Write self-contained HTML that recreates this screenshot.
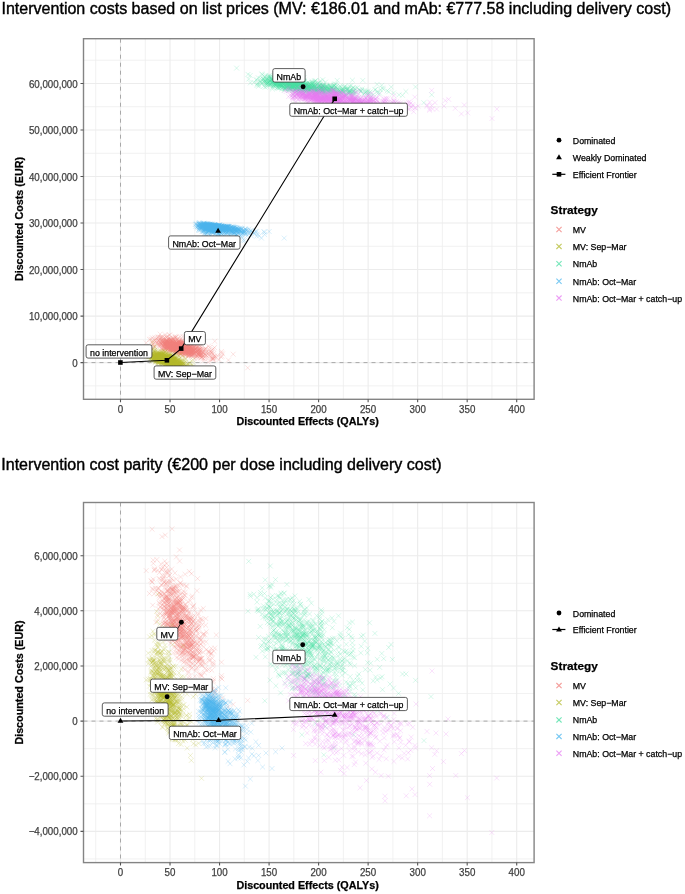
<!DOCTYPE html><html><head><meta charset="utf-8"><style>html,body{margin:0;padding:0;background:#fff;}svg{display:block;filter:blur(0.4px);} text{stroke:currentColor;stroke-width:0.25px;}</style></head><body><svg width="685" height="894" viewBox="0 0 685 894" font-family='"Liberation Sans", sans-serif'>
<defs><marker id="mMV" markerUnits="userSpaceOnUse" markerWidth="6.9" markerHeight="6.9" refX="3.45" refY="3.45" overflow="visible"><path d="M1 1l4.9 4.9m0 -4.9l-4.9 4.9" stroke="#F07E7A" stroke-opacity="0.27" stroke-width="0.8" fill="none"/></marker><marker id="mSEP" markerUnits="userSpaceOnUse" markerWidth="6.9" markerHeight="6.9" refX="3.45" refY="3.45" overflow="visible"><path d="M1 1l4.9 4.9m0 -4.9l-4.9 4.9" stroke="#B2BA2C" stroke-opacity="0.27" stroke-width="0.8" fill="none"/></marker><marker id="mNMAB" markerUnits="userSpaceOnUse" markerWidth="6.9" markerHeight="6.9" refX="3.45" refY="3.45" overflow="visible"><path d="M1 1l4.9 4.9m0 -4.9l-4.9 4.9" stroke="#46DEA2" stroke-opacity="0.27" stroke-width="0.8" fill="none"/></marker><marker id="mOCT" markerUnits="userSpaceOnUse" markerWidth="6.9" markerHeight="6.9" refX="3.45" refY="3.45" overflow="visible"><path d="M1 1l4.9 4.9m0 -4.9l-4.9 4.9" stroke="#4AB5EE" stroke-opacity="0.27" stroke-width="0.8" fill="none"/></marker><marker id="mCU" markerUnits="userSpaceOnUse" markerWidth="6.9" markerHeight="6.9" refX="3.45" refY="3.45" overflow="visible"><path d="M1 1l4.9 4.9m0 -4.9l-4.9 4.9" stroke="#E67CF2" stroke-opacity="0.27" stroke-width="0.8" fill="none"/></marker></defs>
<rect width="685" height="894" fill="#fff"/>
<text x="1.5" y="14.3" font-size="16.04" style="stroke-width:0.4px">Intervention costs based on list prices (MV: €186.01 and mAb: €777.58 including delivery cost)</text>
<text x="1.3" y="469.8" font-size="16.04" style="stroke-width:0.4px">Intervention cost parity (€200 per dose including delivery cost)</text>
<path d="M95.74 38.7V399.3M145.26 38.7V399.3M194.79 38.7V399.3M244.31 38.7V399.3M293.84 38.7V399.3M343.36 38.7V399.3M392.89 38.7V399.3M442.41 38.7V399.3M491.94 38.7V399.3M83.5 385.86H534.1M83.5 339.34H534.1M83.5 292.82H534.1M83.5 246.30H534.1M83.5 199.78H534.1M83.5 153.26H534.1M83.5 106.74H534.1M83.5 60.22H534.1" stroke="#EDEDED" stroke-width="0.8" fill="none"/>
<path d="M120.50 38.7V399.3M170.03 38.7V399.3M219.55 38.7V399.3M269.08 38.7V399.3M318.60 38.7V399.3M368.12 38.7V399.3M417.65 38.7V399.3M467.18 38.7V399.3M516.70 38.7V399.3M83.5 362.60H534.1M83.5 316.08H534.1M83.5 269.56H534.1M83.5 223.04H534.1M83.5 176.52H534.1M83.5 130.00H534.1M83.5 83.48H534.1" stroke="#ECECEC" stroke-width="1.1" fill="none"/>
<path d="M120.50 38.7V399.3M83.5 362.60H534.1" stroke="#A8A8A8" stroke-width="1" stroke-dasharray="4 4" fill="none"/>
<polyline fill="none" stroke="none" marker-start="url(#mMV)" marker-mid="url(#mMV)" marker-end="url(#mMV)" points="184.9,351.1 184.7,346.3 193.1,351.5 173.4,339.3 185.1,346.0 180.5,350.4 171.0,350.5 174.1,347.5 180.7,347.9 170.5,346.4 180.3,347.8 199.3,351.1 152.1,345.5 177.9,345.2 183.0,342.4 178.6,352.2 166.8,347.9 212.3,357.4 189.4,348.7 161.4,340.4 181.6,352.3 171.7,339.9 168.7,347.3 181.4,352.5 173.8,342.7 192.9,344.8 170.1,343.2 173.8,347.2 167.3,348.2 179.9,346.2 176.1,349.2 183.9,343.4 166.9,343.4 174.2,346.9 190.9,350.9 183.6,346.8 176.3,349.7 190.8,351.2 193.0,356.9 163.0,340.8 174.5,343.2 182.8,347.1 165.9,344.4 189.7,355.0 180.2,339.6 186.6,351.2 183.6,346.3 176.8,350.7 155.9,341.5 180.6,343.6 184.7,352.3 192.4,350.0 189.5,341.8 185.4,346.3 162.7,342.3 178.7,348.4 182.1,352.7 192.3,351.4 180.3,349.9 186.6,344.8 189.5,354.8 162.6,341.7 188.8,350.5 168.1,341.6 188.4,353.0 173.8,338.9 187.5,353.0 183.9,349.6 169.8,341.7 168.6,347.0 166.7,341.6 202.0,357.1 179.5,343.5 174.8,345.0 186.0,351.3 166.3,344.3 172.8,346.3 169.2,350.0 204.9,357.3 182.3,344.3 180.1,342.9 177.1,345.3 183.3,350.1 189.5,353.3 183.0,350.9 178.5,350.4 181.6,351.3 182.5,350.1 191.9,353.1 166.2,337.1 199.7,354.7 182.3,352.2 228.4,360.1 166.5,342.4 181.3,344.1 182.4,344.0 198.2,354.1 152.1,347.4 161.6,344.6 182.4,350.3 167.3,349.3 211.8,353.0 185.3,348.9 179.9,349.4 209.1,353.1 176.4,348.0 172.1,342.9 173.1,344.6 166.2,340.2 177.5,343.8 180.9,352.9 190.8,353.9 178.4,342.2 173.5,349.3 187.3,352.2 170.9,349.2 185.7,353.2 157.9,344.5 183.7,352.4 191.0,352.0 166.7,340.6 177.8,346.5 161.8,341.5 172.6,341.6 188.8,355.3 184.6,348.8 179.4,343.4 170.9,344.9 174.2,345.6 181.2,351.6 177.2,347.1 188.8,350.9 167.7,344.9 164.2,343.6 179.4,342.4 169.0,345.7 184.7,354.1 233.2,354.2 171.1,345.1 179.6,347.9 188.9,350.5 174.4,342.7 186.9,349.3 186.2,350.9 171.8,345.0 177.2,343.1 194.6,353.8 191.2,348.7 183.7,345.2 189.5,345.6 176.2,348.4 178.1,345.7 171.4,345.2 176.4,336.9 180.2,353.6 193.8,353.7 201.6,357.4 170.2,340.2 178.7,350.6 179.7,344.1 200.9,355.3 172.1,341.4 175.3,349.6 167.6,349.8 177.7,343.3 193.6,347.7 180.4,344.7 164.5,337.6 179.8,348.5 204.4,349.1 183.7,348.7 188.4,346.5 173.9,347.7 188.7,353.2 170.4,348.3 192.8,349.7 161.0,344.2 185.9,344.3 175.8,341.4 167.4,346.8 174.0,344.2 194.7,350.3 179.5,352.9 197.6,350.8 165.7,342.3 190.7,346.4 161.1,343.4 199.9,349.2 165.9,342.8 194.9,345.6 187.6,348.9 203.0,350.2 194.4,353.4 177.8,345.6 196.8,355.6 170.9,348.2 191.1,344.2 176.8,345.9 160.9,337.8 183.3,347.9 190.6,349.7 173.2,343.0 211.3,357.4 188.0,345.6 185.3,352.2 168.0,342.0 191.0,347.6 176.0,350.4 195.4,351.5 171.2,346.2 181.8,344.3 180.9,347.6 188.7,352.9 175.7,348.1 172.5,349.2 186.0,350.2 173.8,347.3 182.5,352.8 171.8,340.3 180.8,346.5 166.7,346.8 171.7,350.1 200.6,350.0 185.0,348.0 180.9,345.2 213.9,358.2 176.5,342.6 174.0,340.4 177.8,344.7 208.5,355.1 200.3,346.3 181.2,343.7 190.2,355.2 183.8,350.5 177.2,345.8 182.1,347.2 169.3,344.0 162.6,340.7 188.9,353.9 184.0,349.6 171.9,342.3 187.2,340.7 185.6,349.2 179.0,348.2 198.8,354.2 170.1,346.7 182.3,352.3 183.8,342.8 175.3,345.1 156.8,338.5 180.5,343.9 214.7,355.9 167.2,340.8 196.3,352.4 189.5,352.9 183.7,342.9 172.5,344.5 164.9,348.2 178.1,347.7 183.6,345.8 167.3,346.8 188.1,350.2 203.4,358.9 170.7,345.9 201.0,357.7 173.0,344.5 188.6,349.1 165.4,346.5 209.2,355.3 194.4,350.8 194.3,347.3 190.8,344.5 196.6,347.3 167.1,343.4 198.0,351.5 173.1,346.8 162.9,339.1 199.6,349.6 183.4,349.1 183.4,346.9 192.9,349.7 193.5,350.6 182.5,351.8 178.0,350.0 195.5,348.3 182.6,345.6 185.6,355.3 189.8,348.4 180.6,349.6 159.8,342.1 178.5,342.4 189.8,348.9 193.9,353.1 171.4,342.4 169.0,348.3 167.4,341.9 149.4,339.3 175.9,343.7 163.0,344.3 173.3,348.8 185.3,354.7 169.7,335.0 209.6,347.4 184.4,347.4 179.9,348.6 163.7,345.9 214.8,341.3 180.3,348.9 181.9,346.1 177.0,350.1 190.3,351.1 206.4,351.9 176.2,349.4 169.8,343.4 176.0,345.1 208.6,352.4 175.9,347.4 159.1,346.5 193.8,351.5 174.1,349.2 189.4,353.2 185.7,351.2 180.6,341.9 171.1,340.2 160.1,334.1 173.2,342.1 182.5,355.5 167.3,344.1 175.0,347.8 163.5,345.2 194.8,348.9 177.1,350.7 182.6,340.2 157.3,341.7 208.2,362.1 197.1,351.2 156.7,343.4 174.8,344.9 191.3,354.6 173.5,348.0 169.5,342.3 168.7,346.5 167.0,345.7 183.6,352.9 170.1,341.9 192.1,355.4 167.3,342.9 186.6,347.2 176.2,349.6 171.1,345.7 160.9,342.3 173.2,341.7 146.2,342.9 173.4,341.8 172.9,347.2 155.4,339.6 167.0,342.8 203.7,350.5 173.0,349.9 166.4,341.4 180.2,351.0 193.8,353.8 175.2,349.3 170.4,340.3 172.4,345.7 194.3,352.9 192.1,353.4 198.9,355.1 183.9,344.7 166.4,345.9 183.8,352.7 188.3,349.4 177.8,338.3 173.5,349.3 193.8,350.4 197.5,356.1 164.9,345.0 166.0,344.0 197.7,354.2 172.5,342.4 182.7,347.5 182.0,352.9 173.1,348.1 182.2,350.1 169.8,343.5 182.9,336.4 168.0,346.7 193.3,351.5 170.7,346.5 179.2,349.5 175.4,351.4 176.7,346.8 176.7,351.3 176.3,344.8 171.7,350.4 162.5,342.6 178.9,348.5 165.7,345.5 180.6,346.5 207.5,358.9 166.1,346.2 199.2,351.4 171.5,344.6 152.9,348.2 192.8,354.2 181.5,343.5 187.6,349.1 165.1,343.8 174.0,349.6 179.6,347.1 168.8,346.0 171.8,348.9 178.6,342.5 172.2,349.1 194.9,358.7 176.1,346.1 183.1,353.2 182.4,344.8 185.8,352.5 187.5,347.5 183.3,347.1 176.6,344.3 165.5,348.4 178.7,350.1 188.4,349.8 197.0,350.7 180.2,336.7 174.0,347.5 192.7,348.8 174.9,351.1 181.0,343.7 203.6,352.0 247.7,367.8 175.1,345.7 190.4,346.7 171.7,346.0 180.5,349.2 200.5,355.9 168.0,352.1 183.2,347.7 183.5,351.2 185.7,342.0 164.3,348.1 183.3,343.0 177.4,347.8 198.8,350.1 170.6,343.3 184.9,349.2 175.6,337.3 213.4,356.7 180.8,343.2 190.4,353.2 166.5,339.9 169.4,338.7 196.3,356.5 178.2,343.6 179.2,344.7 164.1,347.2 176.0,345.1 178.3,347.5 197.9,347.0 163.9,345.5 163.9,347.6 182.0,340.5 194.8,344.7 174.9,351.9 178.3,347.3 182.5,351.4 176.7,345.9 174.7,341.3 170.3,343.0 181.4,347.4 190.4,351.2 191.3,349.5 163.3,343.1 191.4,352.3 190.0,351.6 192.6,345.3 184.7,342.1 189.5,347.4 180.5,346.7 168.1,339.1 173.9,349.2 188.1,356.7 192.1,351.3 180.4,346.9 176.9,346.5 166.5,348.1 165.2,347.5 192.6,354.4 189.2,349.8 216.3,357.8 170.8,339.1 192.7,343.4 196.1,348.7 177.0,351.2 168.0,342.9 193.8,339.2 175.6,342.9 175.6,337.8 154.4,346.3 175.1,346.0 182.8,355.3 179.8,344.2 153.2,343.6 206.3,352.4 176.4,351.5 169.2,347.6 163.4,341.3 164.4,342.9 179.7,348.4 184.4,344.9 221.5,351.4 179.4,345.1 176.8,342.4 181.1,341.6 189.3,346.9 172.9,348.7 211.3,359.7 186.6,346.3 201.2,354.7 173.9,347.1 176.1,347.7 178.8,345.7 184.1,351.4 188.3,349.2 193.7,355.3 165.5,343.6 169.7,345.1 191.7,352.6 173.2,350.9 182.8,350.4 162.8,345.2 162.1,345.6 200.4,345.9 187.2,343.7 172.6,349.3 197.3,352.7 178.5,344.5 182.2,353.1 170.4,346.7 204.1,354.8 163.6,346.7 166.6,342.6 176.9,345.9 172.5,346.4 168.9,347.1 192.2,352.5 170.0,349.3 186.3,344.5 177.0,352.7 175.0,347.3 173.0,350.1 180.7,351.8 177.3,345.1 169.1,343.4 169.6,344.2 185.1,350.4 193.0,350.1 199.4,349.4 170.4,347.4 181.4,343.1 173.2,347.3 189.0,345.1 179.8,349.2 193.1,350.2 187.0,349.0 180.3,346.3 181.3,342.0 181.4,346.9 184.4,345.2 177.7,351.4 186.1,353.1 168.3,340.9 183.7,350.0 175.9,346.1 183.6,348.5 171.6,348.2 185.1,344.2 161.8,349.0 160.2,345.5 169.8,344.7 158.2,336.8 191.3,348.5 188.5,355.9 211.8,352.1 198.8,352.3 176.5,349.6 202.9,352.6 174.2,344.6 196.4,347.8 179.7,344.8 197.5,353.5 159.6,342.2 151.0,339.2 166.9,341.9 182.4,343.7 173.8,345.9 182.7,347.7 189.3,344.5 190.0,347.6 161.6,337.6 195.4,351.5 171.8,340.4 163.7,338.2 187.2,346.5 174.4,344.5 172.8,351.2 174.3,340.8 181.0,348.3 176.3,344.4 209.1,350.1 184.8,350.6 191.9,347.5 202.2,349.6 173.3,346.3 185.7,353.2 219.0,359.6 166.2,345.7 164.5,341.3 190.6,349.1 167.6,339.3 168.3,348.2 189.3,345.2 178.1,347.1 183.2,345.3 177.9,348.0 164.4,344.5 171.4,340.8 198.3,354.3 182.0,350.8 184.0,347.9 189.9,349.6 203.3,360.9 178.7,342.9 166.8,341.2 186.6,354.2 192.2,350.7 196.3,345.2 179.7,345.0 178.9,350.8 161.7,336.7 198.5,349.3 176.3,342.7 167.3,345.7 188.1,343.2 154.8,337.7 190.9,354.7 174.0,345.3 168.4,348.5 191.4,354.5 158.5,340.4 202.6,357.8 191.3,351.9 175.8,344.0 185.4,351.2 176.2,349.5 166.2,346.9 172.9,348.5 201.5,355.1 195.8,348.9 190.8,349.9 213.0,359.0 178.7,348.7 175.8,348.4 184.4,349.7 153.2,341.3 186.7,350.8 178.2,346.7 195.0,349.2 202.1,354.5 165.3,344.4 154.2,340.1 198.5,352.8 181.5,347.4 183.4,349.3 183.4,348.0 190.5,351.2 194.6,346.6 192.3,349.4 174.8,345.5 193.0,354.3 205.6,348.5 173.5,347.1 181.5,346.6 217.5,355.6 173.5,349.1 188.3,346.0 169.9,338.7 189.5,347.7 152.7,343.8 177.4,343.5 192.5,348.5 167.9,336.2 159.2,344.0 177.4,339.7 176.6,353.1 184.3,346.3 196.8,356.0 200.4,354.1 158.8,341.1 168.4,347.3 167.7,347.3 176.7,344.4 171.4,344.5 181.2,345.8 159.0,337.5 165.0,341.9 178.9,352.4 174.8,336.5 159.1,345.5 169.9,342.8 179.8,349.4 177.9,344.5 185.5,343.9 174.7,346.2 167.4,345.3 179.6,354.1 187.6,343.2 183.0,349.0 165.9,341.8 176.2,344.5 189.8,350.6 181.1,343.6 166.9,347.1 176.8,339.7 181.6,348.2 189.2,352.0 172.8,344.8 189.0,342.6 173.5,346.0 182.9,347.1 152.0,341.5 214.5,347.5 187.8,345.6 195.5,350.5 169.8,343.3 171.6,348.3 158.9,339.9 192.2,349.7 182.4,341.8 167.2,340.7 167.0,341.4 167.9,350.0 172.0,346.5 162.3,337.9 179.3,349.2 180.5,353.4 190.8,353.1 172.8,348.0 167.1,342.9 201.1,349.9 157.9,337.7 170.4,350.4 169.3,335.1 185.5,348.1 214.6,357.2 200.2,343.2 175.0,349.6 212.7,353.9 197.8,350.9 188.4,342.2 208.6,346.1 191.2,355.8 178.1,348.1 205.2,354.8 180.2,351.4 172.4,348.7 174.9,351.7 170.6,349.1 168.8,343.6 166.1,341.0 205.1,349.7 171.5,348.7 172.0,347.7 172.8,345.3 200.8,354.3 199.4,347.5 183.4,346.3 179.0,341.0 179.2,351.5 192.5,350.6 199.2,353.0 164.4,342.9 199.3,355.4 195.2,349.2 173.4,350.2 175.6,348.4 183.4,349.9 176.9,343.2 175.1,346.6 153.3,344.0 201.3,356.8 175.3,349.7 165.2,334.7 163.9,341.1 185.6,340.3 187.8,352.1 187.0,348.7 176.7,352.2 167.5,346.6 174.8,344.5 167.2,345.1 222.0,356.3 171.3,348.4 189.7,345.8 188.8,352.0 175.6,346.9 174.4,345.4 180.4,347.5 186.7,347.4 184.9,349.5 160.2,337.3 186.7,348.0 194.6,350.4 172.8,343.0 180.0,347.3 166.6,347.5 194.4,349.5 173.4,344.7 192.4,354.2 213.1,359.5 185.2,351.3 185.4,346.9 170.2,346.0 174.4,349.1 170.8,347.7 179.3,341.7 167.9,345.0 173.7,340.3 221.5,353.0 205.7,348.8 161.8,349.6 162.0,341.6 177.1,348.3 190.0,350.0 174.8,347.0 180.6,345.4 183.6,349.0 178.6,340.7 166.8,337.0 206.1,355.5 189.6,347.5 184.7,349.7 176.4,344.9 184.3,348.4 188.1,343.6 190.3,350.0 172.2,341.1 190.1,346.9 154.4,347.0 177.5,349.0 192.2,354.5 175.1,347.6 164.6,350.9 186.4,348.2 157.4,343.3 172.7,338.0 221.0,357.0 193.7,349.0 199.1,354.3 164.8,344.4 159.3,344.4 191.2,347.2 179.5,352.1 198.5,350.3 191.5,343.7 175.4,341.4 172.6,343.7 203.7,353.1 164.1,350.1 189.1,354.5 197.1,358.7 172.0,351.1 196.4,352.3 178.8,350.7 185.3,345.1 191.3,348.4 169.4,340.8 169.4,340.6 171.1,346.3 169.0,348.8 171.4,342.3 185.1,352.2 186.6,351.6 185.6,353.0 178.8,341.8 189.6,348.9 206.2,355.2 166.8,348.8 197.0,354.3 189.8,350.4 213.4,354.0 203.0,356.0 174.3,337.9 202.5,352.4 169.6,349.8 222.6,353.9 201.3,353.2 199.1,353.1 177.4,344.1 188.2,352.7 183.9,352.0 167.2,343.8 180.1,354.0 187.0,353.5 187.5,348.3 181.7,342.9 200.8,351.8 176.1,345.9 179.2,344.8 173.1,347.3 173.0,346.8 213.4,348.9 175.6,346.9 160.5,340.0 187.8,341.0 162.3,347.8 167.9,341.3 196.8,344.4 176.1,343.3 196.4,346.2 176.1,346.9 190.8,344.4 176.4,344.1 179.5,349.8 172.2,346.1 189.3,348.3 177.4,342.7 179.6,341.0 183.1,346.4 182.4,348.4 194.3,352.7 164.9,342.4 171.5,346.6 187.8,355.5 184.0,351.9 198.7,350.0 188.2,354.3 192.4,348.2 190.0,348.6 183.3,350.9 183.6,343.4 181.7,353.0 170.7,340.2 163.6,341.7 165.3,343.3 212.3,359.3 210.9,353.0 188.7,350.1 170.0,343.2 174.2,349.4 191.5,348.4 162.9,349.3 171.5,347.6 167.7,346.1 210.9,351.3 190.2,351.5 167.9,343.0 202.3,354.8 205.8,354.8 171.6,349.0 185.8,346.6 175.9,347.2 173.2,346.4 152.2,337.7 174.1,344.0 188.5,349.2 186.1,350.7 189.1,342.5 200.0,352.1 177.0,352.4 164.1,346.3 182.4,349.8 198.5,355.2 165.1,349.1 199.2,350.0 168.7,342.5 179.1,349.1 180.5,346.0 187.9,354.6 178.5,345.7 178.9,342.0 184.5,349.7 169.4,343.1 179.8,348.1 212.9,358.3 191.3,349.1 182.1,346.5 179.7,343.7 183.3,350.5 177.3,347.1 211.6,350.3 175.2,343.9 198.8,346.3 199.8,348.9 180.1,350.0 198.3,349.0 186.0,351.6 175.1,343.2"/>
<polyline fill="none" stroke="none" marker-start="url(#mSEP)" marker-mid="url(#mSEP)" marker-end="url(#mSEP)" points="168.5,354.3 163.3,364.1 185.3,359.6 164.0,360.0 169.3,359.8 176.2,362.2 164.0,360.6 171.0,362.6 171.8,354.8 167.9,364.2 174.8,358.7 169.8,363.1 158.6,361.4 188.4,367.9 153.7,357.3 174.8,358.2 177.2,358.5 168.7,353.2 165.3,364.8 157.8,358.1 169.0,358.0 160.5,358.3 162.1,359.7 164.8,359.1 152.8,359.1 176.8,366.8 168.2,360.6 167.6,357.3 192.3,365.1 164.4,356.0 172.8,357.0 165.2,357.3 172.8,360.3 155.0,362.7 178.5,361.0 181.9,360.6 160.7,356.0 166.1,360.5 159.6,357.7 170.0,360.8 164.4,359.6 175.3,364.3 160.5,357.9 159.4,356.8 177.9,361.4 159.9,360.4 161.2,354.6 159.9,356.6 167.2,363.2 161.0,356.1 160.0,358.0 164.5,362.2 175.4,366.6 193.4,369.9 162.9,357.4 158.4,356.9 159.0,359.2 152.2,356.1 165.4,359.0 183.8,366.8 167.2,357.0 166.4,361.5 173.6,359.2 161.2,360.8 162.3,355.9 161.8,360.9 173.2,352.5 160.1,359.5 163.0,355.7 166.4,364.5 159.2,361.7 168.6,361.2 170.0,364.1 173.0,365.9 184.4,365.2 177.4,367.1 170.7,361.8 162.7,358.1 164.1,358.5 173.8,362.1 166.0,358.9 160.2,354.4 151.3,356.2 164.7,361.6 175.9,366.2 168.8,363.1 169.6,359.4 159.6,362.1 171.5,361.9 167.9,361.4 177.8,359.6 158.0,355.9 167.7,363.9 182.1,366.8 164.4,357.3 151.8,355.5 175.0,365.7 160.9,351.1 187.2,366.7 157.8,351.9 152.8,349.8 161.9,359.9 159.8,359.0 169.5,364.1 152.2,353.8 179.5,365.6 167.4,360.0 173.7,359.8 169.3,362.4 178.4,359.9 156.6,351.6 173.6,361.3 152.6,359.3 171.9,360.7 153.3,358.1 161.9,361.2 198.6,370.7 175.9,361.9 172.8,363.8 167.7,358.4 156.7,361.1 171.6,362.7 168.2,358.2 159.9,354.8 153.4,352.9 173.9,357.5 172.8,365.2 162.8,359.0 156.9,356.1 174.9,368.4 160.5,359.5 155.6,351.9 156.6,356.0 158.5,359.4 156.4,355.3 159.0,360.0 164.2,356.5 182.1,362.8 164.6,357.9 161.1,360.8 171.9,361.4 173.9,355.3 148.2,354.7 162.8,355.6 158.2,356.6 171.5,358.6 195.6,370.2 178.0,363.4 169.2,356.1 152.6,349.7 174.0,366.3 172.4,362.2 159.9,353.4 180.1,364.7 166.4,356.3 181.4,361.8 166.0,354.6 170.8,358.6 157.0,354.5 153.7,357.0 190.4,366.2 168.0,365.1 158.8,355.7 158.0,355.5 161.8,360.7 173.2,362.6 153.3,358.6 174.0,361.8 168.8,361.5 168.1,360.5 167.1,357.5 165.0,355.3 154.4,357.5 166.3,359.5 171.0,362.3 179.2,367.8 169.3,359.5 157.0,359.6 155.9,358.7 176.2,358.5 169.5,363.6 167.3,365.7 167.6,359.2 169.3,358.9 156.5,356.5 152.1,357.1 165.7,356.8 170.8,359.9 166.3,361.6 179.1,365.0 171.7,359.4 165.2,360.4 173.4,364.1 159.9,361.1 185.1,367.4 169.5,365.0 164.4,365.9 184.5,364.5 159.1,358.9 158.8,359.1 179.2,366.1 157.0,353.8 169.0,361.9 170.3,355.2 160.4,358.7 167.1,363.1 148.8,357.0 172.5,359.4 167.8,356.6 159.9,356.7 180.2,365.1 168.9,361.7 160.9,358.5 155.9,353.6 166.9,360.9 159.5,357.5 162.0,352.0 164.8,360.8 179.6,361.5 180.0,364.4 158.4,361.3 161.4,357.7 163.5,359.7 152.6,342.1 161.9,357.4 157.1,360.0 165.0,360.7 153.9,353.1 159.1,356.2 156.8,360.4 173.5,356.5 162.3,357.6 169.3,363.7 170.3,363.2 172.6,363.5 163.3,357.3 182.0,363.8 201.5,370.0 174.9,360.1 169.1,365.4 160.2,362.0 168.2,361.1 172.3,361.2 174.7,364.4 163.8,365.5 160.7,358.3 173.2,359.5 157.0,361.2 160.2,358.2 164.8,356.6 149.7,356.2 168.4,363.7 159.7,354.2 180.5,360.9 173.5,356.3 163.0,359.6 163.0,357.2 157.8,356.0 163.4,357.0 157.8,361.4 173.8,358.2 161.0,355.0 169.4,365.2 155.8,355.5 174.1,361.7 162.1,353.1 168.2,361.7 154.3,347.0 169.6,362.2 179.1,369.5 169.9,363.1 174.0,360.4 161.6,362.5 160.2,355.7 151.9,361.1 158.5,355.9 166.3,359.8 186.3,365.4 155.8,360.0 161.8,355.3 161.1,358.8 162.5,358.0 153.1,358.8 166.7,361.2 164.3,361.2 172.2,360.8 182.9,363.9 166.6,362.8 182.1,364.3 168.2,360.9 163.7,355.6 164.9,360.4 165.3,351.9 171.3,361.1 162.1,355.0 178.9,362.5 162.9,356.0 155.0,359.0 164.5,355.0 158.4,358.4 183.0,364.3 172.8,365.7 165.0,360.9 195.6,369.2 164.1,358.0 161.1,360.5 182.9,368.5 153.5,354.8 170.5,358.1 155.6,358.2 169.1,361.9 170.4,361.7 185.8,365.7 185.3,358.4 165.4,359.6 175.0,356.8 163.0,354.8 184.0,356.7 161.7,363.8 163.0,360.0 168.2,362.7 158.3,353.8 161.4,359.2 179.2,362.0 161.4,359.6 175.3,361.4 168.0,358.9 169.6,353.7 160.9,359.5 167.2,357.8 168.0,360.9 166.6,358.5 160.4,358.3 175.1,364.8 159.9,359.5 181.9,363.9 178.1,361.0 166.8,357.7 152.9,359.3 174.2,364.1 161.8,351.3 182.9,365.0 156.3,360.3 163.4,357.2 168.2,361.8 192.7,359.6 171.1,357.8 174.2,359.2 172.2,364.8 155.8,359.4 165.1,352.0 168.0,360.3 179.8,368.3 150.9,356.0 160.9,353.7 170.5,363.1 163.6,361.7 177.3,366.0 169.3,359.4 165.8,360.5 160.7,358.6 160.9,360.4 174.6,362.0 178.3,363.7 151.4,358.1 179.1,362.2 162.9,351.5 167.2,358.4 161.5,355.5 161.8,361.2 177.2,364.6 159.1,358.8 161.3,359.1 175.2,365.3 164.9,362.7 180.1,366.7 168.3,363.9 163.2,362.4 185.1,361.4 161.4,356.0 163.6,361.0 164.4,358.7 169.3,355.5 179.5,363.0 150.1,357.4 168.2,359.0 189.6,366.1 165.5,360.6 177.1,354.4 171.1,358.8 159.1,356.3 155.8,356.5 173.1,364.9 175.5,362.1 151.2,356.6 161.8,355.5 157.8,359.3 163.7,361.3 155.6,361.5 172.6,357.9 169.8,360.8 154.7,358.7 158.7,354.0 170.1,360.7 166.7,359.7 161.9,362.3 176.9,357.7 172.9,359.9 167.4,363.3 174.8,361.9 163.4,358.6 166.9,358.0 168.6,357.2 168.0,362.7 156.7,355.8 168.5,357.8 173.5,356.5 179.5,367.1 163.4,357.3 170.5,362.0 159.9,361.1 180.6,363.6 155.1,357.4 164.8,352.0 169.3,364.6 178.6,364.9 166.0,364.2 153.4,360.3 181.0,358.1 170.5,361.2 157.3,353.3 175.7,363.1 180.4,365.7 168.6,355.3 169.6,356.7 171.7,365.8 173.1,362.6 175.8,361.8 158.4,355.1 166.9,358.2 163.0,360.9 169.3,365.3 193.2,366.4 169.5,360.2 167.6,357.9 160.7,355.0 158.6,356.8 164.4,357.9 172.1,359.1 165.3,360.7 168.5,357.7 169.2,356.2 166.4,356.7 152.2,353.2 169.6,359.9 177.8,367.4 170.1,360.1 165.0,358.3 175.7,368.1 169.0,361.6 180.4,364.5 166.2,361.3 159.4,356.6 172.3,358.2 167.4,356.7 172.5,364.0 160.5,358.1 163.1,356.0 159.3,356.1 170.8,361.7 174.9,360.3 162.5,354.6 169.7,357.9 173.8,360.7 169.6,361.3 170.6,363.7 158.0,356.2 154.2,357.1 170.2,361.5 161.0,356.6 173.2,357.6 182.5,360.8 159.6,360.4 167.5,362.3 155.7,357.6 161.9,363.4 158.7,359.4 164.6,360.5 182.7,367.6 173.5,360.6 202.3,371.4 179.1,358.5 169.1,361.5 178.1,358.2 156.4,355.3 157.6,356.9 175.6,364.7 174.2,362.4 166.4,356.7 186.2,362.1 159.4,360.4 178.5,364.8 162.8,360.8 149.5,352.4 176.4,360.9 159.4,360.4 171.5,365.9 160.7,358.0 167.1,359.9 167.5,364.3 161.0,356.5 162.1,358.7 158.3,355.8 171.4,358.3 158.4,361.5 174.3,362.3 154.2,355.2 174.1,361.3 169.1,355.8 181.0,365.9 166.2,361.7 152.2,354.3 154.3,350.2 173.4,360.9 182.4,364.9 172.0,361.6 168.8,364.6 178.6,363.7 164.9,358.7 167.7,361.8 167.5,360.9 158.1,362.4 152.5,359.6 166.8,361.1 155.1,356.7 162.2,360.9 169.3,362.1 166.1,360.9 161.1,355.8 158.4,354.2 172.4,360.1 169.7,359.9 155.0,355.3 160.5,361.1 166.8,362.5 169.4,361.6 167.3,360.7 162.6,355.1 153.3,354.5 176.1,363.0 180.4,365.3 156.6,358.8 155.6,359.8 180.8,354.4 171.4,360.4 155.4,353.1 154.4,355.6 168.3,359.9 179.1,363.2 168.5,362.8 171.5,364.4 160.0,356.0 157.5,354.9 174.2,359.0 164.7,358.3 166.4,353.8 169.4,364.0 174.0,359.4 161.7,354.8 160.6,356.4 154.3,354.5 173.7,363.1 166.0,362.3 161.7,357.8 154.7,346.8 165.5,359.7 177.3,360.7 172.8,360.4 170.1,363.1 161.4,358.6 162.4,356.0 163.6,362.1 168.0,358.5 162.5,356.3 151.0,357.9 163.0,356.5 171.7,360.1 165.8,359.1 157.7,357.2 150.6,355.7 181.2,360.7 158.7,362.6 154.0,351.0 164.1,357.6 161.4,359.5 169.7,356.8 163.6,360.8 165.4,355.2 167.1,362.0 172.4,361.9 172.5,356.5 167.9,359.7 154.4,359.6 174.9,364.2 158.0,354.7 163.8,363.3 168.2,363.3 174.8,361.8 174.6,365.9 180.0,369.0 166.5,358.7 158.2,356.5 168.0,364.0 178.1,364.4 163.1,353.4 164.3,361.6 156.3,353.2 160.8,360.2 175.0,359.8 171.7,364.6 164.2,360.2 152.9,358.6 167.1,362.0 154.4,358.2 170.9,360.4 157.5,352.6 152.8,356.5 165.3,363.5 165.3,360.0 159.3,357.8 186.9,365.5 162.1,358.8 160.5,355.7 166.5,358.0 176.8,366.8 178.5,361.3 174.6,361.5 166.8,363.3 165.8,365.8 159.5,360.2 160.2,358.3 173.8,367.4 176.8,365.8 160.6,361.1 177.5,362.9 170.2,358.9 172.7,362.4 159.7,361.8 162.6,357.7 168.5,358.6 172.8,360.9 173.9,363.6 176.7,366.8 165.2,357.8 170.8,360.6 180.0,367.4 168.5,362.8 159.1,359.9 162.6,363.9 158.0,359.3 151.7,350.6 174.9,359.6 164.8,364.5 191.3,363.6 152.6,355.8 148.3,348.8 186.7,364.4 165.8,361.9 155.4,357.9 160.2,359.7 161.0,358.5 174.8,362.5 167.6,360.7 157.5,358.0 157.8,358.3 168.5,358.1 170.2,359.4 156.6,354.3 155.3,358.1 168.8,363.4 187.1,367.2 171.5,362.7 169.6,357.6 170.9,366.9 156.5,357.6 179.7,362.7 174.7,360.0 181.9,367.4 157.1,357.9 161.3,355.2 163.8,362.8 155.6,355.0 178.4,360.0 169.9,361.5 160.8,355.9 167.8,355.9 182.1,365.1 154.3,360.9 165.5,357.8 160.3,354.3 165.7,360.9 159.1,354.6 175.3,363.0 163.3,362.1 155.8,356.5 172.6,362.7 153.4,358.9 146.2,356.9 158.3,355.5 154.3,351.2 164.4,359.7 173.7,364.9 169.3,359.2 149.6,356.1 163.1,359.4 167.1,357.0 164.5,358.1 189.6,363.0 168.9,361.0 150.2,350.9 164.4,362.4 161.1,354.4 155.1,356.4 164.1,359.7 164.2,358.7 170.4,361.2 179.4,367.4 161.5,359.0 169.2,359.0 178.9,363.3 150.0,348.2 176.3,361.3 167.6,363.1 183.5,363.5 165.6,360.4 153.5,351.6 177.1,362.9 170.8,359.7 168.9,361.8 163.2,361.4 156.4,355.3 165.2,355.2 164.1,357.2 170.8,364.1 166.6,360.1 181.0,366.3 163.9,361.9 163.5,362.2 161.4,359.8 156.7,357.6 165.1,356.6 168.4,358.1 168.8,361.0 169.1,358.1 169.0,360.7 159.8,360.2 166.2,360.7 164.6,352.3 157.3,357.4 164.5,357.0 170.2,357.9 169.2,358.8 166.3,361.8 150.8,354.4 188.4,364.3 191.7,361.0 158.7,363.4 173.6,360.2 165.2,360.1 159.4,359.3 164.2,359.1 178.4,359.6 180.6,364.1 160.4,359.0 156.9,360.6 173.8,364.4 176.9,363.4 165.9,361.7 168.8,354.9 177.4,362.7 166.5,362.0 183.5,362.9 177.7,359.8 151.8,358.2 166.4,357.4 169.7,364.0 170.4,361.2 158.4,361.9 187.2,364.7 157.8,356.4 178.5,363.4 173.1,363.1 157.8,352.1 178.7,355.0 166.3,355.6 181.9,361.8 172.1,361.3 156.4,350.6 163.8,359.0 171.6,359.7 152.1,356.1 167.2,361.9 170.0,362.3 164.3,363.6 161.0,356.0 162.1,362.1 165.5,361.1 164.6,354.2 169.7,357.9 156.5,354.7 154.4,359.1 160.8,359.1 177.1,355.3 172.3,363.2 162.7,360.7 162.5,359.4 158.2,355.9 172.2,359.8 161.2,354.6 187.4,369.1 163.1,357.0 173.1,359.9 160.5,352.7 170.8,360.1 168.2,359.8 157.7,357.1 164.1,361.7 178.6,365.3 159.6,364.5 173.2,362.4 153.0,353.1 167.8,359.9 162.0,359.1 161.2,353.3 171.3,360.6 167.7,358.1 177.4,365.3 164.2,356.2 156.2,357.5 162.0,356.0 171.2,361.0 163.6,357.2 169.9,361.8 151.7,353.8 161.4,357.7 150.5,358.9 167.6,358.4 171.9,358.9 155.0,356.2 175.9,365.9 181.7,367.2 159.8,356.8 174.7,365.5 168.2,359.8 173.3,361.4 167.5,358.3 164.7,362.0 152.0,354.0 161.5,358.8 182.2,362.1 170.7,363.8 159.0,361.5 164.0,358.9 167.5,356.5 164.6,360.9 167.6,356.7 168.3,359.7 161.2,360.5 171.3,361.5 168.5,358.7 174.2,360.0 171.7,362.7 155.8,356.6 158.8,361.6 167.6,352.7 163.0,358.9 152.8,354.0 157.5,360.7 166.9,360.5 156.3,360.7 155.3,359.4 167.8,358.1 167.6,366.0 161.3,354.3 158.3,360.4 177.0,362.5 171.4,362.4 171.4,357.5 168.6,362.9 165.1,361.1 163.1,357.1 164.1,360.9 163.2,356.8 181.7,362.3 155.4,358.5 173.5,360.5 163.7,355.1 169.2,365.2 170.0,363.1 164.9,361.2 166.9,359.5 157.5,359.5 153.8,355.7 161.3,358.4 159.5,357.3 164.3,357.7 158.3,354.8 164.6,359.9 165.3,361.7 170.8,359.3 157.0,355.2 169.4,363.1 179.9,362.3 166.6,362.3 164.7,358.0 180.5,364.5 178.9,366.5 159.6,356.5 157.2,355.2 173.4,356.6 156.5,359.9 176.4,360.5 167.0,361.7 159.8,356.4 162.3,354.6 173.7,360.1 150.6,354.5 152.4,357.2 171.2,362.2 168.2,358.5 165.5,357.3 165.7,361.6 160.2,359.3 168.5,361.5 173.5,364.6 163.5,356.4 176.6,364.1 155.3,357.2 166.5,356.3 159.6,358.7 165.7,356.7 158.2,359.2 175.5,362.3 177.4,362.8 173.3,363.6 159.6,357.0 159.8,361.0 160.6,362.1 163.7,359.7 165.0,358.2 164.0,354.1 159.4,363.3 182.9,365.3 171.6,362.8 172.0,358.9 165.1,359.4 162.6,353.4 173.0,357.4 155.1,356.1 177.0,363.4 154.2,359.1 186.8,367.0 148.3,356.7 167.4,359.7 174.3,363.5 171.7,364.8 167.8,361.7 165.5,359.4 170.4,359.3 177.1,362.7 164.8,361.4 152.9,356.4 174.7,363.2 157.5,358.8 158.3,359.0 173.7,360.8 154.8,357.3 167.4,358.2 161.3,357.0 153.7,356.3 168.6,359.5 157.6,354.2 177.5,363.2 170.5,360.2 149.2,354.0 172.7,363.7 168.2,360.8 162.6,355.0 177.9,362.1 164.5,357.4 151.5,358.8 164.9,361.1 173.9,366.3 174.1,359.2 157.2,355.2 166.7,361.2 173.5,359.5 176.0,365.5 168.6,363.5 153.6,355.7"/>
<polyline fill="none" stroke="none" marker-start="url(#mNMAB)" marker-mid="url(#mNMAB)" marker-end="url(#mNMAB)" points="365.3,90.1 311.3,92.9 289.4,85.4 260.7,78.6 280.6,84.0 306.1,88.4 293.4,94.2 276.8,83.0 313.1,82.6 327.2,86.5 300.8,84.5 314.9,89.8 295.7,86.3 361.2,91.5 294.3,82.1 280.2,87.7 324.9,95.3 302.5,84.5 250.4,82.9 278.7,83.9 307.4,86.1 289.6,85.7 300.9,88.9 342.0,90.2 305.2,86.6 295.2,82.4 316.0,91.6 294.9,84.3 306.2,83.5 319.1,89.0 266.5,80.0 278.6,81.6 260.5,81.2 319.7,85.7 258.7,84.9 308.8,88.5 348.5,92.4 309.5,89.8 342.0,90.5 291.2,83.9 351.8,88.9 321.0,89.5 309.4,86.7 281.9,89.0 340.8,92.8 286.2,82.2 306.0,87.6 273.2,82.1 300.1,80.8 321.1,85.5 292.5,88.6 294.3,86.3 282.0,80.6 297.5,86.1 306.0,87.9 345.2,85.9 260.4,82.6 286.0,77.5 257.1,84.0 330.7,90.9 278.3,79.1 301.3,82.6 365.6,92.5 321.4,89.0 354.6,94.0 340.7,93.0 295.5,82.3 345.4,92.7 292.8,89.1 313.2,91.0 279.3,84.4 382.5,88.1 287.1,86.5 271.7,78.0 323.9,86.9 308.9,91.1 303.8,86.6 293.7,89.1 303.1,90.6 288.9,86.0 292.1,84.0 290.5,78.0 322.8,85.3 352.3,92.5 324.1,92.8 303.7,85.5 331.2,88.0 304.2,88.1 293.3,83.2 322.4,91.4 370.1,91.9 370.7,95.9 291.0,80.7 320.4,90.4 310.2,87.0 349.4,92.8 330.0,91.5 278.7,84.0 274.3,83.8 329.6,90.1 317.2,94.6 307.2,92.6 293.5,86.8 321.2,91.2 318.0,89.7 332.6,91.9 281.4,76.6 287.0,85.2 301.3,85.0 295.6,90.7 295.6,85.1 296.3,87.4 332.4,90.6 261.7,73.9 297.1,88.6 314.5,89.9 264.5,81.1 296.5,81.1 273.5,85.7 320.4,80.8 284.9,88.0 286.9,83.8 305.6,88.7 282.2,82.0 375.6,89.3 303.5,93.4 299.2,81.5 287.7,85.5 304.3,84.6 274.6,86.7 297.2,92.1 279.2,86.1 315.4,94.4 321.0,93.3 319.8,90.0 323.5,87.7 297.7,86.1 337.9,89.9 291.6,85.4 359.9,90.0 297.9,90.0 335.8,86.5 309.8,83.5 281.6,78.3 314.6,85.7 305.5,85.5 286.9,86.3 280.0,84.9 298.2,85.9 301.3,82.1 286.7,88.0 275.0,83.4 309.9,89.8 265.6,75.3 324.2,92.1 326.5,88.3 301.0,86.2 272.3,82.1 324.9,88.6 314.9,92.6 308.1,87.1 292.3,84.0 267.6,83.6 275.8,84.6 318.5,91.0 402.5,95.3 285.4,86.2 309.6,83.7 331.9,90.6 248.0,74.4 285.8,82.7 285.1,89.0 347.0,89.3 305.5,84.4 303.1,88.6 302.8,85.8 281.8,80.4 315.8,86.1 292.1,87.4 320.5,88.8 307.8,91.7 334.0,92.6 297.9,85.6 280.1,84.2 284.4,81.0 273.8,81.0 304.8,89.2 318.4,92.3 321.0,88.6 353.8,93.5 297.3,81.2 294.2,85.1 293.6,87.3 315.9,87.8 322.8,79.7 262.3,74.7 322.1,87.6 315.2,80.9 291.1,85.2 340.5,87.9 288.5,88.5 296.4,91.5 312.5,88.1 342.8,88.7 328.0,89.7 333.6,90.5 304.0,77.6 321.6,91.2 345.3,94.3 364.7,93.0 319.5,85.2 291.9,87.4 320.8,88.9 287.5,80.3 329.2,91.7 302.7,90.5 305.4,87.5 276.9,78.7 303.4,83.3 286.4,83.3 313.1,85.1 285.8,82.0 322.4,89.6 314.9,90.6 272.8,82.5 290.5,84.6 289.6,79.5 298.9,81.9 330.3,86.5 289.0,88.2 334.0,90.0 337.9,88.9 296.3,88.5 290.7,85.9 320.1,88.3 298.1,84.5 353.7,91.4 297.7,85.8 257.0,79.7 300.0,88.1 321.9,91.8 294.9,89.1 273.2,83.9 330.3,84.9 270.4,78.0 299.4,91.9 293.0,87.7 296.7,87.1 310.4,87.8 340.9,91.4 331.0,90.1 319.6,91.3 324.2,91.9 349.5,86.1 314.3,84.7 351.8,96.8 293.6,86.0 289.7,86.4 300.0,85.0 360.8,91.0 301.1,86.5 318.6,86.6 284.2,84.8 314.9,86.5 288.3,78.2 313.9,85.5 308.7,86.2 312.0,89.2 292.6,82.5 307.9,84.2 273.8,83.1 352.2,93.3 310.8,87.3 321.9,89.6 349.3,90.9 337.2,80.4 290.8,83.7 325.4,89.4 291.2,86.6 265.3,82.1 315.8,87.7 333.9,86.3 271.6,79.3 298.4,89.7 327.9,91.1 330.5,89.5 294.9,89.6 280.2,83.5 322.1,84.9 310.7,86.1 314.0,88.4 338.5,91.4 283.2,84.5 290.0,89.0 330.2,91.9 282.3,81.8 337.3,88.2 331.5,88.0 321.4,83.2 321.7,92.2 278.1,87.5 300.6,84.8 336.1,86.9 283.8,84.4 292.7,85.6 281.6,84.9 307.8,88.1 271.7,82.5 319.1,83.0 334.8,84.0 309.1,86.6 380.5,89.7 279.9,83.1 296.3,86.0 256.0,79.9 285.4,88.2 296.8,84.6 293.0,84.9 314.5,87.7 292.5,86.8 307.0,91.4 346.2,94.9 329.0,94.7 312.2,82.4 281.2,82.2 305.1,88.1 289.7,88.0 270.6,76.0 296.3,84.4 284.0,86.3 296.8,83.9 351.2,85.4 336.0,84.2 288.2,83.4 291.8,85.0 286.5,82.3 349.6,94.0 280.7,80.4 282.1,78.4 297.4,85.9 387.2,90.8 377.1,84.4 292.2,86.3 353.3,91.9 302.2,85.6 295.3,84.7 298.1,87.1 270.4,85.2 322.3,88.2 306.8,84.3 354.7,88.2 296.6,86.7 258.6,86.3 296.8,83.5 340.0,86.0 263.5,79.3 305.5,86.6 272.6,87.4 315.0,88.8 299.7,83.5 355.2,89.0 291.4,86.9 296.3,87.8 274.5,80.8 272.4,82.4 303.7,84.7 325.0,92.1 284.4,84.5 290.3,83.9 326.2,89.2 287.4,83.8 291.4,88.7 294.9,85.0 297.9,88.4 324.3,91.5 300.4,83.0 276.1,85.1 267.4,79.2 268.9,81.9 287.5,79.6 348.3,88.1 318.2,83.4 294.2,86.7 263.9,79.9 349.9,90.7 287.6,82.3 289.9,84.2 273.9,82.7 294.2,83.3 295.1,82.6 286.0,81.8 265.3,83.3 319.4,89.4 316.5,88.8 265.5,80.9 331.6,87.0 305.5,91.7 314.9,85.9 288.3,83.3 304.2,81.6 263.2,79.1 282.1,85.3 306.8,85.1 307.1,88.5 302.0,92.1 283.4,82.8 319.6,89.1 343.6,92.0 326.8,90.3 282.6,85.6 312.1,84.0 301.5,89.3 330.7,87.7 306.1,85.3 315.3,83.5 302.8,83.4 344.9,87.3 277.2,87.6 266.7,79.5 276.5,83.9 318.3,91.4 268.7,84.3 262.1,83.7 299.1,82.7 287.3,87.3 342.5,90.8 301.1,84.9 283.2,82.2 278.7,84.8 273.4,77.5 300.0,85.2 269.9,81.1 303.7,81.8 281.1,86.7 293.7,80.5 315.2,89.6 258.1,83.1 334.5,85.7 324.9,89.3 271.2,78.1 302.7,87.7 270.9,81.6 285.6,86.7 286.6,83.9 286.5,82.2 300.9,87.9 277.5,82.6 344.0,90.5 280.9,85.0 334.3,88.8 321.9,90.2 328.1,89.0 350.8,92.8 347.0,90.1 327.3,86.2 269.2,80.5 281.9,83.3 277.2,83.3 301.4,87.1 305.8,89.5 283.4,83.0 367.4,94.2 301.2,86.6 317.3,88.5 248.7,79.1 277.4,87.7 305.3,87.8 275.9,83.1 282.5,77.9 299.4,84.4 304.3,80.2 340.7,86.7 267.4,81.3 305.4,91.5 284.7,88.5 307.7,86.8 326.2,87.1 279.3,84.7 322.5,90.2 293.8,83.1 298.2,87.4 273.9,77.9 292.5,84.3 284.6,81.4 357.2,87.7 316.2,89.6 357.6,98.3 282.7,83.7 311.8,88.3 311.7,88.3 289.2,86.9 300.8,90.3 367.8,91.0 288.6,86.3 321.2,88.1 308.5,86.1 270.0,84.3 290.6,89.5 315.2,96.1 415.5,86.9 311.0,85.0 325.9,91.3 250.2,75.5 322.8,91.8 277.8,82.5 337.3,92.1 280.9,84.5 298.7,88.2 294.4,85.7 316.0,95.2 301.7,86.7 311.6,87.3 273.6,82.9 291.5,89.3 318.5,89.7 318.2,86.1 335.9,92.7 311.2,87.9 258.3,77.8 280.0,83.5 307.6,87.3 301.9,85.3 333.5,90.8 312.1,88.1 297.4,83.0 297.7,87.6 276.0,86.6 265.8,81.5 339.9,90.1 278.3,84.9 322.7,90.7 271.4,78.8 305.1,90.3 309.6,86.4 309.1,87.0 294.9,75.5 323.8,85.2 268.5,77.7 333.8,89.1 332.0,88.6 284.4,90.1 300.0,86.5 300.3,91.2 279.1,80.2 335.1,90.5 330.8,89.2 311.4,91.3 291.5,85.4 289.3,86.9 319.9,86.6 311.8,87.6 302.6,91.5 326.4,88.5 268.4,76.1 339.9,95.1 301.2,87.7 313.2,87.4 313.8,88.8 317.6,86.3 282.4,86.5 328.6,88.8 299.1,81.1 280.8,84.1 328.6,91.1 328.1,91.4 290.3,84.2 306.1,84.2 303.0,90.1 288.4,85.7 304.6,82.4 296.7,88.1 304.4,88.4 276.4,81.4 327.7,91.2 343.8,87.2 315.5,89.0 272.9,82.6 314.3,82.3 361.3,90.7 290.5,81.9 286.6,87.8 271.8,79.7 346.7,89.5 315.0,85.4 324.7,87.8 280.1,85.7 306.3,84.9 299.6,87.4 365.8,91.8 274.0,83.4 312.8,84.8 308.0,88.8 315.0,92.6 323.4,86.9 282.3,87.8 289.8,81.9 300.0,83.7 306.6,85.7 268.5,77.2 282.7,83.4 303.7,86.5 316.2,92.1 338.9,93.1 352.2,90.6 290.4,86.7 333.0,89.1 330.5,86.6 320.9,87.3 311.5,91.1 320.1,93.8 310.3,88.9 317.3,83.6 316.1,92.6 282.2,76.0 297.7,90.1 281.0,85.3 268.4,82.4 300.5,83.4 286.9,81.6 312.6,86.4 277.2,83.3 285.1,82.2 319.7,86.5 377.2,91.6 292.3,90.0 304.2,89.5 333.1,90.0 291.9,84.1 293.0,88.4 286.1,86.9 299.3,89.7 328.3,89.4 280.0,83.9 301.6,87.0 311.9,88.3 297.0,87.1 263.4,81.5 280.1,81.4 343.1,92.1 288.7,90.3 299.2,89.0 316.1,91.3 304.6,88.2 321.1,87.5 347.2,92.2 326.6,89.0 270.7,84.8 284.8,86.0 332.1,88.9 280.8,77.4 337.1,90.7 268.6,79.7 297.4,85.2 326.4,86.5 336.4,90.0 314.1,90.9 279.1,76.1 316.5,85.1 323.8,94.3 330.9,87.2 304.0,83.3 323.3,89.5 307.1,90.3 299.2,86.9 388.7,91.8 298.4,82.7 285.7,80.7 297.6,84.1 279.9,83.4 322.3,85.4 320.7,92.2 310.4,84.2 317.4,89.8 296.6,82.0 272.8,81.4 314.5,88.9 299.6,91.5 304.1,87.4 295.3,90.1 307.7,92.0 292.4,85.4 322.4,90.9 306.4,89.5 298.0,82.1 327.8,88.0 323.4,90.7 282.2,84.9 292.7,85.8 283.6,82.7 300.7,83.8 278.4,82.8 310.3,87.4 299.1,88.5 299.4,81.5 316.8,91.8 310.3,84.8 292.3,87.6 381.8,85.3 306.6,88.2 297.3,81.6 309.7,84.0 341.6,93.9 276.1,84.7 300.4,87.8 305.2,83.8 283.7,84.2 281.0,82.9 302.9,90.8 325.5,82.1 284.5,83.0 349.8,91.9 308.1,89.3 306.1,87.1 299.5,88.1 282.0,84.9 310.5,87.8 325.5,94.8 281.1,86.3 316.3,92.7 321.9,88.0 350.4,91.6 272.4,89.0 263.8,86.3 275.9,82.8 262.2,82.9 327.2,87.0 311.6,87.3 342.8,90.4 329.7,91.7 308.9,87.6 309.1,85.5 275.4,77.4 333.4,86.4 316.0,90.5 284.4,82.0 303.5,82.5 311.7,89.4 275.7,85.0 294.4,85.7 265.2,87.2 280.1,76.5 301.1,81.4 288.7,82.5 279.1,88.0 311.9,88.2 314.5,81.2 314.4,87.5 327.8,93.4 362.8,80.4 312.0,92.1 303.6,93.6 304.8,86.5 287.8,84.4 332.3,86.8 285.0,81.1 322.0,90.5 291.5,82.8 323.8,88.8 347.8,89.7 295.0,85.4 300.6,88.2 329.7,89.5 342.2,94.2 295.5,85.6 303.3,90.5 290.5,88.1 298.3,81.1 292.7,85.1 319.3,85.8 303.8,90.2 326.7,86.5 268.3,82.6 339.9,90.9 310.3,88.0 271.5,79.8 269.7,81.1 285.2,87.9 362.1,89.0 294.4,79.7 278.0,85.5 310.8,88.1 287.4,84.1 303.6,82.0 297.6,84.7 298.6,90.3 324.0,90.9 336.8,91.7 349.5,92.8 289.8,88.3 282.8,81.8 264.8,77.0 282.6,87.1 344.6,89.6 323.3,87.0 292.8,86.1 267.1,82.6 302.7,83.3 288.2,86.7 297.3,86.3 306.8,82.9 306.4,87.2 336.8,93.3 305.4,88.2 263.7,78.7 342.5,90.8 253.9,82.4 291.9,78.8 305.2,86.0 288.1,83.2 267.4,82.9 280.1,79.6 266.8,86.6 321.9,87.5 322.9,86.0 311.9,82.6 373.2,94.7 343.0,89.7 302.9,88.4 316.3,88.1 320.0,85.4 379.7,93.2 358.9,89.9 313.4,85.2 320.5,92.0 283.9,87.0 308.4,83.3 321.2,87.0 286.9,85.4 311.6,92.8 310.4,90.3 296.4,88.6 257.0,85.4 299.7,88.7 311.2,90.3 288.1,82.2 321.8,87.9 321.7,94.8 305.9,87.2 299.0,87.0 295.5,89.3 347.8,89.0 290.3,83.4 317.4,89.5 355.7,92.3 284.0,88.5 346.4,87.9 350.2,89.9 309.5,88.9 305.8,85.0 374.9,89.8 290.9,84.4 340.4,91.7 315.9,89.3 280.1,83.0 349.4,92.6 302.6,84.6 271.3,77.3 265.7,78.9 270.6,83.5 288.7,85.4 295.3,89.6 348.6,93.0 276.1,83.3 308.4,86.6 290.3,86.4 314.7,92.1 312.3,89.5 296.5,86.4 300.7,89.0 308.0,85.2 299.2,92.2 377.8,93.3 312.4,84.1 338.7,91.4 281.9,79.7 314.4,86.5 267.3,84.7 317.7,91.4 271.9,81.2 323.4,88.6 289.4,83.5 272.2,80.0 308.1,86.7 302.7,82.3 305.5,87.5 287.2,86.0 282.2,85.8 289.4,83.5 280.0,81.7 288.4,82.9 292.2,86.9 324.8,93.5 336.1,88.3 277.3,83.8 316.4,92.4 270.5,84.5 352.8,88.1 268.9,84.8 323.2,85.6 266.7,84.2 265.4,76.9 369.5,92.9 269.2,75.7 312.1,81.5 315.6,80.8 295.1,83.3 277.1,82.6 274.0,81.4 294.9,84.6 298.2,87.7 279.8,84.0 363.3,94.3 304.7,89.8 317.4,89.7 295.7,88.5 274.4,84.1 334.1,85.1 298.0,83.7 289.7,89.1 290.4,81.8 298.3,85.2 367.7,92.2 291.5,85.7 352.4,80.2 304.5,85.9 269.5,81.9 295.6,84.7 352.9,87.8 296.4,83.2 311.3,85.6 270.3,77.4 302.2,85.9 290.5,85.6 330.3,86.1 286.3,89.4 353.0,91.3 280.3,84.8 279.5,81.5 289.8,88.1 305.5,90.1 282.0,80.5 334.6,90.6 306.8,86.8 276.3,82.7 326.6,85.2 393.5,93.0 275.5,82.3 314.5,86.9 260.2,81.4 314.6,89.0 285.5,85.2 286.2,84.6 294.6,85.9 288.0,78.5 330.5,93.5 298.5,83.1 325.5,86.5 311.3,88.7 309.3,87.1 273.1,85.8 272.6,82.3 281.6,80.0 322.9,92.8 346.0,94.0 301.6,90.4 304.3,85.3 276.9,84.1 293.6,84.2 285.0,85.2 293.6,82.2 274.0,85.3 294.1,83.5 305.8,86.8 303.8,84.4 325.7,92.9 298.4,84.0 309.6,91.3 328.3,91.7 306.7,88.8 265.6,83.1 278.8,88.0 287.4,82.0 275.4,83.6 321.1,88.7 272.4,79.7 299.6,91.3 304.0,87.9 333.8,94.0 277.3,84.0 310.8,90.9 298.3,84.6 269.7,81.1 339.0,94.5 310.1,89.3 297.0,85.6 354.6,92.0 311.1,88.4 270.5,80.5 291.2,86.8 303.1,88.4 236.6,68.1 383.4,89.2 391.2,87.0 399.0,94.8 405.9,91.5 431.7,94.8 423.8,102.7"/>
<polyline fill="none" stroke="none" marker-start="url(#mOCT)" marker-mid="url(#mOCT)" marker-end="url(#mOCT)" points="209.5,225.4 242.8,233.4 201.9,225.1 209.8,229.1 202.1,227.3 219.4,233.0 220.5,227.2 202.8,224.9 200.3,225.8 212.7,228.8 209.5,226.8 221.3,228.6 239.2,230.5 216.4,228.4 227.1,230.1 212.6,229.1 202.9,224.7 218.7,227.6 230.0,228.5 208.2,224.7 229.9,228.4 226.7,228.5 209.0,228.1 208.2,226.4 213.7,226.8 251.1,235.6 213.2,225.4 206.8,227.3 216.6,232.0 204.0,231.1 212.5,229.1 228.2,227.7 231.7,226.7 216.2,230.3 206.5,234.2 208.4,224.9 251.0,230.5 205.0,225.9 212.7,227.0 207.9,227.3 201.6,227.4 206.6,223.8 227.4,232.8 206.2,227.9 210.0,223.8 202.9,226.6 208.3,225.3 216.4,230.6 235.0,230.0 206.2,227.7 233.0,232.0 216.0,229.3 215.1,225.5 227.2,229.6 227.4,232.3 223.2,229.0 236.7,231.1 218.7,225.4 216.4,226.8 233.9,227.8 207.1,226.6 201.5,226.9 214.5,228.2 255.6,231.5 217.9,226.8 232.2,233.6 214.9,231.0 234.5,227.4 226.8,232.7 205.4,228.9 197.1,224.6 236.6,234.4 234.7,229.6 215.8,229.3 217.5,231.2 213.2,225.4 224.6,227.5 208.7,228.9 208.3,225.3 221.2,225.7 215.0,229.0 210.5,225.8 214.1,225.9 215.3,225.4 215.8,228.5 196.1,223.5 242.8,231.1 211.6,225.7 236.3,227.9 225.5,228.9 238.5,230.6 204.7,227.2 218.6,226.3 226.9,226.3 196.2,224.2 231.3,227.2 212.3,225.9 204.3,224.0 213.8,231.7 207.1,225.2 232.5,228.7 223.0,234.5 207.5,225.4 241.7,237.7 233.6,229.2 212.6,225.8 203.7,223.3 218.8,228.7 211.2,224.9 208.3,224.8 217.9,227.1 224.7,232.1 246.5,229.8 223.7,229.7 205.1,226.9 216.6,226.7 216.0,230.2 222.9,230.0 206.2,225.2 228.1,228.2 235.8,229.6 213.6,228.5 228.2,226.5 231.8,231.4 217.7,228.6 234.1,231.4 214.8,225.8 227.8,227.1 248.4,230.8 235.7,227.4 225.0,228.4 245.0,233.3 211.9,237.0 221.5,228.4 213.6,228.3 269.2,231.5 231.1,231.2 206.1,227.1 215.3,225.6 206.8,229.1 240.8,231.0 230.0,227.2 221.6,226.5 245.3,229.1 219.2,225.4 205.5,223.9 208.0,228.5 226.4,227.3 264.6,232.2 236.6,228.1 213.6,227.0 198.8,230.0 209.8,224.4 211.8,232.4 235.6,229.8 222.6,227.3 206.8,226.4 217.2,226.6 232.9,230.9 219.8,226.6 208.3,227.6 226.4,226.5 214.5,230.3 209.3,225.1 225.7,229.3 222.9,227.1 226.2,229.4 207.1,227.4 215.5,230.1 207.2,231.7 215.5,228.2 232.6,228.8 212.7,230.2 218.9,229.7 241.6,236.4 222.7,228.5 245.1,228.9 209.0,226.6 205.4,225.6 225.7,228.3 212.1,232.2 227.0,230.6 213.0,229.2 209.4,226.1 209.1,226.8 259.2,235.9 212.5,229.1 195.6,226.3 216.6,228.1 222.3,232.9 216.4,226.0 198.6,223.3 214.0,226.8 208.8,224.9 218.2,228.0 213.9,225.9 198.8,223.9 228.6,232.0 245.4,234.9 210.7,225.6 212.9,225.8 216.2,226.6 240.7,229.2 234.5,230.5 212.6,227.5 219.6,226.5 220.5,226.5 206.7,224.8 202.6,225.8 210.3,228.1 216.6,232.4 214.7,227.5 204.1,228.4 206.6,226.7 214.7,230.0 207.8,228.3 242.5,232.2 234.8,231.7 208.9,226.4 202.8,227.1 211.5,230.7 206.1,226.1 210.3,225.8 208.6,227.3 204.5,229.2 220.8,232.9 217.1,228.3 204.4,226.5 206.4,229.1 218.7,227.9 228.7,229.0 223.3,229.1 203.6,224.7 250.8,230.8 222.5,231.8 216.3,227.0 210.2,228.4 227.8,227.5 238.9,231.4 225.4,227.0 247.0,232.5 199.0,224.4 211.0,228.8 234.6,232.4 219.4,234.4 204.3,225.5 212.9,227.4 215.9,228.1 206.5,228.7 218.0,226.7 231.7,227.9 204.7,228.0 214.4,229.4 233.4,226.5 231.6,232.5 214.6,225.6 213.5,232.4 206.5,225.2 212.8,226.1 231.1,231.1 228.0,228.8 210.0,227.5 213.7,228.2 238.7,234.6 237.5,229.8 211.1,229.1 209.2,225.5 207.8,232.3 221.4,228.7 211.4,231.1 229.3,230.4 214.2,225.5 212.1,226.3 234.8,232.4 237.4,231.4 220.4,228.4 208.6,230.4 223.2,227.7 208.9,225.6 218.1,232.9 237.4,228.1 198.1,226.1 244.5,240.5 220.3,232.2 214.1,228.9 222.0,228.7 209.1,228.8 214.4,225.0 223.5,229.4 219.3,226.5 201.2,226.0 229.5,228.6 198.8,225.4 217.9,227.3 224.9,227.5 228.4,227.1 205.7,228.8 205.3,227.9 212.9,224.7 206.5,228.0 208.0,227.2 211.0,228.1 242.9,230.8 230.5,230.6 202.7,226.1 215.8,229.4 207.9,227.5 222.2,226.5 210.2,226.6 206.8,226.5 197.5,226.2 211.0,228.6 217.6,226.2 228.8,227.8 256.8,236.1 222.9,228.5 236.6,228.2 203.5,229.6 197.8,225.3 211.6,226.7 213.5,224.9 208.7,228.3 210.6,228.9 204.1,226.4 203.1,229.2 218.6,227.3 210.3,225.7 227.1,231.8 215.2,229.6 202.0,231.6 237.7,228.8 240.9,228.8 212.1,228.0 206.3,228.7 221.4,228.6 244.2,230.9 211.7,233.0 206.0,227.0 212.1,227.6 220.2,226.8 199.9,227.5 221.9,227.8 208.2,231.3 231.2,230.6 225.5,226.3 210.8,229.7 214.1,231.9 216.3,231.2 228.9,235.0 261.5,238.1 211.7,225.2 207.8,223.7 216.8,226.7 210.9,226.0 213.6,227.0 225.1,227.4 238.7,229.7 216.0,229.8 206.4,223.7 238.6,229.1 203.4,226.9 229.3,229.2 232.2,231.6 204.4,223.9 206.7,226.7 216.8,229.5 215.1,226.5 227.5,227.1 204.8,224.6 219.5,227.3 218.9,229.4 224.5,227.1 204.8,230.5 213.2,226.2 229.3,229.9 200.9,228.1 225.9,226.6 195.3,224.4 219.5,225.2 219.6,224.8 219.4,229.7 211.1,229.7 221.3,227.2 231.5,231.5 209.4,227.8 227.6,227.1 218.1,225.3 206.5,226.6 202.8,225.8 221.7,233.6 238.6,228.9 220.9,227.4 223.6,231.4 232.7,227.9 237.9,230.8 228.4,230.4 202.7,231.1 210.2,224.9 223.8,228.3 201.8,225.2 203.8,227.7 204.4,224.9 227.6,226.3 230.4,228.0 207.8,227.2 217.3,230.0 200.1,224.3 214.2,225.0 214.7,226.5 215.2,226.8 206.8,229.3 228.3,229.5 199.9,224.7 211.5,229.7 225.8,231.4 214.6,227.3 211.5,224.1 240.1,227.8 215.0,231.9 220.5,226.6 214.9,228.0 220.7,226.6 212.4,225.5 219.6,228.4 243.9,230.0 248.8,233.4 206.9,228.6 219.5,228.6 210.7,227.7 231.8,227.4 218.9,226.0 213.2,228.9 214.7,230.1 210.1,225.4 212.1,225.5 220.8,226.4 217.8,226.7 213.1,227.5 209.3,226.8 199.8,227.4 201.2,224.4 225.8,228.4 235.5,234.3 211.6,228.1 214.9,226.1 210.5,227.3 229.7,227.8 215.0,228.8 207.2,228.3 204.4,225.6 199.2,230.5 209.5,225.3 208.3,229.5 218.1,233.5 240.3,230.6 202.8,225.3 206.9,225.3 209.2,225.8 211.6,224.8 236.1,229.6 214.7,229.7 222.2,230.7 205.5,232.6 218.4,227.9 228.3,227.3 205.1,231.3 217.7,229.7 204.6,229.2 220.8,228.3 204.6,228.8 200.7,226.5 236.4,234.6 206.5,227.9 234.3,232.4 206.3,224.3 201.7,228.5 205.5,234.5 212.1,231.6 203.9,230.5 234.9,227.8 222.8,227.0 208.0,228.2 216.3,231.1 249.4,231.3 210.6,225.0 205.7,226.4 235.0,229.8 199.7,223.1 256.8,231.4 222.2,228.9 207.8,225.7 207.3,228.5 213.1,227.3 244.0,232.9 227.5,226.9 203.8,224.6 225.9,233.7 211.8,225.4 235.9,231.2 214.1,229.8 218.8,229.0 227.4,228.9 230.2,228.6 225.2,231.8 205.0,228.9 203.6,224.6 229.4,228.9 216.6,235.7 222.7,230.3 222.9,229.9 212.8,225.2 212.8,232.7 225.4,230.0 216.7,226.4 208.3,225.4 197.5,228.1 210.6,227.4 203.4,226.8 212.3,227.7 219.4,230.2 202.6,227.9 215.4,225.8 225.2,229.2 223.2,226.6 240.4,232.0 240.2,230.5 210.7,229.3 209.5,224.4 215.6,230.0 217.5,226.4 232.1,228.8 228.9,226.3 216.9,226.9 234.3,234.0 226.1,228.2 212.0,228.1 237.4,229.9 233.9,233.1 233.0,227.8 199.3,224.9 209.5,224.5 211.1,226.4 214.2,231.0 233.9,230.2 221.5,225.7 207.3,227.6 207.4,226.6 211.3,228.1 217.9,227.0 211.8,226.2 225.6,228.4 209.0,226.3 227.5,237.4 203.0,223.7 251.6,232.0 215.0,227.3 242.8,232.7 227.6,227.0 229.3,230.7 208.9,226.8 224.7,227.4 212.4,227.1 209.5,225.7 208.8,224.5 237.8,230.3 221.0,227.0 221.7,226.0 213.5,226.5 238.2,229.4 248.8,229.1 284.2,238.1 222.8,229.7 203.4,225.3 212.7,230.7 227.1,226.2 211.6,230.1 209.4,227.8 226.3,234.9 226.5,229.2 200.5,229.7 214.8,226.8 211.9,226.5 229.9,229.5 232.8,228.4 220.8,226.7 218.6,226.5 208.1,225.5 218.6,226.7 214.5,225.7 216.0,229.6 218.9,227.2 236.2,229.7 210.2,229.5 211.8,224.9 226.4,226.8 208.1,226.9 214.6,225.2 227.6,229.0 224.8,227.6 203.0,224.8 202.9,225.8 228.6,229.1 219.2,230.7 233.2,228.9 236.7,230.9 217.2,225.4 225.0,229.0 205.1,223.9 218.4,228.5 217.9,227.4 210.7,227.5 216.8,231.5 203.0,225.3 206.6,228.1 219.4,231.8 225.1,228.8 222.6,231.6 211.1,228.8 220.6,226.8 227.8,231.7 231.5,232.1 204.4,223.4 235.6,228.8 211.5,236.2 214.2,227.8 213.3,226.6 264.6,234.5 203.8,223.3 206.5,224.5 203.4,225.3 245.8,233.6 208.7,229.6 213.3,230.5 245.0,231.4 205.5,225.7 221.2,225.6 241.5,232.3 199.2,222.4 228.2,226.9 202.1,224.1 241.6,234.5 236.5,234.9 236.3,230.9 204.3,225.4 217.7,226.1 232.5,229.0 219.9,228.0 204.0,231.3 216.9,225.4 207.2,224.9 205.2,234.0 212.3,230.2 224.7,232.4 204.4,224.9 230.0,228.3 205.7,225.7 209.6,227.1 214.5,230.4 211.0,226.7 236.9,229.5 212.4,236.8 223.7,228.7 220.4,231.4 211.8,227.9 223.4,226.4 213.9,228.6 214.3,230.8 205.8,226.1 226.0,230.8 207.5,226.4 224.1,226.4 222.9,227.9 211.9,227.6 213.6,227.6 218.7,225.4 215.0,228.6 213.4,226.5 217.7,227.6 207.5,224.1 222.4,229.6 216.0,225.5 208.3,230.0 216.8,227.3 215.7,227.7 197.3,226.7 219.4,226.9 219.7,228.9 208.1,225.4 206.9,226.4 233.0,232.7 211.8,231.6 214.0,224.9 218.8,235.1 217.4,227.2 219.3,227.4 249.8,232.7 211.3,225.2 225.1,227.7 215.8,227.8 222.8,227.2 206.9,229.2 200.6,225.9 215.9,226.8 225.4,226.8 206.2,227.3 220.0,228.7 213.1,227.7 236.7,234.6 217.9,227.9 237.3,231.0 214.8,227.9 217.5,225.7 216.6,225.6 211.2,224.7 242.8,240.5 208.1,226.5 202.5,227.1 220.6,227.6 242.0,233.4 222.9,230.1 231.8,231.1 205.5,227.0 214.1,225.7 206.1,225.0 205.0,232.2 208.7,230.0 221.2,228.8 204.0,233.9 210.9,231.0 226.8,229.3 215.6,228.9 220.3,227.7 212.2,227.8 206.6,226.4 204.5,225.6 226.6,232.4 201.2,230.0 206.4,225.8 230.3,229.4 214.5,226.6 239.4,229.6 244.6,231.6 213.0,227.0 244.5,232.5 222.9,228.7 206.9,224.1 219.1,225.5 241.5,228.9 257.3,234.0 210.0,227.6 209.5,228.0 226.6,229.7 213.0,227.6 218.4,228.5 233.5,228.2 203.7,231.1 200.3,226.4 210.2,230.2 219.6,229.6 216.1,226.0 223.2,228.5 229.3,228.8 245.7,229.5 226.1,227.2 211.6,230.4 215.5,226.3 215.5,225.8 200.7,224.3 209.0,230.7 212.2,228.2 218.3,226.3 213.9,227.2 215.2,230.1 225.0,228.1 225.4,226.8 230.2,233.2 218.7,232.6 223.0,231.5 239.4,229.8 216.2,226.7 216.0,226.2 219.1,227.4 211.6,225.6 225.5,227.5 213.1,226.0 204.8,226.9 223.5,227.8 237.0,232.4 213.1,225.8 244.5,231.0 214.4,226.1 238.3,232.9 255.0,233.8 206.9,226.4 225.4,227.8 199.8,227.7 202.7,226.5 238.1,229.5 216.4,226.0 224.3,228.3 211.0,227.7 212.8,227.7 200.0,223.9 229.9,229.5 231.7,233.4 234.8,230.4 213.1,225.4 218.4,226.5 209.2,230.3 204.7,226.9 225.9,233.2 229.5,228.1 220.4,228.1 208.8,226.6 241.4,231.7 224.7,230.6 206.9,228.5 219.2,225.3 223.8,229.8 212.1,227.0 214.0,224.9 242.1,228.4 232.1,227.2 232.5,229.6 223.5,229.1 212.5,229.2 213.4,232.5 209.1,228.8 210.4,228.8 220.7,226.7 202.6,225.9 209.3,230.8 208.1,225.9 240.4,230.3 205.1,225.8 253.9,233.0 207.7,232.7 216.1,230.1 201.3,224.0 214.9,228.0 214.8,225.9 227.0,228.5 214.7,227.5 225.6,227.6 217.7,227.1 224.4,228.2 218.6,226.6 240.5,231.6 209.6,225.9 221.2,229.3 211.5,228.3 210.8,226.3 215.6,228.4 210.4,225.3 215.0,225.5 211.0,227.8 232.5,230.2 211.8,230.1 234.8,229.0 218.8,228.9 209.3,227.8 221.2,233.7 212.9,226.6 220.1,226.7 215.1,228.4 217.0,226.0 230.1,235.5 205.8,224.8 204.2,227.9 199.4,227.1 223.5,229.8 221.5,229.4 209.0,230.9 214.6,225.8 204.9,225.2 219.4,229.4 212.9,228.9 211.0,228.1 227.9,229.0 243.9,231.7 227.1,230.0 226.0,230.0 226.2,228.4 215.4,228.2 227.0,227.2 226.3,227.3 221.2,228.4 208.6,224.6 229.5,229.3 223.8,226.0 218.5,230.2 209.3,226.9 224.1,228.4 218.8,226.9 222.4,227.5 209.6,227.5 209.5,229.5 216.0,226.9 236.0,235.3 212.4,226.7 211.6,228.0 208.6,234.2 224.9,225.9 220.9,231.0 217.8,226.2 226.4,229.6 215.9,227.3 205.9,229.1 210.9,225.6 213.3,231.4 212.5,231.3 216.6,226.8 218.0,233.5 231.8,230.2 199.2,228.8 241.9,230.7 222.2,226.4 214.2,227.9 228.6,226.6 216.1,225.8 211.6,224.1 215.0,229.9 206.1,226.8 198.3,226.3 208.0,224.0 208.9,231.4 223.9,228.5 234.0,227.2 208.5,234.3 240.7,235.4 216.9,235.5 203.3,226.6 219.0,228.6 215.3,230.6 210.4,230.4 204.3,226.5 206.5,226.5 227.3,227.0 233.3,233.9 209.8,230.3 200.1,224.6 201.1,224.7 224.5,229.3 209.3,229.6 226.7,227.6 210.9,228.1 218.2,227.9 212.3,225.3 209.9,224.7 203.6,223.9 226.3,227.6 208.0,228.8 212.0,226.0 202.4,226.3 199.7,226.7 208.9,228.4 217.1,227.8 246.5,230.5 225.6,228.5 199.7,224.8 209.8,225.6 206.3,227.1 208.4,228.1 217.6,227.0 201.6,225.4 209.4,226.1 216.6,228.6 225.6,228.4 208.3,230.9 213.3,227.4 218.1,226.6 238.9,233.3 230.8,230.0 214.6,225.2 210.8,229.1 229.4,232.0 221.2,227.8 217.0,229.3 205.4,225.9 210.1,226.5 206.4,230.5 198.8,229.2 213.0,226.2 247.7,235.3 209.3,225.0 222.3,234.4 205.3,225.7 219.3,225.7 225.8,228.1 208.3,225.4 209.9,227.4 213.3,228.5 218.7,234.0 263.8,231.7 212.1,232.0 208.5,226.2 214.5,231.2 234.1,227.4 225.7,228.7 205.7,228.3"/>
<polyline fill="none" stroke="none" marker-start="url(#mCU)" marker-mid="url(#mCU)" marker-end="url(#mCU)" points="311.3,99.5 323.9,98.3 368.3,99.5 316.7,93.0 353.8,101.7 338.3,94.8 308.3,98.2 336.2,98.1 328.2,95.6 315.0,93.1 313.2,94.2 328.7,103.2 342.5,97.7 297.0,92.8 307.8,100.9 302.4,95.9 329.4,93.3 306.6,98.0 305.8,90.9 336.9,97.3 369.6,94.4 292.4,98.0 305.6,96.6 331.7,101.8 324.3,101.3 361.6,102.7 353.5,101.0 321.9,98.8 381.2,104.7 429.6,110.2 357.3,100.6 315.5,99.7 377.0,103.0 335.8,100.6 349.0,102.4 326.4,99.1 333.3,98.6 359.1,102.2 303.8,92.6 361.8,101.5 308.0,102.2 342.9,96.3 302.6,93.3 303.9,98.4 330.3,101.9 329.0,99.5 317.5,104.9 294.4,96.1 321.3,99.8 318.7,102.1 313.0,97.0 335.0,94.6 333.3,92.6 344.8,100.0 394.0,101.1 308.6,99.5 330.9,94.0 314.9,97.0 331.8,101.5 322.0,90.5 400.7,109.4 337.9,99.2 306.4,94.9 330.0,100.2 317.1,103.0 352.9,102.4 358.1,106.2 345.0,95.9 349.5,105.1 352.5,101.0 321.7,93.2 349.8,103.7 330.7,95.0 404.2,105.6 306.4,98.5 331.3,98.4 319.7,98.8 387.4,102.3 323.8,97.1 320.7,98.9 336.7,93.4 349.5,100.4 304.7,95.5 313.3,93.8 296.4,96.3 359.9,101.5 359.6,91.0 320.5,99.9 327.2,93.6 328.9,91.1 415.0,107.9 308.9,95.2 342.2,102.6 316.2,95.8 344.9,95.8 342.0,93.1 345.6,99.9 400.8,110.9 301.6,89.3 381.2,104.9 291.2,96.4 330.5,94.3 307.2,103.1 355.5,103.0 325.5,99.8 393.4,100.0 340.1,101.5 326.7,96.1 310.2,100.3 328.2,100.0 325.3,98.2 375.8,102.9 369.6,101.3 333.1,96.8 288.2,88.4 365.2,97.6 305.7,96.4 316.9,94.7 343.9,98.1 314.2,98.5 376.0,102.2 350.1,99.1 302.3,95.5 350.5,97.6 309.3,94.0 333.6,101.5 321.4,101.8 338.7,99.1 361.6,101.7 376.2,102.9 321.8,101.4 345.2,95.8 347.1,97.1 311.3,93.1 370.6,102.0 352.4,101.6 393.9,102.9 327.1,96.1 333.6,91.1 358.1,99.2 323.2,102.2 373.4,103.8 332.5,104.1 288.6,87.1 321.9,97.5 332.4,98.8 306.1,86.8 357.2,96.0 309.3,94.4 334.9,96.5 315.7,97.0 365.4,104.9 370.6,97.4 313.5,99.3 344.2,97.3 325.2,97.6 411.2,107.3 304.7,98.8 300.7,88.3 313.0,92.1 346.4,101.9 301.8,95.1 364.5,99.6 344.1,102.4 346.6,97.5 303.3,95.3 312.7,94.5 313.2,96.8 321.9,99.7 301.8,96.9 399.9,105.0 350.8,100.2 368.3,102.0 353.5,99.7 323.4,97.9 298.3,99.8 303.0,95.0 336.5,99.7 313.7,91.2 316.9,100.5 320.0,94.6 319.4,94.2 346.2,104.6 314.2,96.3 343.3,97.5 329.3,101.0 340.0,103.6 352.9,97.7 330.9,99.9 358.7,97.0 345.5,91.4 338.3,103.9 318.1,99.2 310.2,93.1 390.8,105.4 370.3,100.0 353.2,100.8 306.2,95.7 307.2,96.1 387.3,109.3 329.2,101.5 339.7,97.7 388.3,106.7 298.4,96.2 361.9,99.7 346.5,99.4 324.5,95.2 359.9,106.0 336.5,93.9 325.3,100.4 380.8,104.8 318.4,97.0 353.0,96.5 302.0,88.9 317.5,95.7 296.4,91.4 339.1,101.3 304.1,95.9 376.3,100.4 339.3,99.1 313.6,96.3 321.9,95.1 346.3,104.9 407.3,104.5 375.3,98.8 314.6,96.1 359.5,104.5 354.9,99.0 336.6,96.6 340.4,99.5 314.7,94.1 397.9,105.6 315.6,100.9 319.6,91.1 336.8,102.9 340.9,97.8 350.6,100.5 337.7,101.9 309.7,92.6 356.4,101.3 350.0,95.8 340.3,102.2 342.0,96.6 324.8,92.1 322.0,98.2 344.0,102.4 375.9,98.8 297.6,94.7 360.8,98.3 354.1,102.9 309.7,97.7 351.2,100.5 309.4,96.0 338.8,100.2 332.4,100.9 325.7,102.2 344.0,95.7 342.7,101.8 308.5,93.7 382.9,104.0 296.8,93.7 405.7,106.2 328.8,94.6 308.6,94.1 335.3,93.0 292.7,97.4 312.5,91.1 337.5,96.5 377.6,104.3 376.6,100.1 316.6,101.5 338.8,101.9 292.6,90.9 353.2,98.6 322.7,93.5 364.3,102.8 331.8,94.2 305.7,97.9 392.7,103.0 338.9,103.2 316.2,94.0 321.0,101.6 299.9,92.4 345.4,95.0 323.4,97.5 328.3,97.6 323.9,98.8 334.0,92.5 299.8,93.8 315.1,95.6 288.5,90.8 307.6,96.6 344.1,102.2 330.9,97.5 355.4,97.5 309.8,94.7 327.6,94.3 324.6,99.6 303.5,94.3 369.5,105.4 407.7,108.8 336.3,102.0 315.0,94.8 316.7,94.8 311.1,96.8 383.9,101.5 356.6,102.9 337.1,99.9 370.6,104.0 335.4,102.5 354.7,106.2 335.4,97.0 361.5,100.6 362.4,103.0 324.3,100.3 354.6,100.2 302.6,94.2 412.8,104.5 315.3,100.8 333.6,98.5 315.3,95.7 350.7,96.6 371.8,101.4 321.8,99.2 343.7,103.9 328.9,97.4 346.8,102.9 332.3,96.5 360.1,100.7 335.7,94.8 354.0,91.1 313.9,101.9 311.5,97.1 328.6,97.4 316.1,103.5 327.6,95.5 312.0,97.0 385.1,103.5 316.9,95.5 299.6,97.0 320.7,98.5 323.2,102.7 339.5,102.8 295.6,91.8 353.8,97.4 343.7,103.1 355.9,98.7 316.8,96.7 315.8,95.1 373.1,103.3 396.9,104.5 318.9,100.9 372.0,99.2 308.9,92.1 335.1,96.1 331.3,95.8 317.2,98.5 367.5,102.6 302.0,91.7 338.8,93.6 393.8,95.6 307.9,97.7 378.3,108.7 358.8,105.2 333.6,100.9 339.9,98.9 342.2,98.0 324.0,94.4 337.6,94.3 409.6,101.9 321.7,96.6 333.6,95.4 333.8,95.3 306.0,101.1 323.5,97.1 348.3,99.5 398.9,103.6 335.2,94.8 322.2,96.8 315.6,98.9 292.2,90.5 359.1,103.0 332.5,89.4 311.8,96.4 335.6,94.0 345.6,102.0 341.5,99.3 304.4,98.6 308.4,92.1 317.7,100.6 311.6,98.3 335.4,94.9 394.3,105.8 322.7,99.2 307.0,99.8 379.0,106.3 351.9,97.2 400.6,103.0 320.8,97.8 307.3,94.1 340.3,99.6 354.8,104.4 306.7,96.3 365.3,100.4 313.8,99.3 355.0,104.8 324.9,96.9 365.8,98.3 429.7,102.1 354.6,105.4 360.6,104.7 319.2,92.1 315.3,97.1 389.1,101.8 306.7,91.5 335.7,96.0 335.9,96.7 339.6,100.0 294.3,96.2 297.4,93.8 341.1,97.8 327.3,95.3 402.2,109.2 293.6,98.0 341.8,100.7 319.9,99.4 349.2,100.2 306.5,97.0 297.2,88.3 314.9,99.3 318.0,90.1 342.3,94.8 370.9,97.4 308.5,94.3 315.6,98.9 461.4,113.9 330.2,96.9 320.4,93.7 321.7,97.7 320.4,94.4 301.1,96.1 327.6,99.5 341.2,96.2 322.5,100.8 337.2,102.7 293.4,96.7 297.5,94.5 353.1,100.5 393.7,103.8 306.4,95.3 319.6,95.3 388.3,98.5 319.7,97.7 311.2,94.2 353.0,99.3 323.2,98.6 369.8,102.1 300.0,98.9 309.4,95.1 351.6,102.8 399.5,105.5 306.3,95.1 361.6,102.6 326.8,98.1 373.2,97.8 356.0,92.1 338.0,93.6 322.2,100.1 334.4,96.4 365.8,98.0 321.5,98.6 334.5,101.1 358.4,101.4 334.7,98.9 364.3,106.2 380.6,103.6 296.5,94.4 336.4,101.1 315.5,93.9 342.8,93.8 379.1,94.7 316.7,100.6 358.7,93.7 336.3,104.1 365.6,102.3 382.7,108.7 352.5,99.9 336.9,104.8 309.6,96.8 362.9,104.0 335.6,97.0 322.8,96.4 332.2,89.0 334.9,96.0 350.4,98.3 337.8,99.7 322.3,95.7 315.2,92.2 349.5,92.9 397.8,107.1 326.4,102.3 293.0,92.5 347.4,103.4 379.8,103.5 326.6,101.5 339.2,94.9 306.9,96.2 352.4,100.3 370.1,101.7 332.4,93.3 363.8,100.5 363.3,103.8 337.9,102.0 325.4,97.2 326.1,97.0 333.9,99.3 317.0,98.8 370.3,98.3 324.0,97.7 358.0,106.2 316.2,95.1 383.3,101.5 364.3,105.7 356.5,97.3 304.6,96.9 319.2,99.9 343.1,102.9 356.7,100.9 301.8,92.3 318.9,97.8 319.3,100.0 334.6,90.7 330.6,95.9 328.9,98.8 432.5,109.0 311.0,99.8 353.0,100.1 357.3,103.2 327.3,97.2 312.6,88.2 312.3,98.1 391.0,102.5 330.5,103.2 318.1,99.3 339.5,101.0 358.6,101.4 321.3,98.1 293.8,97.6 313.3,94.8 312.5,91.3 313.7,91.8 349.1,98.7 334.7,94.2 305.3,99.3 360.6,102.9 366.7,104.5 368.1,102.8 372.6,104.1 410.7,103.3 340.2,102.4 335.4,92.1 324.2,100.7 362.9,105.3 334.5,98.6 317.5,94.5 317.5,97.3 344.5,98.2 318.4,100.2 384.2,99.3 355.7,101.4 354.4,97.6 327.2,101.9 335.9,92.8 330.2,98.6 351.9,95.4 301.6,93.0 384.2,98.9 343.3,106.4 326.8,100.0 297.9,98.9 297.8,93.9 364.5,102.6 338.7,97.3 336.4,99.7 324.5,95.8 302.0,99.3 316.0,93.0 321.3,99.6 325.8,97.2 343.4,98.9 398.7,102.1 316.4,98.4 364.8,101.5 355.7,97.8 387.3,107.4 367.8,100.6 298.2,96.5 340.4,94.9 284.7,90.5 368.9,106.0 318.8,97.3 332.0,91.4 367.8,104.1 318.2,99.3 303.1,92.8 376.4,103.7 337.3,98.9 314.9,98.0 360.4,102.0 330.5,99.8 300.9,96.4 317.8,100.2 316.0,98.1 333.2,90.7 333.3,95.1 324.3,94.0 326.1,97.3 308.5,96.5 348.1,102.5 323.1,99.1 322.5,92.3 317.4,99.7 364.9,108.7 318.8,95.4 335.3,93.6 325.9,100.1 310.9,101.4 344.1,95.3 330.8,97.0 325.9,94.8 302.1,98.1 348.7,98.2 316.2,98.1 309.8,97.0 327.8,97.0 327.2,92.0 318.9,95.7 323.3,98.7 333.5,96.2 301.5,99.1 336.3,99.9 293.0,99.8 313.0,96.7 336.8,100.6 369.2,105.0 301.0,97.5 365.2,98.7 301.5,92.0 366.4,103.7 296.2,98.2 328.6,99.1 340.4,98.1 394.1,101.1 336.3,96.6 366.9,96.3 342.4,98.1 301.4,95.5 346.8,95.1 338.6,100.1 335.2,94.5 321.1,95.9 311.0,97.6 326.5,97.4 335.6,95.2 383.4,105.4 310.0,96.4 351.6,102.8 363.2,103.7 318.0,95.0 296.5,90.8 357.7,100.6 321.2,100.8 348.8,101.5 331.1,98.9 361.6,102.6 329.0,94.4 301.6,94.8 321.2,99.9 337.5,101.9 431.6,105.6 342.1,100.3 364.9,100.4 335.3,97.1 316.8,93.7 320.2,101.6 298.2,96.0 317.9,100.5 377.1,97.6 313.5,97.7 332.5,96.2 329.1,98.4 312.4,98.7 301.5,87.2 314.6,95.5 317.6,94.0 343.4,95.9 336.8,97.4 297.3,95.2 338.4,102.5 320.4,93.3 406.2,102.7 317.7,86.0 336.9,94.7 367.6,101.9 336.3,100.3 359.6,98.9 302.6,97.6 323.5,99.8 320.9,98.9 351.6,102.0 329.9,101.2 306.6,96.8 298.7,92.6 358.5,105.1 373.9,99.6 385.8,102.1 361.7,97.2 341.9,103.2 332.8,96.5 324.8,101.2 341.9,100.9 408.3,102.3 332.1,100.4 349.1,100.9 320.5,99.2 333.6,100.7 294.0,92.4 353.7,102.8 342.5,99.6 315.7,95.6 348.0,98.1 309.6,97.1 303.9,92.1 304.4,96.5 319.7,90.9 290.2,90.6 343.9,103.9 297.4,96.8 308.4,97.2 318.4,98.1 366.6,98.6 351.0,97.0 324.5,93.6 310.7,93.7 359.0,102.0 373.2,100.8 319.2,99.9 288.5,96.6 314.7,98.6 381.1,100.4 358.5,100.9 354.1,101.0 368.4,103.3 343.7,99.6 369.7,109.8 335.3,102.8 340.0,93.5 295.2,92.4 412.0,106.7 293.3,92.5 310.9,99.8 328.6,96.7 319.3,90.4 333.2,98.4 321.9,100.0 327.6,96.8 290.3,94.7 321.8,94.7 429.6,109.0 295.8,101.7 362.4,100.8 305.1,98.5 398.8,111.8 295.1,96.0 350.5,99.7 335.2,92.0 327.5,95.9 303.3,92.8 327.6,100.5 335.3,95.9 315.1,97.0 359.2,100.6 328.1,96.7 325.7,99.5 352.9,102.0 315.1,99.1 328.2,93.0 315.1,94.9 308.0,96.3 322.6,103.3 324.4,96.7 295.1,91.8 328.6,99.7 296.7,91.0 300.3,93.0 344.6,94.1 311.9,90.8 332.1,101.5 292.5,94.5 354.3,99.8 344.7,96.9 340.6,94.7 336.7,100.1 312.1,95.5 333.9,99.3 325.5,101.3 320.2,97.5 385.0,102.7 299.7,94.8 312.9,97.0 351.8,99.6 356.1,92.5 360.9,104.1 326.3,102.1 386.1,99.2 313.6,98.3 345.8,102.8 333.5,95.0 353.6,99.0 338.5,98.0 342.7,100.3 366.3,102.6 337.9,94.4 427.0,106.3 374.4,109.1 351.9,98.2 314.4,94.6 349.9,100.1 342.0,95.6 351.9,95.2 401.0,111.6 311.4,94.7 335.1,97.5 308.7,95.3 340.3,98.3 301.8,92.6 327.1,98.4 367.9,101.2 346.7,106.2 352.0,97.6 352.1,94.4 346.5,102.0 307.1,96.7 335.1,97.7 303.0,92.9 372.0,105.5 329.8,100.5 331.9,98.3 314.7,95.6 325.8,99.7 321.9,85.6 310.1,91.9 372.0,100.2 336.8,99.8 345.8,95.6 366.6,107.1 316.2,92.7 301.8,93.9 365.9,94.7 324.9,98.3 353.0,101.9 315.7,94.3 310.8,96.2 370.0,99.1 347.9,100.7 366.1,102.7 345.6,102.1 316.7,100.0 347.0,99.4 310.0,97.4 305.7,98.3 409.3,109.0 360.4,98.3 333.4,99.3 326.5,98.6 415.5,107.9 375.9,99.1 354.1,101.0 313.7,100.2 312.3,98.9 306.8,95.3 336.0,97.7 394.4,106.5 318.2,98.1 356.9,102.3 310.8,98.3 329.9,100.8 325.5,97.5 341.8,92.0 355.5,98.8 327.0,100.4 328.6,93.8 321.4,97.6 396.7,101.3 332.1,97.2 355.6,104.1 300.1,93.1 359.6,101.3 311.7,99.2 334.7,98.9 347.8,100.8 329.8,98.3 317.7,98.8 362.5,102.0 339.4,100.1 333.9,98.8 319.8,93.9 308.7,92.9 293.3,94.7 372.0,93.2 322.5,99.3 324.4,99.4 370.5,104.6 385.0,101.1 327.9,98.8 305.7,93.2 357.1,104.9 370.6,96.7 372.9,101.0 351.0,94.8 330.3,104.1 370.8,99.4 371.1,98.9 319.4,101.0 292.9,94.8 300.2,96.2 360.5,105.2 338.4,100.2 321.0,99.2 313.8,98.4 368.2,95.0 330.8,97.5 347.4,97.8 338.3,102.2 337.6,101.3 338.9,92.3 332.7,91.2 342.5,96.2 336.3,97.2 317.1,99.6 336.0,93.8 327.1,98.8 356.9,100.5 343.0,104.3 305.9,96.3 333.8,99.8 329.6,99.3 328.8,101.3 304.9,95.9 350.1,97.8 309.3,93.8 328.7,98.7 340.8,99.1 326.0,96.0 313.1,102.6 360.0,99.8 332.0,99.6 364.0,105.8 350.8,95.1 372.2,102.9 344.7,96.9 309.5,94.3 329.3,98.8 342.4,92.3 300.1,93.2 370.9,100.2 321.9,92.6 296.3,93.3 332.9,90.8 355.5,99.4 331.6,97.1 370.8,100.6 312.3,96.8 329.0,99.9 316.1,91.5 318.6,96.3 332.1,94.3 375.4,106.3 346.8,97.8 375.2,105.9 313.3,100.3 332.1,95.0 339.8,97.7 327.9,96.7 347.9,104.9 303.7,96.2 409.1,104.8 324.3,88.6 339.3,99.7 339.2,101.8 436.6,109.1 316.0,98.7 286.2,91.5 386.3,98.2 329.5,98.5 334.4,102.5 385.9,104.7 319.0,97.4 331.3,104.0 391.1,107.3 414.8,97.1 431.7,90.4 435.0,102.7 427.2,105.0 445.2,100.5 448.6,99.3 455.3,108.3 464.3,105.0 467.7,112.8 496.9,109.0 492.0,118.5 444.0,106.0 413.7,111.7 418.2,106.1"/>
<rect x="83.5" y="38.7" width="450.6" height="360.6" fill="none" stroke="#848484" stroke-width="1.4"/>
<path d="M120.50 399.3v3M170.03 399.3v3M219.55 399.3v3M269.08 399.3v3M318.60 399.3v3M368.12 399.3v3M417.65 399.3v3M467.18 399.3v3M516.70 399.3v3M80.5 362.60h3M80.5 316.08h3M80.5 269.56h3M80.5 223.04h3M80.5 176.52h3M80.5 130.00h3M80.5 83.48h3" stroke="#555" stroke-width="1.1" fill="none"/>
<text x="120.5" y="413.0" font-size="10.3" text-anchor="middle" fill="#404040" color="#404040" textLength="5.42" lengthAdjust="spacingAndGlyphs">0</text>
<text x="170.0" y="413.0" font-size="10.3" text-anchor="middle" fill="#404040" color="#404040" textLength="10.85" lengthAdjust="spacingAndGlyphs">50</text>
<text x="219.6" y="413.0" font-size="10.3" text-anchor="middle" fill="#404040" color="#404040" textLength="16.27" lengthAdjust="spacingAndGlyphs">100</text>
<text x="269.1" y="413.0" font-size="10.3" text-anchor="middle" fill="#404040" color="#404040" textLength="16.27" lengthAdjust="spacingAndGlyphs">150</text>
<text x="318.6" y="413.0" font-size="10.3" text-anchor="middle" fill="#404040" color="#404040" textLength="16.27" lengthAdjust="spacingAndGlyphs">200</text>
<text x="368.1" y="413.0" font-size="10.3" text-anchor="middle" fill="#404040" color="#404040" textLength="16.27" lengthAdjust="spacingAndGlyphs">250</text>
<text x="417.7" y="413.0" font-size="10.3" text-anchor="middle" fill="#404040" color="#404040" textLength="16.27" lengthAdjust="spacingAndGlyphs">300</text>
<text x="467.2" y="413.0" font-size="10.3" text-anchor="middle" fill="#404040" color="#404040" textLength="16.27" lengthAdjust="spacingAndGlyphs">350</text>
<text x="516.7" y="413.0" font-size="10.3" text-anchor="middle" fill="#404040" color="#404040" textLength="16.27" lengthAdjust="spacingAndGlyphs">400</text>
<text x="77.7" y="366.6" font-size="10.3" text-anchor="end" fill="#404040" color="#404040" textLength="5.42" lengthAdjust="spacingAndGlyphs">0</text>
<text x="77.7" y="320.1" font-size="10.3" text-anchor="end" fill="#404040" color="#404040" textLength="48.80" lengthAdjust="spacingAndGlyphs">10,000,000</text>
<text x="77.7" y="273.6" font-size="10.3" text-anchor="end" fill="#404040" color="#404040" textLength="48.80" lengthAdjust="spacingAndGlyphs">20,000,000</text>
<text x="77.7" y="227.0" font-size="10.3" text-anchor="end" fill="#404040" color="#404040" textLength="48.80" lengthAdjust="spacingAndGlyphs">30,000,000</text>
<text x="77.7" y="180.5" font-size="10.3" text-anchor="end" fill="#404040" color="#404040" textLength="48.80" lengthAdjust="spacingAndGlyphs">40,000,000</text>
<text x="77.7" y="134.0" font-size="10.3" text-anchor="end" fill="#404040" color="#404040" textLength="48.80" lengthAdjust="spacingAndGlyphs">50,000,000</text>
<text x="77.7" y="87.5" font-size="10.3" text-anchor="end" fill="#404040" color="#404040" textLength="48.80" lengthAdjust="spacingAndGlyphs">60,000,000</text>
<text x="307.6" y="425.4" font-size="10.75" text-anchor="middle" font-weight="bold">Discounted Effects (QALYs)</text>
<text x="0" y="0" font-size="10.75" font-weight="bold" text-anchor="middle" transform="translate(23.4 219.0) rotate(-90)">Discounted Costs (EUR)</text>
<polyline points="120.4,362.5 166.95,360.3 181.25,348.6 334.7,98.8" fill="none" stroke="#000" stroke-width="1.1"/>
<rect x="118.1" y="360.2" width="4.6" height="4.6"/>
<rect x="164.6" y="358.0" width="4.6" height="4.6"/>
<rect x="178.9" y="346.3" width="4.6" height="4.6"/>
<rect x="332.4" y="96.5" width="4.6" height="4.6"/>
<circle cx="303.1" cy="86.8" r="2.45"/>
<path d="M218.10 227.65L221.00 232.67L215.20 232.67Z"/>
<path d="M334.7 98.8L332.4 103.4" stroke="#000" stroke-width="0.8"/>
<rect x="272.8" y="68.6" width="32.3" height="13.5" rx="2" fill="#fff" stroke="#333" stroke-width="0.8"/>
<text x="288.9" y="79.5" font-size="8.85" text-anchor="middle">NmAb</text>
<rect x="289.8" y="103.2" width="117.6" height="13.1" rx="2" fill="#fff" stroke="#333" stroke-width="0.8"/>
<text x="348.6" y="113.7" font-size="8.85" text-anchor="middle">NmAb: Oct−Mar + catch−up</text>
<rect x="168.6" y="235.9" width="71.4" height="13.3" rx="2" fill="#fff" stroke="#333" stroke-width="0.8"/>
<text x="204.2" y="246.6" font-size="8.85" text-anchor="middle">NmAb: Oct−Mar</text>
<rect x="184.4" y="331.5" width="21.0" height="13.3" rx="2" fill="#fff" stroke="#333" stroke-width="0.8"/>
<text x="194.8" y="342.2" font-size="8.85" text-anchor="middle">MV</text>
<rect x="86.1" y="344.8" width="65.8" height="13.3" rx="2" fill="#fff" stroke="#333" stroke-width="0.8"/>
<text x="119.0" y="355.5" font-size="8.85" text-anchor="middle">no intervention</text>
<rect x="154.1" y="365.9" width="61.7" height="13.3" rx="2" fill="#fff" stroke="#333" stroke-width="0.8"/>
<text x="184.9" y="376.6" font-size="8.85" text-anchor="middle">MV: Sep−Mar</text>
<path d="M95.74 502.5V862.6M145.26 502.5V862.6M194.79 502.5V862.6M244.31 502.5V862.6M293.84 502.5V862.6M343.36 502.5V862.6M392.89 502.5V862.6M442.41 502.5V862.6M491.94 502.5V862.6M83.5 858.95H534.1M83.5 803.81H534.1M83.5 748.67H534.1M83.5 693.53H534.1M83.5 638.39H534.1M83.5 583.25H534.1M83.5 528.11H534.1" stroke="#EDEDED" stroke-width="0.8" fill="none"/>
<path d="M120.50 502.5V862.6M170.03 502.5V862.6M219.55 502.5V862.6M269.08 502.5V862.6M318.60 502.5V862.6M368.12 502.5V862.6M417.65 502.5V862.6M467.18 502.5V862.6M516.70 502.5V862.6M83.5 831.38H534.1M83.5 776.24H534.1M83.5 721.10H534.1M83.5 665.96H534.1M83.5 610.82H534.1M83.5 555.68H534.1" stroke="#ECECEC" stroke-width="1.1" fill="none"/>
<path d="M120.50 502.5V862.6M83.5 721.10H534.1" stroke="#A8A8A8" stroke-width="1" stroke-dasharray="4 4" fill="none"/>
<polyline fill="none" stroke="none" marker-start="url(#mMV)" marker-mid="url(#mMV)" marker-end="url(#mMV)" points="184.9,617.6 184.7,610.4 193.1,652.3 173.4,613.9 185.1,661.3 180.5,583.2 171.0,615.1 174.1,620.7 180.7,632.4 170.5,594.0 180.3,630.1 199.3,674.0 152.1,529.2 177.9,619.3 183.0,631.6 178.6,603.2 166.8,572.2 212.3,658.3 189.4,630.5 161.4,594.4 181.6,618.7 171.7,623.4 168.7,588.9 181.4,605.7 173.8,634.0 192.9,656.4 170.1,627.2 173.8,635.9 167.3,624.4 179.9,601.5 176.1,609.5 183.9,615.5 166.9,623.5 174.2,605.4 190.9,641.4 183.6,662.3 176.3,644.1 190.8,629.5 193.0,644.4 163.0,628.4 174.5,589.3 182.8,653.2 165.9,594.8 189.7,661.3 180.2,594.7 186.6,650.3 183.6,607.5 176.8,627.8 155.9,622.4 180.6,648.2 184.7,639.2 192.4,644.7 189.5,644.9 185.4,655.0 162.7,592.5 178.7,622.3 182.1,612.8 192.3,596.0 180.3,582.8 186.6,642.2 189.5,659.1 162.6,578.8 188.8,641.9 168.1,600.2 188.4,635.4 173.8,621.3 187.5,645.2 183.9,637.6 169.8,575.0 168.6,629.4 166.7,563.7 202.0,675.8 179.5,622.5 174.8,610.1 186.0,645.1 166.3,583.9 172.8,621.1 169.2,632.2 204.9,682.3 182.3,610.0 180.1,637.5 177.1,614.3 183.3,630.0 189.5,626.2 183.0,625.4 178.5,619.0 181.6,625.9 182.5,592.9 191.9,640.1 166.2,631.1 199.7,686.0 182.3,599.7 228.4,706.9 166.5,613.5 181.3,638.2 182.4,621.2 198.2,685.8 152.1,582.3 161.6,608.8 182.4,610.1 167.3,590.7 211.8,689.2 185.3,604.0 179.9,623.1 209.1,651.7 176.4,648.4 172.1,639.2 173.1,618.0 166.2,629.9 177.5,644.3 180.9,607.5 190.8,624.7 178.4,650.1 173.5,606.7 187.3,658.8 170.9,607.8 185.7,649.5 157.9,570.1 183.7,621.6 191.0,645.7 166.7,604.9 177.8,645.7 161.8,569.3 172.6,628.9 188.8,647.1 184.6,648.8 179.4,613.6 170.9,589.0 174.2,592.3 181.2,622.7 177.2,614.4 188.8,623.2 167.7,593.9 164.2,582.1 179.4,613.3 169.0,590.5 184.7,608.9 233.2,704.4 171.1,607.8 179.6,644.7 188.9,649.1 174.4,633.6 186.9,586.5 186.2,643.4 171.8,611.8 177.2,588.2 194.6,641.2 191.2,646.0 183.7,637.5 189.5,647.0 176.2,627.4 178.1,628.4 171.4,621.8 176.4,610.3 180.2,608.1 193.8,648.2 201.6,639.1 170.2,605.0 178.7,639.8 179.7,598.2 200.9,619.6 172.1,626.5 175.3,626.3 167.6,599.6 177.7,618.2 193.6,656.4 180.4,646.0 164.5,606.2 179.8,610.2 204.4,672.7 183.7,645.6 188.4,672.9 173.9,628.3 188.7,612.9 170.4,604.3 192.8,641.0 161.0,607.3 185.9,627.9 175.8,604.7 167.4,597.1 174.0,609.8 194.7,653.5 179.5,629.0 197.6,578.6 165.7,619.4 190.7,618.7 161.1,585.1 199.9,621.4 165.9,597.7 194.9,652.2 187.6,638.0 203.0,652.2 194.4,615.5 177.8,610.0 196.8,659.5 170.9,607.1 191.1,662.7 176.8,631.5 160.9,601.9 183.3,613.1 190.6,650.8 173.2,602.3 211.3,648.3 188.0,618.5 185.3,595.3 168.0,623.7 191.0,653.2 176.0,652.5 195.4,623.6 171.2,628.3 181.8,620.7 180.9,633.4 188.7,639.3 175.7,599.5 172.5,626.4 186.0,647.4 173.8,587.8 182.5,630.5 171.8,622.3 180.8,626.3 166.7,608.4 171.7,608.9 200.6,610.0 185.0,616.4 180.9,640.7 213.9,651.2 176.5,603.0 174.0,612.3 177.8,636.5 208.5,682.3 200.3,658.5 181.2,646.5 190.2,630.4 183.8,638.3 177.2,630.1 182.1,637.1 169.3,617.8 162.6,567.5 188.9,633.4 184.0,653.0 171.9,626.9 187.2,636.3 185.6,624.7 179.0,627.0 198.8,660.7 170.1,629.2 182.3,628.1 183.8,647.3 175.3,601.4 156.8,559.6 180.5,611.7 214.7,648.1 167.2,608.8 196.3,631.0 189.5,631.1 183.7,650.3 172.5,629.2 164.9,587.0 178.1,614.6 183.6,607.2 167.3,625.7 188.1,664.4 203.4,635.0 170.7,628.1 201.0,675.5 173.0,590.2 188.6,638.0 165.4,614.4 209.2,652.7 194.4,639.4 194.3,661.2 190.8,650.2 196.6,643.5 167.1,612.6 198.0,629.9 173.1,590.1 162.9,623.5 199.6,638.3 183.4,591.2 183.4,635.6 192.9,632.8 193.5,625.4 182.5,617.5 178.0,620.5 195.5,648.5 182.6,651.5 185.6,616.2 189.8,629.4 180.6,614.6 159.8,597.4 178.5,629.4 189.8,657.3 193.9,657.1 171.4,609.5 169.0,600.4 167.4,572.9 149.4,593.5 175.9,615.4 163.0,579.5 173.3,601.5 185.3,640.3 169.7,616.5 209.6,661.0 184.4,634.1 179.9,637.1 163.7,614.5 214.8,691.7 180.3,605.1 181.9,653.0 177.0,630.7 190.3,600.8 206.4,649.7 176.2,579.1 169.8,637.1 176.0,636.4 208.6,669.6 175.9,638.8 159.1,578.4 193.8,605.3 174.1,631.3 189.4,676.2 185.7,653.3 180.6,647.3 171.1,607.7 160.1,613.5 173.2,621.1 182.5,628.5 167.3,591.6 175.0,621.8 163.5,623.7 194.8,676.3 177.1,603.5 182.6,633.1 157.3,588.6 208.2,651.6 197.1,627.0 156.7,590.7 174.8,625.5 191.3,668.6 173.5,652.9 169.5,594.6 168.7,576.0 167.0,621.1 183.6,626.3 170.1,588.1 192.1,655.5 167.3,581.6 186.6,606.6 176.2,624.8 171.1,612.2 160.9,564.0 173.2,591.6 146.2,570.6 173.4,580.2 172.9,588.7 155.4,588.1 167.0,607.0 203.7,646.9 173.0,624.2 166.4,599.5 180.2,620.1 193.8,646.7 175.2,585.3 170.4,643.2 172.4,586.0 194.3,625.7 192.1,656.6 198.9,648.6 183.9,651.0 166.4,611.2 183.8,585.0 188.3,635.3 177.8,603.2 173.5,606.7 193.8,656.4 197.5,655.3 164.9,561.2 166.0,608.1 197.7,643.8 172.5,612.2 182.7,652.3 182.0,631.2 173.1,634.9 182.2,655.9 169.8,619.4 182.9,615.9 168.0,624.1 193.3,657.7 170.7,620.3 179.2,607.7 175.4,629.4 176.7,614.2 176.7,612.1 176.3,606.2 171.7,578.6 162.5,595.1 178.9,596.1 165.7,600.7 180.6,627.9 207.5,703.2 166.1,583.6 199.2,658.6 171.5,594.0 152.9,589.4 192.8,621.2 181.5,621.7 187.6,660.6 165.1,611.8 174.0,610.8 179.6,561.1 168.8,603.8 171.8,625.0 178.6,639.7 172.2,624.8 194.9,629.5 176.1,641.4 183.1,625.3 182.4,612.1 185.8,604.5 187.5,634.5 183.3,645.0 176.6,628.6 165.5,571.8 178.7,641.2 188.4,654.0 197.0,590.7 180.2,632.5 174.0,605.4 192.7,635.6 174.9,602.2 181.0,619.4 203.6,662.9 247.7,700.4 175.1,635.6 190.4,643.0 171.7,569.0 180.5,653.8 200.5,651.4 168.0,636.2 183.2,636.2 183.5,623.9 185.7,636.4 164.3,582.1 183.3,621.4 177.4,645.5 198.8,646.1 170.6,612.9 184.9,645.2 175.6,592.1 213.4,678.6 180.8,651.6 190.4,642.9 166.5,640.0 169.4,613.8 196.3,655.6 178.2,629.3 179.2,618.7 164.1,602.7 176.0,610.7 178.3,616.9 197.9,615.2 163.9,602.4 163.9,577.6 182.0,631.5 194.8,656.0 174.9,599.5 178.3,609.3 182.5,608.3 176.7,590.9 174.7,608.5 170.3,618.1 181.4,628.7 190.4,627.3 191.3,643.9 163.3,598.6 191.4,643.7 190.0,643.6 192.6,657.3 184.7,632.2 189.5,646.1 180.5,625.9 168.1,611.7 173.9,635.2 188.1,653.2 192.1,644.4 180.4,631.8 176.9,615.5 166.5,623.9 165.2,624.9 192.6,657.8 189.2,640.1 216.3,635.0 170.8,616.1 192.7,652.1 196.1,668.8 177.0,598.3 168.0,616.3 193.8,656.2 175.6,630.4 175.6,607.7 154.4,570.1 175.1,613.3 182.8,610.7 179.8,603.8 153.2,579.2 206.3,631.8 176.4,619.6 169.2,616.0 163.4,583.7 164.4,598.8 179.7,629.5 184.4,623.7 221.5,675.7 179.4,603.5 176.8,635.0 181.1,643.4 189.3,660.5 172.9,613.9 211.3,689.9 186.6,642.7 201.2,658.9 173.9,609.4 176.1,641.1 178.8,615.5 184.1,631.9 188.3,627.0 193.7,620.9 165.5,597.4 169.7,618.6 191.7,628.4 173.2,611.0 182.8,606.0 162.8,575.6 162.1,625.2 200.4,618.7 187.2,651.9 172.6,588.7 197.3,643.8 178.5,631.5 182.2,635.4 170.4,581.4 204.1,682.8 163.6,609.0 166.6,590.6 176.9,617.7 172.5,612.9 168.9,637.0 192.2,632.3 170.0,618.2 186.3,608.1 177.0,641.6 175.0,629.0 173.0,618.8 180.7,598.9 177.3,591.3 169.1,611.9 169.6,600.5 185.1,592.3 193.0,607.0 199.4,650.5 170.4,599.0 181.4,637.3 173.2,598.2 189.0,636.4 179.8,635.3 193.1,622.1 187.0,637.1 180.3,605.1 181.3,660.1 181.4,634.6 184.4,649.6 177.7,608.6 186.1,585.9 168.3,604.0 183.7,635.8 175.9,629.7 183.6,655.2 171.6,610.9 185.1,630.4 161.8,595.9 160.2,606.7 169.8,581.6 158.2,608.8 191.3,619.9 188.5,620.9 211.8,670.2 198.8,628.4 176.5,657.7 202.9,634.3 174.2,647.6 196.4,630.6 179.7,630.2 197.5,648.8 159.6,603.8 151.0,580.5 166.9,582.3 182.4,608.6 173.8,621.2 182.7,610.0 189.3,654.6 190.0,612.5 161.6,569.6 195.4,628.6 171.8,637.3 163.7,606.4 187.2,616.8 174.4,586.8 172.8,640.7 174.3,607.2 181.0,634.4 176.3,629.0 209.1,660.0 184.8,669.6 191.9,636.8 202.2,665.5 173.3,624.7 185.7,663.9 219.0,710.9 166.2,603.5 164.5,623.1 190.6,645.5 167.6,604.3 168.3,622.2 189.3,571.4 178.1,634.6 183.2,634.4 177.9,652.9 164.4,593.7 171.4,594.6 198.3,613.6 182.0,606.8 184.0,620.9 189.9,617.3 203.3,608.5 178.7,585.7 166.8,601.4 186.6,610.9 192.2,655.0 196.3,635.7 179.7,612.2 178.9,601.1 161.7,584.6 198.5,626.3 176.3,585.6 167.3,597.0 188.1,601.7 154.8,568.7 190.9,637.7 174.0,626.7 168.4,624.3 191.4,619.2 158.5,588.2 202.6,619.7 191.3,616.7 175.8,633.0 185.4,634.6 176.2,601.9 166.2,596.7 172.9,637.9 201.5,658.5 195.8,646.3 190.8,666.2 213.0,665.7 178.7,591.7 175.8,626.7 184.4,595.4 153.2,560.1 186.7,638.8 178.2,603.3 195.0,636.1 202.1,658.3 165.3,535.1 154.2,593.8 198.5,651.5 181.5,645.3 183.4,660.1 183.4,649.3 190.5,621.6 194.6,651.2 192.3,646.9 174.8,595.8 193.0,606.2 205.6,625.2 173.5,625.2 181.5,628.1 217.5,704.9 173.5,605.9 188.3,640.2 169.9,615.1 189.5,665.9 152.7,605.2 177.4,596.2 192.5,640.2 167.9,631.1 159.2,595.9 177.4,625.4 176.6,597.2 184.3,625.7 196.8,663.5 200.4,644.3 158.8,588.6 168.4,598.0 167.7,637.2 176.7,605.1 171.4,621.4 181.2,608.4 159.0,602.5 165.0,602.7 178.9,651.1 174.8,611.1 159.1,593.0 169.9,583.3 179.8,624.9 177.9,640.0 185.5,609.9 174.7,638.6 167.4,611.3 179.6,619.6 187.6,616.2 183.0,629.0 165.9,596.7 176.2,631.7 189.8,633.8 181.1,630.9 166.9,627.6 176.8,625.8 181.6,600.5 189.2,678.7 172.8,604.5 189.0,619.5 173.5,593.4 182.9,625.4 152.0,581.9 214.5,692.9 187.8,642.3 195.5,671.0 169.8,632.5 171.6,624.3 158.9,592.9 192.2,636.0 182.4,627.9 167.2,607.4 167.0,570.5 167.9,632.8 172.0,528.8 162.3,615.4 179.3,646.2 180.5,604.4 190.8,633.9 172.8,607.3 167.1,586.9 201.1,639.9 157.9,619.8 170.4,612.5 169.3,571.2 185.5,631.8 214.6,689.7 200.2,658.4 175.0,619.4 212.7,682.0 197.8,620.6 188.4,636.8 208.6,657.7 191.2,645.9 178.1,634.9 205.2,668.3 180.2,601.7 172.4,589.7 174.9,573.1 170.6,592.8 168.8,603.0 166.1,596.3 205.1,634.9 171.5,594.4 172.0,610.0 172.8,622.3 200.8,674.3 199.4,639.7 183.4,667.9 179.0,590.8 179.2,626.6 192.5,624.3 199.2,653.6 164.4,565.1 199.3,660.4 195.2,665.0 173.4,637.4 175.6,619.2 183.4,618.6 176.9,618.1 175.1,626.9 153.3,563.4 201.3,665.6 175.3,618.1 165.2,599.2 163.9,609.5 185.6,631.7 187.8,651.6 187.0,633.2 176.7,621.6 167.5,610.2 174.8,608.9 167.2,611.9 222.0,679.0 171.3,628.7 189.7,617.8 188.8,611.9 175.6,617.0 174.4,646.1 180.4,634.7 186.7,615.1 184.9,626.9 160.2,579.6 186.7,647.5 194.6,642.7 172.8,623.9 180.0,600.9 166.6,567.4 194.4,610.4 173.4,608.1 192.4,617.6 213.1,696.5 185.2,646.4 185.4,646.9 170.2,625.9 174.4,606.5 170.8,601.3 179.3,655.5 167.9,616.4 173.7,620.4 221.5,662.2 205.7,663.6 161.8,591.7 162.0,536.6 177.1,632.8 190.0,647.1 174.8,635.3 180.6,577.0 183.6,645.1 178.6,658.8 166.8,612.8 206.1,641.8 189.6,621.1 184.7,642.0 176.4,603.4 184.3,607.9 188.1,626.9 190.3,649.8 172.2,612.4 190.1,624.3 154.4,570.0 177.5,618.7 192.2,667.4 175.1,622.1 164.6,606.7 186.4,616.4 157.4,614.7 172.7,638.8 221.0,678.0 193.7,642.9 199.1,625.5 164.8,575.8 159.3,572.6 191.2,653.8 179.5,607.0 198.5,624.0 191.5,597.3 175.4,609.5 172.6,589.1 203.7,633.8 164.1,620.8 189.1,646.0 197.1,667.7 172.0,639.9 196.4,630.6 178.8,599.7 185.3,620.5 191.3,623.8 169.4,607.1 169.4,598.8 171.1,611.0 169.0,599.2 171.4,612.1 185.1,574.3 186.6,631.0 185.6,642.0 178.8,605.7 189.6,636.5 206.2,670.0 166.8,632.3 197.0,650.6 189.8,657.6 213.4,680.7 203.0,642.6 174.3,633.8 202.5,661.2 169.6,615.5 222.6,697.9 201.3,663.8 199.1,638.3 177.4,623.3 188.2,643.2 183.9,608.8 167.2,637.5 180.1,629.3 187.0,633.2 187.5,618.7 181.7,584.8 200.8,643.7 176.1,627.8 179.2,639.5 173.1,594.0 173.0,641.4 213.4,663.8 175.6,602.4 160.5,593.5 187.8,610.1 162.3,604.9 167.9,590.6 196.8,659.7 176.1,627.2 196.4,657.9 176.1,593.0 190.8,638.7 176.4,556.9 179.5,550.0 172.2,618.2 189.3,653.1 177.4,623.8 179.6,605.6 183.1,596.2 182.4,609.1 194.3,619.6 164.9,613.6 171.5,614.8 187.8,627.2 184.0,658.2 198.7,686.1 188.2,671.3 192.4,663.6 190.0,631.7 183.3,622.1 183.6,598.4 181.7,636.8 170.7,621.3 163.6,618.3 165.3,622.6 212.3,698.9 210.9,654.3 188.7,646.5 170.0,611.8 174.2,626.4 191.5,573.7 162.9,601.4 171.5,589.0 167.7,600.8 210.9,653.2 190.2,650.5 167.9,590.9 202.3,624.7 205.8,618.6 171.6,609.9 185.8,643.7 175.9,587.1 173.2,636.6 152.2,588.5 174.1,602.2 188.5,620.3 186.1,646.8 189.1,619.7 200.0,664.1 177.0,613.6 164.1,616.8 182.4,637.6 198.5,634.6 165.1,622.9 199.2,653.0 168.7,625.2 179.1,621.3 180.5,626.7 187.9,616.8 178.5,602.0 178.9,614.2 184.5,613.6 169.4,615.9 179.8,600.3 212.9,662.4 191.3,632.0 182.1,647.6 179.7,623.7 183.3,644.3 177.3,601.7 211.6,653.1 175.2,624.5 198.8,659.1 199.8,659.5 180.1,633.3 198.3,661.8 186.0,637.3 175.1,598.5"/>
<polyline fill="none" stroke="none" marker-start="url(#mSEP)" marker-mid="url(#mSEP)" marker-end="url(#mSEP)" points="168.5,659.7 163.3,709.4 185.3,740.3 164.0,675.3 169.3,670.6 176.2,730.2 164.0,686.8 171.0,691.9 171.8,712.5 167.9,691.5 174.8,686.8 169.8,671.5 158.6,693.6 188.4,733.5 153.7,679.5 174.8,715.9 177.2,681.9 168.7,732.0 165.3,707.8 157.8,616.1 169.0,706.2 160.5,682.6 162.1,705.0 164.8,723.6 152.8,675.6 176.8,707.0 168.2,714.0 167.6,682.3 192.3,729.1 164.4,667.0 172.8,739.6 165.2,693.1 172.8,709.9 155.0,667.9 178.5,743.6 181.9,696.7 160.7,675.8 166.1,695.8 159.6,701.9 170.0,669.4 164.4,711.2 175.3,729.6 160.5,686.2 159.4,679.8 177.9,689.9 159.9,700.8 161.2,715.5 159.9,671.0 167.2,724.0 161.0,674.3 160.0,689.8 164.5,701.5 175.4,718.7 193.4,743.7 162.9,721.9 158.4,691.4 159.0,685.1 152.2,709.5 165.4,690.7 183.8,690.8 167.2,690.3 166.4,680.6 173.6,707.1 161.2,682.3 162.3,668.6 161.8,689.0 173.2,692.2 160.1,704.7 163.0,688.1 166.4,701.9 159.2,694.6 168.6,660.3 170.0,730.8 173.0,671.6 184.4,677.1 177.4,701.8 170.7,672.6 162.7,716.0 164.1,719.5 173.8,699.4 166.0,690.0 160.2,696.1 151.3,673.4 164.7,690.2 175.9,730.6 168.8,676.2 169.6,703.2 159.6,692.4 171.5,718.0 167.9,727.8 177.8,718.2 158.0,674.6 167.7,687.0 182.1,725.2 164.4,721.7 151.8,700.0 175.0,683.2 160.9,696.3 187.2,748.1 157.8,703.6 152.8,685.2 161.9,691.3 159.8,656.9 169.5,672.5 152.2,658.1 179.5,709.7 167.4,682.5 173.7,685.3 169.3,708.8 178.4,702.3 156.6,688.1 173.6,696.5 152.6,695.7 171.9,731.7 153.3,659.6 161.9,681.4 198.6,743.3 175.9,739.5 172.8,704.1 167.7,693.8 156.7,611.5 171.6,699.8 168.2,714.8 159.9,660.1 153.4,661.3 173.9,714.1 172.8,724.2 162.8,691.5 156.9,702.7 174.9,726.3 160.5,673.6 155.6,666.2 156.6,719.6 158.5,711.8 156.4,672.7 159.0,688.8 164.2,669.5 182.1,699.5 164.6,676.8 161.1,696.5 171.9,724.0 173.9,726.1 148.2,663.7 162.8,692.1 158.2,703.3 171.5,685.3 195.6,694.3 178.0,712.5 169.2,704.1 152.6,699.1 174.0,698.5 172.4,703.2 159.9,709.6 180.1,730.4 166.4,690.4 181.4,739.1 166.0,696.2 170.8,674.5 157.0,665.8 153.7,683.9 190.4,755.5 168.0,695.8 158.8,693.6 158.0,687.7 161.8,655.2 173.2,684.2 153.3,658.9 174.0,722.5 168.8,652.0 168.1,683.8 167.1,687.2 165.0,648.5 154.4,663.2 166.3,684.7 171.0,714.4 179.2,711.9 169.3,717.9 157.0,654.8 155.9,706.0 176.2,734.4 169.5,683.2 167.3,708.9 167.6,712.2 169.3,726.1 156.5,669.8 152.1,654.4 165.7,666.7 170.8,703.9 166.3,714.9 179.1,734.5 171.7,716.4 165.2,689.1 173.4,718.4 159.9,672.5 185.1,728.6 169.5,662.3 164.4,698.0 184.5,728.5 159.1,699.6 158.8,687.0 179.2,729.6 157.0,670.2 169.0,652.4 170.3,668.0 160.4,662.3 167.1,715.2 148.8,659.5 172.5,689.1 167.8,717.4 159.9,695.6 180.2,724.5 168.9,690.5 160.9,695.0 155.9,650.1 166.9,702.3 159.5,668.5 162.0,694.7 164.8,706.7 179.6,695.3 180.0,737.8 158.4,687.4 161.4,695.3 163.5,694.5 152.6,664.5 161.9,706.8 157.1,652.5 165.0,690.7 153.9,680.0 159.1,667.7 156.8,687.6 173.5,724.5 162.3,695.5 169.3,699.4 170.3,696.8 172.6,701.2 163.3,707.5 182.0,729.8 201.5,778.3 174.9,697.0 169.1,718.7 160.2,709.8 168.2,701.8 172.3,684.1 174.7,680.5 163.8,686.8 160.7,700.6 173.2,695.1 157.0,701.8 160.2,663.7 164.8,681.2 149.7,659.8 168.4,682.0 159.7,705.6 180.5,714.0 173.5,687.5 163.0,727.4 163.0,658.3 157.8,668.2 163.4,688.1 157.8,692.9 173.8,725.7 161.0,717.7 169.4,689.6 155.8,644.2 174.1,672.9 162.1,706.9 168.2,670.5 154.3,633.7 169.6,700.7 179.1,686.9 169.9,684.9 174.0,690.3 161.6,693.4 160.2,696.7 151.9,670.8 158.5,681.4 166.3,667.5 186.3,720.2 155.8,664.9 161.8,693.4 161.1,690.1 162.5,706.6 153.1,661.2 166.7,652.5 164.3,695.4 172.2,696.8 182.9,734.4 166.6,713.5 182.1,738.4 168.2,700.9 163.7,701.5 164.9,685.0 165.3,696.6 171.3,689.1 162.1,698.2 178.9,708.3 162.9,687.0 155.0,702.5 164.5,711.6 158.4,687.5 183.0,721.7 172.8,713.6 165.0,719.0 195.6,744.9 164.1,702.7 161.1,707.1 182.9,645.9 153.5,660.7 170.5,706.9 155.6,689.9 169.1,697.1 170.4,702.6 185.8,731.0 185.3,732.5 165.4,695.7 175.0,713.4 163.0,659.8 184.0,704.8 161.7,690.4 163.0,689.6 168.2,724.2 158.3,644.0 161.4,706.4 179.2,700.8 161.4,664.4 175.3,739.7 168.0,690.8 169.6,701.9 160.9,698.7 167.2,680.5 168.0,710.0 166.6,707.3 160.4,689.2 175.1,687.6 159.9,705.8 181.9,723.8 178.1,713.9 166.8,678.1 152.9,679.8 174.2,727.1 161.8,695.9 182.9,704.9 156.3,680.3 163.4,677.3 168.2,684.9 192.7,739.5 171.1,676.6 174.2,710.1 172.2,691.7 155.8,689.3 165.1,718.5 168.0,693.6 179.8,688.0 150.9,678.6 160.9,654.9 170.5,724.5 163.6,698.4 177.3,710.0 169.3,691.7 165.8,716.7 160.7,701.6 160.9,652.5 174.6,712.7 178.3,684.0 151.4,665.6 179.1,707.3 162.9,696.5 167.2,697.7 161.5,710.5 161.8,689.5 177.2,682.5 159.1,684.5 161.3,663.5 175.2,685.2 164.9,700.0 180.1,726.3 168.3,715.5 163.2,697.7 185.1,726.1 161.4,675.8 163.6,719.5 164.4,690.7 169.3,673.6 179.5,715.0 150.1,694.3 168.2,713.1 189.6,717.3 165.5,693.9 177.1,740.3 171.1,719.4 159.1,702.6 155.8,701.3 173.1,712.8 175.5,712.7 151.2,670.9 161.8,666.9 157.8,695.2 163.7,708.1 155.6,691.2 172.6,689.7 169.8,682.2 154.7,663.4 158.7,709.8 170.1,692.5 166.7,676.5 161.9,689.4 176.9,703.6 172.9,694.9 167.4,692.4 174.8,703.3 163.4,690.5 166.9,688.3 168.6,682.6 168.0,724.9 156.7,663.2 168.5,700.2 173.5,704.7 179.5,735.3 163.4,649.2 170.5,675.5 159.9,689.6 180.6,677.8 155.1,675.1 164.8,686.4 169.3,696.5 178.6,706.8 166.0,700.6 153.4,665.8 181.0,744.4 170.5,660.1 157.3,686.3 175.7,730.7 180.4,709.0 168.6,713.8 169.6,684.8 171.7,706.0 173.1,695.0 175.8,666.3 158.4,642.5 166.9,703.7 163.0,703.3 169.3,689.6 193.2,696.7 169.5,685.6 167.6,687.1 160.7,653.1 158.6,659.7 164.4,667.5 172.1,718.6 165.3,683.0 168.5,702.7 169.2,692.4 166.4,688.2 152.2,662.5 169.6,723.4 177.8,711.5 170.1,675.8 165.0,645.4 175.7,693.1 169.0,720.7 180.4,727.5 166.2,704.1 159.4,691.6 172.3,722.4 167.4,695.8 172.5,711.4 160.5,675.2 163.1,688.8 159.3,659.7 170.8,715.4 174.9,679.9 162.5,707.7 169.7,695.6 173.8,718.0 169.6,709.6 170.6,689.8 158.0,682.5 154.2,686.4 170.2,708.0 161.0,699.6 173.2,690.7 182.5,714.1 159.6,672.4 167.5,688.5 155.7,688.3 161.9,690.5 158.7,685.4 164.6,707.8 182.7,730.8 173.5,692.4 202.3,729.7 179.1,672.9 169.1,685.1 178.1,719.2 156.4,668.7 157.6,651.8 175.6,706.0 174.2,719.6 166.4,704.2 186.2,715.5 159.4,677.9 178.5,716.0 162.8,694.4 149.5,686.2 176.4,701.7 159.4,675.2 171.5,702.2 160.7,704.1 167.1,691.0 167.5,715.0 161.0,699.0 162.1,680.0 158.3,689.0 171.4,673.4 158.4,661.4 174.3,712.6 154.2,672.9 174.1,721.1 169.1,721.1 181.0,730.5 166.2,687.2 152.2,681.8 154.3,695.9 173.4,723.6 182.4,710.7 172.0,668.0 168.8,717.3 178.6,708.7 164.9,723.8 167.7,723.7 167.5,715.7 158.1,707.1 152.5,675.8 166.8,689.7 155.1,693.0 162.2,692.5 169.3,685.7 166.1,667.2 161.1,681.8 158.4,687.8 172.4,725.6 169.7,689.3 155.0,678.6 160.5,652.8 166.8,696.3 169.4,685.4 167.3,696.7 162.6,703.9 153.3,689.3 176.1,686.7 180.4,704.3 156.6,698.1 155.6,678.7 180.8,727.5 171.4,694.8 155.4,684.1 154.4,688.0 168.3,716.9 179.1,699.0 168.5,703.1 171.5,697.5 160.0,664.5 157.5,647.4 174.2,698.3 164.7,713.9 166.4,715.7 169.4,692.6 174.0,693.0 161.7,706.1 160.6,716.6 154.3,670.0 173.7,697.1 166.0,706.0 161.7,664.5 154.7,635.0 165.5,696.5 177.3,694.7 172.8,738.0 170.1,707.4 161.4,721.7 162.4,674.4 163.6,683.3 168.0,688.7 162.5,683.8 151.0,672.1 163.0,707.1 171.7,685.1 165.8,714.8 157.7,673.2 150.6,679.9 181.2,668.9 158.7,651.6 154.0,684.8 164.1,698.0 161.4,676.8 169.7,698.9 163.6,658.3 165.4,722.7 167.1,695.8 172.4,738.6 172.5,700.9 167.9,686.8 154.4,640.2 174.9,713.1 158.0,679.6 163.8,697.2 168.2,709.2 174.8,697.1 174.6,708.2 180.0,708.9 166.5,710.5 158.2,684.0 168.0,682.2 178.1,710.7 163.1,688.9 164.3,660.9 156.3,698.8 160.8,687.6 175.0,724.1 171.7,727.7 164.2,627.4 152.9,631.3 167.1,712.4 154.4,676.3 170.9,688.1 157.5,683.1 152.8,682.1 165.3,684.9 165.3,684.4 159.3,701.1 186.9,707.0 162.1,702.9 160.5,688.2 166.5,705.2 176.8,701.7 178.5,707.9 174.6,739.4 166.8,677.0 165.8,680.2 159.5,689.2 160.2,668.9 173.8,704.3 176.8,719.6 160.6,680.9 177.5,691.7 170.2,719.1 172.7,702.3 159.7,624.4 162.6,681.8 168.5,696.3 172.8,706.8 173.9,676.0 176.7,696.2 165.2,704.5 170.8,676.7 180.0,706.7 168.5,677.0 159.1,706.9 162.6,651.7 158.0,652.1 151.7,635.7 174.9,690.2 164.8,696.5 191.3,760.4 152.6,671.5 148.3,679.2 186.7,715.3 165.8,703.0 155.4,680.9 160.2,675.8 161.0,681.5 174.8,695.4 167.6,700.1 157.5,722.1 157.8,713.9 168.5,703.5 170.2,674.3 156.6,652.9 155.3,672.9 168.8,675.4 187.1,694.2 171.5,716.7 169.6,717.8 170.9,681.2 156.5,700.4 179.7,713.9 174.7,712.0 181.9,716.9 157.1,672.7 161.3,690.6 163.8,719.4 155.6,690.7 178.4,684.1 169.9,710.5 160.8,662.1 167.8,671.6 182.1,729.3 154.3,685.1 165.5,683.3 160.3,682.1 165.7,691.7 159.1,698.6 175.3,701.7 163.3,682.8 155.8,691.4 172.6,705.8 153.4,681.4 146.2,679.9 158.3,675.0 154.3,650.4 164.4,692.4 173.7,705.6 169.3,700.5 149.6,636.9 163.1,679.8 167.1,694.5 164.5,689.6 189.6,714.2 168.9,680.4 150.2,678.6 164.4,662.5 161.1,702.7 155.1,682.8 164.1,694.6 164.2,677.2 170.4,706.6 179.4,702.1 161.5,694.6 169.2,700.2 178.9,735.0 150.0,661.0 176.3,726.3 167.6,677.3 183.5,736.4 165.6,704.6 153.5,685.2 177.1,736.3 170.8,689.4 168.9,656.0 163.2,687.4 156.4,717.7 165.2,679.9 164.1,675.4 170.8,710.2 166.6,672.4 181.0,728.5 163.9,681.7 163.5,716.6 161.4,682.7 156.7,686.8 165.1,696.9 168.4,722.3 168.8,686.2 169.1,696.7 169.0,678.2 159.8,695.0 166.2,678.8 164.6,678.8 157.3,701.2 164.5,718.3 170.2,702.7 169.2,695.3 166.3,713.7 150.8,691.2 188.4,719.8 191.7,722.1 158.7,704.8 173.6,704.9 165.2,690.3 159.4,713.5 164.2,706.3 178.4,718.7 180.6,684.9 160.4,700.7 156.9,707.4 173.8,724.8 176.9,682.7 165.9,716.8 168.8,733.3 177.4,683.6 166.5,699.7 183.5,708.4 177.7,728.5 151.8,682.7 166.4,696.0 169.7,684.4 170.4,701.7 158.4,668.2 187.2,725.7 157.8,696.8 178.5,712.4 173.1,704.9 157.8,694.4 178.7,711.9 166.3,711.0 181.9,727.9 172.1,694.9 156.4,681.7 163.8,660.4 171.6,683.9 152.1,694.6 167.2,685.6 170.0,701.9 164.3,669.8 161.0,708.6 162.1,727.1 165.5,691.1 164.6,658.6 169.7,701.0 156.5,690.9 154.4,699.0 160.8,692.7 177.1,729.8 172.3,708.5 162.7,702.2 162.5,682.1 158.2,712.6 172.2,711.4 161.2,695.8 187.4,724.5 163.1,702.2 173.1,680.8 160.5,689.4 170.8,691.6 168.2,701.4 157.7,594.1 164.1,710.8 178.6,716.8 159.6,683.6 173.2,675.9 153.0,684.6 167.8,698.8 162.0,695.0 161.2,713.9 171.3,699.3 167.7,667.5 177.4,698.7 164.2,692.2 156.2,672.0 162.0,704.8 171.2,715.8 163.6,705.0 169.9,704.9 151.7,683.5 161.4,711.6 150.5,683.3 167.6,656.1 171.9,625.2 155.0,675.3 175.9,715.6 181.7,681.3 159.8,690.6 174.7,684.7 168.2,694.7 173.3,705.5 167.5,720.3 164.7,691.5 152.0,650.5 161.5,688.9 182.2,692.9 170.7,718.7 159.0,683.7 164.0,713.3 167.5,669.8 164.6,682.6 167.6,680.7 168.3,729.9 161.2,693.1 171.3,726.4 168.5,686.7 174.2,723.9 171.7,703.7 155.8,693.3 158.8,672.1 167.6,711.5 163.0,696.6 152.8,661.3 157.5,664.1 166.9,687.7 156.3,670.7 155.3,677.0 167.8,685.7 167.6,668.9 161.3,695.1 158.3,690.4 177.0,702.1 171.4,703.2 171.4,710.9 168.6,711.5 165.1,718.8 163.1,681.5 164.1,695.4 163.2,642.0 181.7,676.8 155.4,688.6 173.5,725.7 163.7,706.3 169.2,695.2 170.0,694.2 164.9,688.3 166.9,663.8 157.5,696.6 153.8,677.2 161.3,695.7 159.5,688.8 164.3,705.6 158.3,647.4 164.6,690.5 165.3,695.0 170.8,677.7 157.0,674.3 169.4,666.2 179.9,736.1 166.6,702.2 164.7,714.7 180.5,723.3 178.9,684.1 159.6,669.7 157.2,645.4 173.4,725.7 156.5,654.9 176.4,711.9 167.0,691.3 159.8,693.7 162.3,677.5 173.7,711.3 150.6,659.1 152.4,681.6 171.2,726.2 168.2,709.3 165.5,686.0 165.7,721.2 160.2,687.1 168.5,703.1 173.5,731.6 163.5,707.9 176.6,714.0 155.3,665.8 166.5,680.5 159.6,634.7 165.7,687.1 158.2,664.9 175.5,701.3 177.4,693.9 173.3,708.4 159.6,667.3 159.8,690.6 160.6,687.1 163.7,661.7 165.0,691.4 164.0,684.3 159.4,644.6 182.9,741.0 171.6,688.8 172.0,691.8 165.1,693.1 162.6,676.3 173.0,666.1 155.1,659.7 177.0,695.7 154.2,692.6 186.8,725.2 148.3,653.1 167.4,689.7 174.3,727.4 171.7,704.8 167.8,706.2 165.5,692.8 170.4,702.4 177.1,717.2 164.8,682.8 152.9,668.1 174.7,698.6 157.5,702.0 158.3,691.2 173.7,666.6 154.8,650.0 167.4,728.5 161.3,651.3 153.7,673.1 168.6,717.6 157.6,719.8 177.5,714.6 170.5,667.6 149.2,705.1 172.7,644.5 168.2,716.8 162.6,676.2 177.9,725.5 164.5,714.5 151.5,662.4 164.9,696.3 173.9,694.8 174.1,682.6 157.2,621.7 166.7,701.7 173.5,731.5 176.0,717.9 168.6,725.6 153.6,660.1"/>
<polyline fill="none" stroke="none" marker-start="url(#mNMAB)" marker-mid="url(#mNMAB)" marker-end="url(#mNMAB)" points="365.3,669.5 311.3,603.2 289.4,626.4 260.7,646.7 280.6,692.9 306.1,659.2 293.4,618.5 276.8,599.9 313.1,645.0 327.2,644.5 300.8,626.6 314.9,693.5 295.7,616.7 361.2,646.3 294.3,633.4 280.2,628.0 324.9,655.9 302.5,647.9 250.4,596.4 278.7,603.3 307.4,643.7 289.6,657.7 300.9,651.5 342.0,661.1 305.2,609.1 295.2,658.9 316.0,636.6 294.9,609.9 306.2,644.7 319.1,635.8 266.5,615.3 278.6,595.6 260.5,594.7 319.7,644.9 258.7,611.4 308.8,625.3 348.5,634.4 309.5,629.7 342.0,675.3 291.2,640.7 351.8,652.5 321.0,626.2 309.4,650.3 281.9,622.5 340.8,669.6 286.2,627.6 306.0,676.6 273.2,620.8 300.1,638.7 321.1,660.4 292.5,643.4 294.3,651.5 282.0,655.0 297.5,635.1 306.0,678.7 345.2,651.9 260.4,592.4 286.0,662.6 257.1,610.6 330.7,652.2 278.3,635.4 301.3,650.5 365.6,704.9 321.4,648.8 354.6,694.4 340.7,703.6 295.5,635.4 345.4,672.8 292.8,670.6 313.2,640.1 279.3,623.8 382.5,689.7 287.1,678.1 271.7,619.3 323.9,659.5 308.9,599.4 303.8,648.4 293.7,613.6 303.1,655.2 288.9,624.8 292.1,638.5 290.5,661.7 322.8,672.0 352.3,642.9 324.1,682.8 303.7,641.5 331.2,661.7 304.2,644.5 293.3,645.1 322.4,636.1 370.1,670.1 370.7,663.2 291.0,641.4 320.4,665.6 310.2,633.0 349.4,688.3 330.0,645.2 278.7,654.6 274.3,635.5 329.6,668.0 317.2,684.5 307.2,675.7 293.5,609.6 321.2,647.8 318.0,654.0 332.6,670.1 281.4,620.9 287.0,637.0 301.3,635.4 295.6,620.3 295.6,662.3 296.3,677.3 332.4,638.4 261.7,645.4 297.1,659.1 314.5,707.5 264.5,593.5 296.5,649.1 273.5,630.4 320.4,623.1 284.9,632.7 286.9,609.1 305.6,650.2 282.2,609.5 375.6,676.9 303.5,635.0 299.2,646.1 287.7,632.1 304.3,659.3 274.6,637.0 297.2,673.9 279.2,675.1 315.4,671.8 321.0,622.9 319.8,646.5 323.5,660.8 297.7,669.2 337.9,655.8 291.6,628.9 359.9,680.4 297.9,642.4 335.8,677.6 309.8,639.9 281.6,651.9 314.6,665.7 305.5,635.2 286.9,599.4 280.0,676.1 298.2,633.1 301.3,637.3 286.7,621.8 275.0,651.5 309.9,654.6 265.6,617.8 324.2,650.9 326.5,667.5 301.0,618.9 272.3,612.3 324.9,645.5 314.9,642.4 308.1,654.7 292.3,660.0 267.6,608.3 275.8,609.2 318.5,664.7 402.5,674.0 285.4,607.1 309.6,651.9 331.9,656.3 248.0,611.2 285.8,633.4 285.1,683.5 347.0,698.8 305.5,637.5 303.1,632.3 302.8,634.5 281.8,648.9 315.8,691.6 292.1,597.8 320.5,678.1 307.8,664.8 334.0,673.9 297.9,657.4 280.1,625.3 284.4,624.2 273.8,625.3 304.8,664.2 318.4,634.7 321.0,641.5 353.8,683.2 297.3,639.8 294.2,660.5 293.6,631.3 315.9,687.5 322.8,651.1 262.3,651.1 322.1,656.5 315.2,723.6 291.1,660.3 340.5,633.1 288.5,651.1 296.4,628.5 312.5,630.3 342.8,670.6 328.0,660.1 333.6,665.6 304.0,679.0 321.6,641.6 345.3,695.7 364.7,641.1 319.5,635.3 291.9,621.5 320.8,650.4 287.5,655.2 329.2,639.5 302.7,638.7 305.4,659.9 276.9,611.8 303.4,664.5 286.4,635.5 313.1,630.2 285.8,665.5 322.4,678.6 314.9,641.0 272.8,665.4 290.5,627.0 289.6,651.4 298.9,671.4 330.3,646.4 289.0,621.3 334.0,658.4 337.9,701.2 296.3,619.5 290.7,684.3 320.1,676.4 298.1,637.2 353.7,734.8 297.7,646.0 257.0,597.6 300.0,642.4 321.9,621.2 294.9,631.5 273.2,636.9 330.3,642.9 270.4,607.6 299.4,675.5 293.0,617.1 296.7,703.3 310.4,690.7 340.9,636.8 331.0,643.2 319.6,645.9 324.2,629.7 349.5,685.8 314.3,685.8 351.8,683.5 293.6,651.2 289.7,661.9 300.0,630.7 360.8,652.9 301.1,699.8 318.6,681.7 284.2,593.0 314.9,649.4 288.3,662.3 313.9,665.8 308.7,646.1 312.0,625.9 292.6,607.0 307.9,644.0 273.8,656.9 352.2,638.4 310.8,679.4 321.9,643.3 349.3,654.7 337.2,662.5 290.8,681.6 325.4,651.8 291.2,610.9 265.3,598.0 315.8,664.4 333.9,621.4 271.6,610.8 298.4,629.4 327.9,715.4 330.5,641.2 294.9,595.9 280.2,598.4 322.1,679.8 310.7,631.6 314.0,641.3 338.5,615.8 283.2,600.1 290.0,610.0 330.2,658.6 282.3,646.5 337.3,663.9 331.5,687.7 321.4,625.1 321.7,614.1 278.1,625.9 300.6,671.7 336.1,670.4 283.8,603.3 292.7,663.6 281.6,644.7 307.8,660.5 271.7,634.6 319.1,648.3 334.8,685.8 309.1,650.4 380.5,678.0 279.9,607.7 296.3,643.9 256.0,657.3 285.4,600.1 296.8,645.5 293.0,688.1 314.5,659.2 292.5,672.5 307.0,624.3 346.2,644.4 329.0,649.4 312.2,644.7 281.2,611.0 305.1,678.6 289.7,650.2 270.6,612.5 296.3,638.0 284.0,593.4 296.8,634.8 351.2,636.4 336.0,668.3 288.2,653.8 291.8,611.5 286.5,624.9 349.6,663.1 280.7,655.9 282.1,651.1 297.4,634.0 387.2,717.3 377.1,680.0 292.2,661.4 353.3,680.6 302.2,626.0 295.3,665.0 298.1,655.8 270.4,607.0 322.3,655.4 306.8,675.7 354.7,657.7 296.6,659.7 258.6,637.5 296.8,623.6 340.0,635.5 263.5,605.8 305.5,654.3 272.6,616.0 315.0,637.9 299.7,639.1 355.2,696.7 291.4,603.5 296.3,665.9 274.5,613.2 272.4,616.3 303.7,660.7 325.0,654.6 284.4,672.7 290.3,667.3 326.2,654.4 287.4,663.0 291.4,637.9 294.9,656.3 297.9,677.5 324.3,656.9 300.4,653.4 276.1,669.9 267.4,622.6 268.9,586.6 287.5,639.5 348.3,683.2 318.2,648.1 294.2,673.1 263.9,638.9 349.9,691.4 287.6,608.9 289.9,660.9 273.9,604.1 294.2,637.9 295.1,610.1 286.0,673.2 265.3,656.8 319.4,616.2 316.5,631.3 265.5,649.0 331.6,662.8 305.5,641.2 314.9,669.3 288.3,626.0 304.2,612.3 263.2,617.3 282.1,624.2 306.8,674.2 307.1,669.4 302.0,623.6 283.4,654.8 319.6,618.8 343.6,651.0 326.8,658.1 282.6,614.5 312.1,660.9 301.5,638.7 330.7,666.0 306.1,650.4 315.3,624.1 302.8,636.1 344.9,699.8 277.2,640.4 266.7,644.5 276.5,611.0 318.3,670.3 268.7,600.9 262.1,613.9 299.1,640.5 287.3,620.7 342.5,695.9 301.1,614.2 283.2,649.8 278.7,614.8 273.4,611.6 300.0,651.9 269.9,585.6 303.7,655.3 281.1,659.1 293.7,630.5 315.2,667.3 258.1,609.6 334.5,638.0 324.9,678.6 271.2,618.5 302.7,625.9 270.9,587.2 285.6,640.5 286.6,660.5 286.5,629.2 300.9,661.7 277.5,624.2 344.0,662.2 280.9,603.7 334.3,650.4 321.9,675.0 328.1,649.9 350.8,653.8 347.0,654.1 327.3,670.3 269.2,600.7 281.9,645.4 277.2,596.0 301.4,648.8 305.8,644.8 283.4,613.2 367.4,652.8 301.2,656.8 317.3,654.9 248.7,561.3 277.4,614.2 305.3,649.5 275.9,685.8 282.5,648.0 299.4,669.4 304.3,653.9 340.7,667.0 267.4,647.8 305.4,659.8 284.7,619.3 307.7,622.6 326.2,623.2 279.3,613.0 322.5,701.5 293.8,618.3 298.2,662.3 273.9,645.5 292.5,622.6 284.6,650.7 357.2,680.3 316.2,650.1 357.6,676.3 282.7,672.5 311.8,658.1 311.7,647.0 289.2,653.0 300.8,653.2 367.8,648.2 288.6,653.9 321.2,717.6 308.5,673.5 270.0,680.1 290.6,609.3 315.2,648.1 415.5,680.3 311.0,643.7 325.9,646.7 250.2,594.5 322.8,684.8 277.8,640.0 337.3,664.0 280.9,619.1 298.7,621.8 294.4,635.8 316.0,657.3 301.7,632.2 311.6,624.1 273.6,630.4 291.5,630.5 318.5,646.6 318.2,634.6 335.9,665.0 311.2,627.3 258.3,608.7 280.0,618.4 307.6,636.6 301.9,734.8 333.5,644.7 312.1,689.2 297.4,608.7 297.7,665.5 276.0,631.9 265.8,609.3 339.9,685.5 278.3,611.1 322.7,681.0 271.4,614.1 305.1,646.3 309.6,637.5 309.1,674.5 294.9,611.6 323.8,754.9 268.5,612.7 333.8,686.8 332.0,617.9 284.4,657.3 300.0,645.1 300.3,604.4 279.1,613.1 335.1,681.3 330.8,643.7 311.4,631.1 291.5,658.3 289.3,619.1 319.9,659.3 311.8,634.1 302.6,635.7 326.4,662.9 268.4,606.2 339.9,662.7 301.2,606.3 313.2,644.4 313.8,620.6 317.6,632.3 282.4,665.0 328.6,669.6 299.1,628.6 280.8,594.1 328.6,668.2 328.1,672.0 290.3,599.8 306.1,671.6 303.0,697.3 288.4,669.9 304.6,640.8 296.7,637.8 304.4,633.5 276.4,643.6 327.7,640.9 343.8,667.5 315.5,673.9 272.9,621.7 314.3,681.3 361.3,636.3 290.5,656.4 286.6,640.5 271.8,626.7 346.7,707.5 315.0,638.0 324.7,670.7 280.1,622.0 306.3,643.4 299.6,631.7 365.8,705.3 274.0,634.9 312.8,668.1 308.0,649.0 315.0,659.8 323.4,634.4 282.3,629.8 289.8,613.4 300.0,620.0 306.6,622.3 268.5,641.5 282.7,636.2 303.7,673.0 316.2,667.9 338.9,652.1 352.2,703.5 290.4,655.4 333.0,657.5 330.5,686.5 320.9,636.3 311.5,665.7 320.1,666.9 310.3,654.2 317.3,668.2 316.1,642.1 282.2,654.1 297.7,635.8 281.0,635.0 268.4,636.2 300.5,636.6 286.9,584.4 312.6,625.8 277.2,649.5 285.1,609.7 319.7,665.2 377.2,659.3 292.3,674.1 304.2,667.1 333.1,718.1 291.9,614.5 293.0,631.0 286.1,611.2 299.3,649.7 328.3,644.4 280.0,618.4 301.6,623.9 311.9,644.0 297.0,662.0 263.4,609.8 280.1,634.0 343.1,659.3 288.7,634.7 299.2,636.1 316.1,638.7 304.6,670.7 321.1,634.2 347.2,627.8 326.6,674.8 270.7,615.2 284.8,635.5 332.1,659.0 280.8,622.9 337.1,667.5 268.6,601.8 297.4,683.0 326.4,710.2 336.4,674.3 314.1,630.9 279.1,656.0 316.5,680.1 323.8,662.0 330.9,651.7 304.0,619.6 323.3,668.8 307.1,663.9 299.2,619.6 388.7,647.5 298.4,678.9 285.7,632.1 297.6,666.0 279.9,641.4 322.3,667.2 320.7,630.2 310.4,652.4 317.4,649.8 296.6,628.0 272.8,621.9 314.5,629.3 299.6,601.3 304.1,639.2 295.3,615.1 307.7,646.2 292.4,625.7 322.4,652.0 306.4,654.6 298.0,640.5 327.8,660.0 323.4,650.5 282.2,646.8 292.7,636.1 283.6,654.7 300.7,623.2 278.4,674.2 310.3,657.5 299.1,689.0 299.4,650.2 316.8,615.8 310.3,640.9 292.3,656.4 381.8,653.5 306.6,635.7 297.3,616.6 309.7,663.4 341.6,666.4 276.1,624.2 300.4,644.9 305.2,630.9 283.7,624.1 281.0,636.1 302.9,626.9 325.5,646.8 284.5,603.3 349.8,686.4 308.1,641.6 306.1,687.6 299.5,662.7 282.0,649.1 310.5,660.9 325.5,694.6 281.1,593.0 316.3,636.4 321.9,621.6 350.4,664.5 272.4,595.8 263.8,608.3 275.9,616.6 262.2,587.8 327.2,652.5 311.6,655.7 342.8,638.4 329.7,654.5 308.9,640.9 309.1,674.9 275.4,628.8 333.4,681.0 316.0,640.7 284.4,632.4 303.5,634.1 311.7,647.8 275.7,633.3 294.4,603.9 265.2,579.9 280.1,639.3 301.1,627.9 288.7,662.1 279.1,597.1 311.9,692.1 314.5,635.9 314.4,644.7 327.8,619.6 362.8,689.9 312.0,646.8 303.6,630.5 304.8,626.7 287.8,619.9 332.3,627.7 285.0,622.6 322.0,645.5 291.5,663.8 323.8,678.0 347.8,660.6 295.0,688.1 300.6,604.2 329.7,664.1 342.2,670.5 295.5,612.0 303.3,678.1 290.5,660.5 298.3,672.5 292.7,673.5 319.3,645.2 303.8,654.0 326.7,686.0 268.3,648.7 339.9,659.5 310.3,626.0 271.5,603.1 269.7,606.7 285.2,648.8 362.1,683.2 294.4,661.0 278.0,633.3 310.8,676.4 287.4,613.9 303.6,633.8 297.6,645.4 298.6,630.8 324.0,665.8 336.8,680.3 349.5,622.9 289.8,599.1 282.8,640.2 264.8,700.8 282.6,638.3 344.6,658.7 323.3,658.8 292.8,642.2 267.1,604.4 302.7,624.5 288.2,639.5 297.3,632.1 306.8,675.9 306.4,633.7 336.8,640.8 305.4,652.9 263.7,642.6 342.5,664.1 253.9,594.2 291.9,688.8 305.2,670.8 288.1,603.7 267.4,618.4 280.1,607.1 266.8,608.1 321.9,611.2 322.9,672.5 311.9,645.9 373.2,680.9 343.0,706.7 302.9,627.3 316.3,624.3 320.0,629.1 379.7,667.4 358.9,674.1 313.4,647.1 320.5,629.0 283.9,656.2 308.4,621.1 321.2,609.8 286.9,609.6 311.6,644.9 310.4,648.5 296.4,645.8 257.0,602.1 299.7,702.5 311.2,674.3 288.1,628.3 321.8,694.4 321.7,638.1 305.9,634.6 299.0,639.0 295.5,660.0 347.8,702.0 290.3,661.0 317.4,630.5 355.7,687.7 284.0,651.4 346.4,650.9 350.2,676.6 309.5,649.6 305.8,664.1 374.9,633.4 290.9,616.1 340.4,654.3 315.9,669.8 280.1,619.0 349.4,629.3 302.6,635.2 271.3,624.9 265.7,639.0 270.6,646.7 288.7,633.6 295.3,629.4 348.6,699.6 276.1,650.1 308.4,674.6 290.3,614.7 314.7,636.5 312.3,645.8 296.5,635.2 300.7,674.4 308.0,634.3 299.2,618.7 377.8,710.4 312.4,620.3 338.7,646.6 281.9,639.4 314.4,644.9 267.3,648.3 317.7,693.7 271.9,619.3 323.4,684.0 289.4,642.2 272.2,584.5 308.1,651.0 302.7,635.3 305.5,612.8 287.2,661.0 282.2,604.4 289.4,617.0 280.0,635.9 288.4,625.1 292.2,625.2 324.8,655.8 336.1,661.6 277.3,637.3 316.4,642.5 270.5,597.5 352.8,647.0 268.9,612.6 323.2,710.1 266.7,650.0 265.4,643.9 369.5,622.8 269.2,623.9 312.1,655.5 315.6,701.5 295.1,627.8 277.1,666.9 274.0,617.6 294.9,627.8 298.2,634.6 279.8,612.7 363.3,635.1 304.7,614.6 317.4,641.0 295.7,608.0 274.4,612.3 334.1,696.5 298.0,674.4 289.7,647.3 290.4,652.9 298.3,672.7 367.7,662.7 291.5,623.1 352.4,622.0 304.5,643.1 269.5,640.7 295.6,650.5 352.9,650.6 296.4,645.9 311.3,654.6 270.3,566.0 302.2,655.9 290.5,637.2 330.3,664.6 286.3,636.7 353.0,657.3 280.3,655.2 279.5,623.6 289.8,625.7 305.5,629.7 282.0,649.8 334.6,668.2 306.8,652.3 276.3,649.4 326.6,670.3 393.5,688.1 275.5,579.6 314.5,647.6 260.2,626.4 314.6,698.8 285.5,629.1 286.2,635.6 294.6,681.9 288.0,660.6 330.5,639.9 298.5,685.7 325.5,726.5 311.3,644.1 309.3,627.3 273.1,599.2 272.6,641.1 281.6,607.6 322.9,707.0 346.0,682.2 301.6,662.9 304.3,609.8 276.9,623.6 293.6,635.3 285.0,652.6 293.6,600.6 274.0,649.4 294.1,651.9 305.8,633.9 303.8,683.4 325.7,642.5 298.4,623.9 309.6,614.0 328.3,670.2 306.7,608.0 265.6,616.2 278.8,634.5 287.4,614.3 275.4,637.2 321.1,626.2 272.4,631.7 299.6,647.1 304.0,614.7 333.8,747.7 277.3,603.6 310.8,684.4 298.3,611.9 269.7,618.1 339.0,647.6 310.1,652.6 297.0,673.5 354.6,665.8 311.1,662.9 270.5,664.2 291.2,630.9 303.1,666.8 391.0,644.5 383.7,658.6 392.4,659.4 406.0,674.0 390.0,684.0 431.0,696.6 424.0,740.6 398.6,693.4 382.0,676.7"/>
<polyline fill="none" stroke="none" marker-start="url(#mOCT)" marker-mid="url(#mOCT)" marker-end="url(#mOCT)" points="210.7,715.2 239.6,711.4 204.0,686.1 210.9,707.0 204.2,696.8 219.3,708.2 220.2,724.6 204.9,704.2 202.7,726.7 213.5,711.3 210.6,727.6 221.0,723.6 236.5,738.1 216.7,722.1 226.0,740.1 213.4,699.0 204.9,696.3 218.7,702.9 228.5,737.5 209.5,708.8 228.4,710.8 225.6,735.8 210.2,733.8 209.5,710.0 214.4,712.6 246.8,729.4 213.9,709.2 208.4,695.1 216.9,745.0 205.9,704.0 213.3,703.7 226.9,727.5 230.0,763.7 216.5,723.1 208.1,696.5 209.7,708.6 246.8,733.1 206.8,698.8 213.5,708.3 209.3,708.2 203.8,701.4 208.2,709.8 226.3,703.2 207.8,702.1 211.1,714.3 204.9,705.0 209.7,739.9 216.7,745.9 232.8,734.4 207.8,709.0 231.1,711.7 216.4,739.2 215.5,708.9 226.1,716.4 226.3,711.3 222.6,728.6 234.4,723.0 218.7,727.0 216.6,707.6 231.9,739.7 208.6,707.1 203.7,708.2 215.0,723.6 250.8,732.1 218.0,721.7 230.4,724.2 215.4,715.3 232.4,720.0 225.7,687.8 207.1,739.1 199.9,700.3 234.2,743.3 232.6,713.8 216.2,724.1 217.6,696.6 213.9,702.2 223.8,725.9 210.0,719.3 209.7,715.7 220.9,712.6 215.4,716.8 211.5,710.9 214.7,695.9 215.7,717.7 216.2,705.0 199.0,722.9 239.6,740.4 212.5,711.4 234.0,720.2 224.6,745.0 235.9,726.0 206.5,709.8 218.6,740.3 225.8,722.1 199.1,718.0 229.6,712.5 213.1,709.2 206.1,705.5 214.4,720.4 208.6,708.4 230.6,734.9 222.5,737.9 208.9,717.4 238.7,729.2 231.7,713.7 213.4,712.7 205.6,713.3 218.7,735.4 212.2,717.8 209.7,724.1 218.0,711.2 223.9,729.4 242.8,728.2 223.0,730.2 206.8,736.5 216.8,731.7 216.3,718.9 222.4,712.1 207.8,705.3 226.8,722.9 233.5,730.6 214.2,730.2 226.9,722.8 230.1,713.4 217.8,723.1 232.1,729.2 215.3,704.1 226.6,717.1 244.5,738.5 233.4,719.3 224.1,721.0 241.5,730.7 212.8,710.3 221.1,727.8 214.3,691.1 262.6,767.0 229.4,743.9 207.8,706.2 215.7,713.4 208.4,718.0 237.9,740.0 228.5,710.6 221.2,703.6 241.8,737.3 219.1,719.3 207.2,719.8 209.4,715.9 225.4,711.2 258.6,745.4 234.2,732.6 214.2,708.9 201.4,723.8 210.9,721.8 212.7,724.3 233.3,733.0 222.1,732.2 208.3,707.8 217.4,721.6 231.0,732.7 219.6,732.3 209.6,721.4 225.4,721.0 215.0,691.4 210.5,721.2 224.8,725.3 222.3,713.0 225.2,743.9 208.6,703.3 215.9,710.5 208.7,704.1 215.9,722.9 230.8,714.9 213.4,720.1 218.9,711.8 238.6,754.9 222.2,718.9 241.7,725.7 210.2,719.1 207.1,701.9 224.7,711.5 212.9,714.8 225.9,713.9 213.7,724.8 210.6,730.5 210.4,717.4 253.9,755.7 213.3,717.5 198.6,715.4 216.8,738.3 221.9,723.9 216.6,734.8 201.2,716.9 214.6,713.4 210.1,706.7 218.2,741.0 214.5,711.4 201.4,699.5 227.3,732.1 241.9,749.4 211.7,720.7 213.6,727.0 216.5,712.3 237.8,714.4 232.4,717.0 213.4,711.0 219.5,706.6 220.3,705.6 208.3,703.8 204.7,715.1 211.4,713.7 216.9,716.7 215.2,748.0 206.0,699.2 208.2,727.0 215.2,721.0 209.2,709.5 239.4,743.4 232.7,730.7 210.2,712.6 204.9,712.4 212.4,691.9 207.7,718.1 211.4,713.7 209.9,699.5 206.4,699.2 220.5,713.0 217.3,711.2 206.2,722.9 208.0,711.0 218.7,687.5 227.4,740.2 222.7,724.3 205.5,700.8 246.6,725.8 222.0,727.3 216.6,733.4 211.3,708.2 226.6,722.7 236.3,739.2 224.5,719.8 243.3,730.7 201.6,708.7 212.0,695.9 232.5,739.3 219.3,704.1 206.1,707.6 213.7,712.1 216.2,730.4 208.0,698.9 218.1,725.6 230.0,702.7 206.5,723.9 215.0,727.9 231.5,737.5 229.9,743.6 215.1,721.7 214.2,716.3 208.0,712.6 213.6,703.5 229.5,711.3 226.8,737.6 211.1,715.3 214.3,727.1 236.1,717.9 235.0,758.8 212.1,721.5 210.4,745.7 209.2,719.2 221.1,735.2 212.4,701.8 227.9,728.8 214.7,722.5 212.9,715.8 232.7,742.9 234.9,723.6 220.2,714.6 209.9,712.8 222.6,728.2 210.2,701.1 218.2,735.9 235.0,742.2 200.7,693.1 241.1,752.1 220.1,734.3 214.7,720.1 221.6,695.1 210.3,731.8 215.0,713.2 222.8,727.2 219.2,702.1 203.5,714.4 228.1,728.8 201.3,704.5 218.0,727.5 224.1,722.0 227.1,726.0 207.4,708.5 207.0,717.5 213.6,700.1 208.1,707.1 209.3,717.1 212.0,709.7 239.7,732.3 229.0,727.1 204.8,709.0 216.1,711.4 209.3,705.2 221.7,706.0 211.3,710.4 208.4,734.1 200.2,728.1 211.9,703.1 217.7,710.0 227.4,718.6 251.8,754.2 222.4,732.2 234.2,735.0 205.5,693.5 200.5,719.2 212.5,724.1 214.1,704.9 210.0,719.7 211.6,722.0 206.0,712.3 205.1,720.6 218.6,720.5 211.4,728.5 226.0,734.4 215.6,714.9 204.1,713.8 235.2,724.2 238.0,736.8 212.9,707.3 207.9,729.0 221.1,725.4 240.9,749.4 212.6,717.9 207.6,721.9 212.9,727.9 220.0,715.8 202.3,700.9 221.5,715.2 209.6,715.5 229.5,725.0 224.6,738.5 211.8,717.1 214.7,730.5 216.6,719.4 227.6,742.3 255.9,741.7 212.6,698.7 209.2,715.2 217.0,706.1 211.9,711.3 214.3,713.2 224.2,717.6 236.0,720.7 216.3,726.9 208.0,719.4 236.0,724.7 205.4,702.6 227.9,732.7 230.4,729.0 206.2,722.0 208.2,746.1 217.0,716.1 215.5,707.7 226.3,708.4 206.6,704.4 219.3,706.5 218.8,718.4 223.7,718.2 206.6,704.9 213.9,706.9 227.9,710.8 203.2,709.6 225.0,728.9 198.4,711.3 219.4,706.2 219.5,706.5 219.3,703.9 212.0,718.8 220.9,721.2 229.8,724.3 210.6,721.3 226.4,729.1 218.2,696.4 208.1,705.5 204.8,726.3 221.3,711.3 236.0,715.2 220.6,725.2 223.0,732.4 230.9,711.0 235.4,749.0 227.1,716.9 204.8,711.8 211.3,692.6 223.1,719.6 204.0,715.6 205.7,704.6 206.3,704.5 226.4,719.5 228.8,728.6 209.2,699.1 217.5,702.1 202.5,697.9 214.7,736.2 215.2,715.7 215.6,741.4 208.3,700.6 227.1,729.5 202.4,709.7 212.4,723.1 224.9,751.8 215.1,707.8 212.4,708.3 237.3,742.4 215.5,723.7 220.2,705.0 215.4,709.9 220.5,725.0 213.2,695.4 219.5,721.4 240.6,744.2 244.9,746.5 208.4,691.4 219.4,715.3 211.7,703.1 230.1,726.7 218.8,730.1 213.9,711.6 215.2,713.3 211.2,697.4 213.0,712.4 220.5,721.9 217.9,711.5 213.8,709.4 210.5,727.6 202.3,700.1 203.5,719.0 224.8,714.9 233.3,738.4 212.5,693.9 215.3,702.0 211.6,708.6 228.2,722.5 215.4,710.0 208.7,699.8 206.2,718.8 201.7,701.1 210.7,713.5 209.6,707.5 218.1,710.0 237.5,733.5 204.9,714.9 208.4,702.7 210.4,740.0 212.5,698.3 233.8,739.5 215.2,698.0 221.7,737.9 207.2,701.6 218.5,699.3 227.0,725.6 206.8,725.0 217.8,698.9 206.4,705.6 220.5,735.3 206.4,706.2 203.0,704.0 234.1,728.6 208.1,704.6 232.2,724.6 207.9,726.1 203.9,700.4 207.2,736.3 213.0,709.8 205.8,693.7 232.8,718.6 222.2,735.5 209.4,717.9 216.6,730.9 245.4,786.1 211.6,724.8 207.4,699.9 232.8,725.4 202.1,714.4 251.8,723.4 221.8,712.8 209.2,700.7 208.8,717.5 213.8,710.6 240.7,746.7 226.3,708.5 205.7,707.7 224.9,727.5 212.7,706.2 233.6,724.7 214.7,710.0 218.8,714.1 226.3,725.9 228.6,725.3 224.3,717.9 206.7,705.4 205.6,721.7 227.9,723.0 216.8,725.8 222.2,717.7 222.3,729.0 213.5,716.8 213.5,717.0 224.5,714.3 217.0,722.3 209.6,711.8 200.2,711.2 211.6,728.4 205.3,720.2 213.1,698.5 219.2,740.4 204.7,708.3 215.8,703.0 224.3,732.4 222.6,723.2 237.5,736.5 237.3,724.2 211.8,704.5 210.7,715.8 216.0,705.3 217.7,703.6 230.3,719.5 227.6,725.5 217.1,694.3 232.3,725.7 225.1,718.6 212.9,739.7 235.0,725.0 231.9,713.6 231.1,722.2 201.8,709.8 210.7,698.9 212.1,707.8 214.7,738.8 231.9,734.7 221.1,707.2 208.8,709.9 208.9,731.7 212.2,702.5 218.0,730.5 212.7,722.7 224.7,732.0 210.2,707.6 226.3,729.0 205.0,701.9 247.3,761.4 215.5,735.6 239.6,728.1 226.5,713.8 227.9,749.2 210.2,706.9 223.9,717.0 213.2,715.0 210.7,703.9 210.1,704.6 235.3,734.9 220.7,715.9 221.3,721.0 214.1,703.9 235.7,717.6 244.8,746.9 275.6,751.8 222.2,713.1 205.4,730.3 213.5,728.7 226.0,703.0 212.5,724.9 210.6,734.0 225.3,719.6 225.4,719.0 202.9,724.0 215.2,698.8 212.8,701.9 228.5,731.7 231.0,720.5 220.5,721.0 218.6,719.8 209.4,701.3 218.6,718.0 215.0,692.9 216.3,709.3 218.9,724.5 233.9,733.3 211.3,709.4 212.7,735.1 225.4,740.5 209.5,723.4 215.1,710.8 226.4,725.8 224.0,732.0 205.0,718.1 205.0,705.4 227.3,715.8 219.1,716.9 231.3,729.4 234.3,736.8 217.4,720.6 224.2,709.3 206.9,705.3 218.4,733.3 218.0,720.6 211.7,731.7 217.1,714.5 205.0,716.1 208.1,706.5 219.3,717.3 224.2,717.9 222.1,717.2 212.1,716.2 220.3,702.6 226.6,740.0 229.8,720.2 206.2,747.0 233.4,715.3 212.4,721.3 214.8,716.2 213.9,731.3 258.6,755.4 205.7,703.4 208.1,711.6 205.4,690.6 242.2,747.4 210.0,720.0 214.0,712.3 241.6,726.5 207.2,719.1 220.9,701.7 238.5,748.6 201.7,687.6 226.9,712.1 204.3,706.3 238.6,750.8 234.2,710.3 234.0,711.0 206.1,701.5 217.8,725.1 230.7,712.4 219.7,743.7 205.9,721.4 217.1,735.5 208.7,712.9 206.9,709.4 213.1,717.8 223.9,704.5 206.3,712.4 228.5,727.4 207.3,701.9 210.8,718.8 215.0,712.4 212.0,711.1 234.5,733.1 213.2,705.7 223.1,720.7 220.2,729.3 212.7,703.3 222.8,700.6 214.5,726.4 214.8,705.2 207.5,709.3 225.0,722.8 209.0,717.8 223.4,734.3 222.3,700.9 212.8,742.5 214.3,700.5 218.6,714.8 215.4,710.6 214.0,726.9 217.8,720.0 208.9,715.1 221.9,720.8 216.3,706.5 209.6,696.9 217.0,711.3 216.1,733.7 200.0,720.6 219.3,739.3 219.5,707.9 209.5,707.3 208.5,705.6 231.1,714.7 212.7,709.7 214.6,724.1 218.7,707.8 217.5,716.0 219.2,702.3 245.7,740.0 212.3,717.8 224.2,724.7 216.2,740.4 222.2,715.8 208.4,724.9 202.9,704.2 216.2,716.0 224.5,704.2 207.8,696.7 219.8,725.7 213.8,709.5 234.3,741.1 218.0,726.0 234.8,718.3 215.3,703.1 217.6,711.8 216.8,722.0 212.2,705.6 239.6,737.3 209.4,741.4 204.6,701.4 220.3,726.7 238.9,756.9 222.4,720.8 230.1,701.4 207.2,716.7 214.7,722.9 207.7,730.3 206.7,714.1 210.0,705.8 220.9,728.8 205.9,740.3 211.9,709.8 225.7,734.3 216.0,706.0 220.0,706.6 213.1,729.1 208.1,726.1 206.3,705.6 225.6,723.7 203.5,710.0 208.0,709.1 228.8,722.4 215.1,711.4 236.7,729.9 241.2,739.3 213.8,720.0 241.1,743.5 222.4,735.0 208.4,695.4 219.0,704.3 238.5,709.6 252.2,748.2 211.1,723.7 210.6,700.4 225.6,744.8 213.7,720.3 218.4,713.0 231.5,737.9 205.6,705.5 202.7,700.0 211.3,712.2 219.5,695.8 216.4,711.6 222.6,715.8 227.9,720.3 242.1,740.5 225.1,711.6 212.5,728.1 215.9,708.7 215.9,689.0 203.1,697.7 210.2,708.8 213.0,731.0 218.3,715.8 214.5,698.9 215.7,707.7 224.1,727.7 224.5,727.4 228.7,734.3 218.7,710.1 222.4,722.2 236.7,716.7 216.5,707.9 216.3,700.7 219.1,711.6 212.5,714.9 224.6,738.3 213.8,703.2 206.6,690.1 222.9,702.3 234.6,733.0 213.8,710.6 241.1,757.7 214.9,715.0 235.8,731.3 250.3,779.0 208.4,712.5 224.5,721.5 202.2,699.8 204.7,719.9 235.5,719.7 216.7,720.8 223.6,727.5 212.0,706.2 213.5,716.8 202.4,704.8 228.4,718.8 230.0,709.0 232.7,728.2 213.8,712.0 218.4,728.6 210.4,702.1 206.5,715.8 224.9,734.0 228.1,713.2 220.2,728.2 210.0,703.8 238.4,732.2 223.9,727.7 208.4,718.4 219.1,709.4 223.1,722.1 213.0,703.2 214.6,727.2 239.0,725.6 230.3,720.4 230.7,717.9 222.8,732.9 213.3,707.5 214.1,707.4 210.3,705.8 211.5,718.9 220.4,714.3 204.7,709.6 210.5,702.1 209.5,701.1 237.6,737.9 206.9,705.3 249.3,747.1 209.1,708.1 216.4,709.3 203.6,708.9 215.4,716.3 215.3,718.9 225.9,730.1 215.2,701.9 224.6,703.5 217.8,725.0 223.6,720.4 218.6,710.3 237.7,725.6 210.8,712.5 220.8,711.2 212.4,722.5 211.8,696.4 216.0,704.2 211.4,737.3 215.5,725.5 211.9,708.9 230.7,734.0 212.7,707.9 232.7,738.8 218.8,720.9 210.5,714.9 220.9,733.7 213.6,735.6 219.9,707.0 215.6,745.1 217.2,741.0 228.6,735.1 207.5,711.4 206.1,719.1 201.9,695.3 222.8,729.7 221.2,716.8 210.3,713.8 215.2,707.4 206.6,698.9 219.3,721.6 213.6,722.0 212.0,721.2 226.7,718.3 240.6,725.3 226.0,715.9 225.0,733.3 225.2,713.8 215.8,717.4 225.9,743.9 225.3,702.3 220.9,708.1 209.9,710.7 228.1,761.3 223.1,739.0 218.5,723.8 210.5,701.0 223.4,735.1 218.8,718.2 221.9,713.2 210.8,702.2 210.7,702.6 216.3,696.8 233.8,732.9 213.2,726.8 212.5,716.1 209.9,715.0 224.1,707.8 220.6,719.3 217.9,719.3 225.3,723.6 216.3,731.6 207.6,709.3 211.9,726.0 214.0,702.2 213.3,712.0 216.8,707.1 218.1,722.3 230.1,712.7 201.7,726.9 238.8,718.2 221.7,727.8 214.8,717.1 227.3,728.0 216.4,707.5 212.5,700.5 215.4,708.1 207.7,699.3 200.9,713.0 209.4,694.4 210.2,693.8 223.2,731.1 232.0,724.0 209.8,702.5 237.8,728.4 217.1,726.4 205.3,743.5 218.9,699.4 215.7,716.3 211.5,729.1 206.1,706.9 208.1,713.7 226.2,722.5 231.4,718.9 210.9,718.5 202.5,729.2 203.4,743.6 223.7,701.5 210.5,720.2 225.7,722.0 211.9,709.8 218.3,707.8 213.2,719.6 211.1,727.8 205.5,702.4 225.3,729.6 209.4,696.4 212.9,701.6 204.5,717.7 202.1,712.2 210.2,702.8 217.3,728.2 242.9,726.2 224.7,752.5 202.2,741.2 210.9,715.5 207.9,726.2 209.8,694.9 217.7,729.1 203.8,729.3 210.6,714.8 216.9,708.4 224.7,725.5 209.7,725.6 214.0,726.2 218.2,714.5 236.2,714.2 229.2,726.7 215.1,703.0 211.8,708.1 228.0,732.6 220.8,724.6 217.2,741.7 207.1,701.3 211.2,739.1 208.0,694.4 201.4,688.2 213.7,720.2 243.9,764.9 210.5,712.2 221.8,712.5 207.0,701.2 219.2,709.8 224.8,710.7 209.7,712.4 211.0,725.1 214.0,726.2 218.7,720.2 257.9,760.5 212.9,727.4 209.8,716.1 215.0,715.1 232.1,723.1 224.7,733.5 207.3,707.4 238.0,758.0 248.6,758.0 266.0,753.0 272.0,768.5 282.0,748.0"/>
<polyline fill="none" stroke="none" marker-start="url(#mCU)" marker-mid="url(#mCU)" marker-end="url(#mCU)" points="311.3,700.2 323.9,696.4 368.3,715.7 316.7,692.6 353.8,709.7 338.3,702.4 308.3,700.3 336.2,718.3 328.2,702.6 315.0,711.1 313.2,701.7 328.7,715.3 342.5,693.3 297.0,704.2 307.8,718.5 302.4,724.3 329.4,703.1 306.6,693.6 305.8,714.8 336.9,684.8 369.6,735.6 292.4,687.6 305.6,689.3 331.7,730.2 324.3,760.6 361.6,705.8 353.5,716.2 321.9,703.4 381.2,723.9 429.6,815.8 357.3,723.1 315.5,680.3 377.0,722.8 335.8,722.7 349.0,712.2 326.4,695.9 333.3,687.9 359.1,704.0 303.8,708.0 361.8,720.5 308.0,669.9 342.9,737.3 302.6,720.0 303.9,710.7 330.3,726.3 329.0,707.4 317.5,694.4 294.4,667.1 321.3,730.2 318.7,679.1 313.0,695.0 335.0,692.1 333.3,735.5 344.8,727.1 394.0,722.5 308.6,702.1 330.9,693.7 314.9,681.8 331.8,720.8 322.0,713.1 400.7,722.8 337.9,691.8 306.4,704.3 330.0,731.0 317.1,678.1 352.9,712.1 358.1,744.4 345.0,703.1 349.5,726.6 352.5,709.1 321.7,691.0 349.8,703.1 330.7,683.8 404.2,753.4 306.4,693.7 331.3,706.4 319.7,692.9 387.4,729.9 323.8,700.0 320.7,726.0 336.7,691.1 349.5,701.9 304.7,696.6 313.3,684.7 296.4,680.8 359.9,740.7 359.6,722.4 320.5,709.9 327.2,707.1 328.9,708.2 415.0,745.4 308.9,725.0 342.2,697.6 316.2,695.7 344.9,735.2 342.0,708.3 345.6,718.8 400.8,742.5 301.6,684.4 381.2,755.8 291.2,682.0 330.5,722.1 307.2,733.0 355.5,727.4 325.5,703.9 393.4,728.4 340.1,712.4 326.7,690.9 310.2,718.3 328.2,705.6 325.3,695.3 375.8,726.5 369.6,710.1 333.1,702.6 288.2,680.3 365.2,719.5 305.7,743.6 316.9,697.7 343.9,716.5 314.2,703.1 376.0,737.0 350.1,725.9 302.3,675.0 350.5,733.9 309.3,712.1 333.6,705.7 321.4,709.9 338.7,696.0 361.6,753.7 376.2,716.8 321.8,705.5 345.2,713.4 347.1,767.5 311.3,689.6 370.6,743.2 352.4,712.3 393.9,761.4 327.1,735.2 333.6,715.6 358.1,718.2 323.2,689.9 373.4,745.7 332.5,714.1 288.6,676.9 321.9,700.8 332.4,704.3 306.1,681.3 357.2,724.6 309.3,688.7 334.9,730.6 315.7,689.6 365.4,726.7 370.6,732.6 313.5,697.0 344.2,717.0 325.2,692.2 411.2,737.1 304.7,679.2 300.7,671.6 313.0,693.9 346.4,699.6 301.8,685.7 364.5,721.1 344.1,709.8 346.6,740.5 303.3,687.0 312.7,706.5 313.2,700.7 321.9,703.1 301.8,676.8 399.9,737.5 350.8,717.6 368.3,727.8 353.5,704.3 323.4,687.1 298.3,687.3 303.0,696.9 336.5,736.6 313.7,684.7 316.9,712.3 320.0,709.2 319.4,705.4 346.2,716.3 314.2,681.2 343.3,703.2 329.3,709.1 340.0,711.2 352.9,707.9 330.9,717.9 358.7,728.0 345.5,715.6 338.3,714.7 318.1,724.8 310.2,683.9 390.8,727.4 370.3,733.0 353.2,714.9 306.2,684.0 307.2,702.7 387.3,724.5 329.2,691.8 339.7,735.0 388.3,722.9 298.4,707.0 361.9,744.3 346.5,691.4 324.5,695.6 359.9,715.0 336.5,694.8 325.3,706.8 380.8,712.8 318.4,739.9 353.0,697.9 302.0,727.4 317.5,706.6 296.4,696.2 339.1,693.4 304.1,678.3 376.3,722.6 339.3,700.0 313.6,691.8 321.9,690.7 346.3,722.4 407.3,724.2 375.3,737.8 314.6,737.3 359.5,719.2 354.9,727.1 336.6,720.6 340.4,770.4 314.7,710.5 397.9,735.6 315.6,700.1 319.6,745.6 336.8,713.8 340.9,741.4 350.6,717.5 337.7,735.4 309.7,702.8 356.4,713.4 350.0,718.9 340.3,697.6 342.0,723.3 324.8,685.4 322.0,727.2 344.0,729.4 375.9,730.5 297.6,708.9 360.8,719.5 354.1,747.8 309.7,715.2 351.2,699.3 309.4,706.9 338.8,759.9 332.4,710.0 325.7,684.7 344.0,773.5 342.7,715.8 308.5,686.1 382.9,732.9 296.8,688.6 405.7,745.4 328.8,687.5 308.6,710.6 335.3,712.5 292.7,681.0 312.5,702.7 337.5,694.7 377.6,722.6 376.6,706.3 316.6,708.6 338.8,735.3 292.6,664.2 353.2,756.4 322.7,707.1 364.3,711.0 331.8,707.5 305.7,702.8 392.7,736.2 338.9,723.4 316.2,699.0 321.0,712.0 299.9,692.5 345.4,721.8 323.4,677.9 328.3,699.1 323.9,713.6 334.0,708.1 299.8,699.4 315.1,700.5 288.5,700.8 307.6,681.7 344.1,699.2 330.9,748.7 355.4,728.0 309.8,703.6 327.6,694.8 324.6,698.2 303.5,725.7 369.5,752.8 407.7,759.0 336.3,714.7 315.0,698.2 316.7,734.6 311.1,676.7 383.9,750.1 356.6,729.5 337.1,715.2 370.6,751.9 335.4,740.5 354.7,701.9 335.4,746.0 361.5,733.3 362.4,715.5 324.3,689.7 354.6,715.3 302.6,677.1 412.8,727.3 315.3,760.6 333.6,735.1 315.3,692.9 350.7,710.5 371.8,768.9 321.8,728.4 343.7,715.6 328.9,699.3 346.8,691.3 332.3,735.5 360.1,787.8 335.7,693.8 354.0,703.2 313.9,704.6 311.5,690.9 328.6,711.1 316.1,694.0 327.6,693.6 312.0,707.3 385.1,728.5 316.9,716.7 299.6,705.1 320.7,691.3 323.2,677.8 339.5,691.0 295.6,685.2 353.8,718.7 343.7,755.4 355.9,700.6 316.8,708.1 315.8,699.8 373.1,756.2 396.9,728.3 318.9,694.9 372.0,744.7 308.9,668.9 335.1,712.8 331.3,696.2 317.2,683.4 367.5,735.9 302.0,679.6 338.8,701.5 393.8,734.4 307.9,694.6 378.3,707.8 358.8,711.2 333.6,704.4 339.9,693.1 342.2,720.5 324.0,718.3 337.6,698.7 409.6,723.5 321.7,696.5 333.6,724.1 333.8,728.8 306.0,693.1 323.5,717.8 348.3,734.5 398.9,748.0 335.2,733.7 322.2,698.2 315.6,713.5 292.2,665.4 359.1,720.8 332.5,748.2 311.8,685.1 335.6,720.2 345.6,735.0 341.5,748.6 304.4,719.1 308.4,718.9 317.7,715.5 311.6,685.4 335.4,711.9 394.3,741.8 322.7,741.6 307.0,697.9 379.0,707.1 351.9,756.3 400.6,730.8 320.8,772.2 307.3,670.4 340.3,737.4 354.8,732.2 306.7,701.4 365.3,755.0 313.8,703.7 355.0,741.1 324.9,709.7 365.8,726.7 429.7,784.3 354.6,750.7 360.6,708.5 319.2,692.0 315.3,682.7 389.1,729.4 306.7,674.4 335.7,731.9 335.9,719.5 339.6,726.8 294.3,680.1 297.4,694.5 341.1,693.7 327.3,713.0 402.2,758.0 293.6,755.4 341.8,702.7 319.9,715.5 349.2,732.6 306.5,721.5 297.2,672.0 314.9,688.4 318.0,709.7 342.3,705.2 370.9,733.0 308.5,701.8 315.6,731.1 461.4,753.6 330.2,745.9 320.4,704.1 321.7,696.2 320.4,675.7 301.1,692.3 327.6,740.1 341.2,713.2 322.5,723.4 337.2,709.8 293.4,729.5 297.5,686.8 353.1,706.3 393.7,719.5 306.4,684.2 319.6,698.4 388.3,776.2 319.7,687.9 311.2,700.2 353.0,726.7 323.2,700.7 369.8,719.9 300.0,664.0 309.4,696.1 351.6,718.9 399.5,738.5 306.3,727.8 361.6,724.9 326.8,683.8 373.2,730.5 356.0,710.2 338.0,702.3 322.2,733.9 334.4,698.6 365.8,763.2 321.5,704.9 334.5,702.7 358.4,751.7 334.7,747.1 364.3,719.3 380.6,714.1 296.5,668.7 336.4,714.8 315.5,710.8 342.8,702.2 379.1,759.3 316.7,724.6 358.7,742.3 336.3,695.8 365.6,728.4 382.7,729.1 352.5,712.4 336.9,699.0 309.6,715.1 362.9,730.0 335.6,697.9 322.8,700.4 332.2,696.5 334.9,713.9 350.4,710.0 337.8,718.2 322.3,699.7 315.2,744.1 349.5,750.8 397.8,728.3 326.4,690.8 293.0,682.6 347.4,727.5 379.8,741.2 326.6,722.3 339.2,714.2 306.9,690.0 352.4,718.4 370.1,702.2 332.4,717.9 363.8,710.1 363.3,710.3 337.9,696.1 325.4,698.1 326.1,682.1 333.9,701.6 317.0,698.3 370.3,745.1 324.0,748.1 358.0,741.7 316.2,690.9 383.3,717.3 364.3,737.7 356.5,741.1 304.6,713.4 319.2,701.6 343.1,705.5 356.7,721.2 301.8,666.9 318.9,682.6 319.3,691.9 334.6,702.7 330.6,694.4 328.9,740.8 432.5,768.5 311.0,741.1 353.0,713.1 357.3,710.2 327.3,686.7 312.6,674.2 312.3,685.6 391.0,725.3 330.5,714.5 318.1,725.9 339.5,705.0 358.6,709.5 321.3,684.9 293.8,694.9 313.3,681.5 312.5,702.8 313.7,730.8 349.1,717.2 334.7,734.0 305.3,721.0 360.6,696.6 366.7,730.1 368.1,717.7 372.6,723.4 410.7,750.3 340.2,695.4 335.4,684.4 324.2,684.0 362.9,702.5 334.5,736.0 317.5,724.1 317.5,703.2 344.5,737.2 318.4,690.2 384.2,715.8 355.7,736.7 354.4,714.2 327.2,697.0 335.9,691.1 330.2,725.1 351.9,710.0 301.6,691.7 384.2,737.9 343.3,730.3 326.8,688.1 297.9,680.6 297.8,686.4 364.5,708.2 338.7,734.2 336.4,694.1 324.5,711.3 302.0,709.2 316.0,701.3 321.3,691.0 325.8,716.9 343.4,722.8 398.7,756.6 316.4,707.0 364.8,716.7 355.7,699.6 387.3,745.0 367.8,744.0 298.2,695.5 340.4,707.4 284.7,682.7 368.9,715.5 318.8,681.4 332.0,745.3 367.8,731.3 318.2,715.6 303.1,680.8 376.4,727.7 337.3,703.7 314.9,688.3 360.4,724.1 330.5,705.1 300.9,691.8 317.8,689.3 316.0,690.7 333.2,723.3 333.3,697.4 324.3,716.9 326.1,746.5 308.5,691.2 348.1,711.1 323.1,746.3 322.5,702.8 317.4,706.7 364.9,726.8 318.8,683.2 335.3,704.0 325.9,741.4 310.9,668.8 344.1,695.1 330.8,691.1 325.9,721.0 302.1,668.9 348.7,745.9 316.2,699.0 309.8,744.4 327.8,707.7 327.2,703.6 318.9,694.9 323.3,688.5 333.5,712.3 301.5,686.9 336.3,752.8 293.0,701.1 313.0,699.0 336.8,715.6 369.2,710.1 301.0,685.4 365.2,719.0 301.5,688.6 366.4,780.5 296.2,723.4 328.6,679.2 340.4,712.5 394.1,713.4 336.3,681.3 366.9,727.3 342.4,697.3 301.4,690.0 346.8,688.8 338.6,694.6 335.2,692.8 321.1,686.4 311.0,696.3 326.5,728.3 335.6,719.8 383.4,715.7 310.0,711.2 351.6,722.2 363.2,709.5 318.0,707.2 296.5,699.7 357.7,702.5 321.2,700.1 348.8,694.6 331.1,683.1 361.6,742.6 329.0,699.0 301.6,693.0 321.2,703.9 337.5,698.9 431.6,747.8 342.1,734.8 364.9,740.4 335.3,760.2 316.8,701.6 320.2,693.9 298.2,677.4 317.9,713.5 377.1,753.0 313.5,719.7 332.5,686.1 329.1,698.3 312.4,702.4 301.5,690.3 314.6,710.2 317.6,707.2 343.4,691.5 336.8,693.2 297.3,700.7 338.4,717.5 320.4,696.2 406.2,795.8 317.7,711.2 336.9,692.7 367.6,742.8 336.3,720.7 359.6,722.7 302.6,693.1 323.5,685.6 320.9,685.2 351.6,702.6 329.9,696.7 306.6,680.1 298.7,680.8 358.5,742.8 373.9,712.9 385.8,747.1 361.7,700.4 341.9,707.5 332.8,724.0 324.8,726.2 341.9,767.1 408.3,752.7 332.1,708.8 349.1,699.8 320.5,687.2 333.6,722.3 294.0,676.6 353.7,715.4 342.5,715.9 315.7,690.7 348.0,722.6 309.6,718.3 303.9,687.4 304.4,722.1 319.7,677.5 290.2,694.4 343.9,693.1 297.4,674.0 308.4,691.6 318.4,702.9 366.6,704.7 351.0,715.2 324.5,705.5 310.7,703.5 359.0,736.0 373.2,726.3 319.2,682.9 288.5,676.9 314.7,710.2 381.1,775.6 358.5,709.0 354.1,746.1 368.4,716.2 343.7,699.3 369.7,743.9 335.3,691.8 340.0,700.9 295.2,695.5 412.0,788.9 293.3,672.9 310.9,689.3 328.6,709.4 319.3,680.8 333.2,730.9 321.9,678.0 327.6,698.6 290.3,674.6 321.8,703.4 429.6,775.6 295.8,724.6 362.4,704.7 305.1,698.9 398.8,723.7 295.1,688.4 350.5,715.1 335.2,701.0 327.5,707.4 303.3,683.7 327.6,707.8 335.3,743.5 315.1,689.4 359.2,718.5 328.1,712.0 325.7,721.6 352.9,712.9 315.1,739.1 328.2,718.3 315.1,689.7 308.0,718.1 322.6,706.1 324.4,694.4 295.1,701.6 328.6,722.0 296.7,721.3 300.3,687.8 344.6,718.4 311.9,725.5 332.1,703.9 292.5,669.0 354.3,764.6 344.7,734.0 340.6,702.6 336.7,704.9 312.1,681.0 333.9,693.6 325.5,711.1 320.2,712.8 385.0,800.8 299.7,668.5 312.9,718.9 351.8,730.8 356.1,714.7 360.9,737.1 326.3,720.4 386.1,717.7 313.6,701.3 345.8,715.2 333.5,711.4 353.6,711.6 338.5,691.6 342.7,708.8 366.3,727.7 337.9,721.3 427.0,731.4 374.4,725.4 351.9,734.3 314.4,729.5 349.9,700.2 342.0,722.1 351.9,709.3 401.0,724.2 311.4,718.5 335.1,709.5 308.7,710.0 340.3,705.5 301.8,687.2 327.1,734.4 367.9,716.0 346.7,718.2 352.0,724.0 352.1,716.1 346.5,695.8 307.1,691.4 335.1,704.4 303.0,695.4 372.0,750.7 329.8,700.6 331.9,694.5 314.7,689.7 325.8,700.4 321.9,730.7 310.1,676.2 372.0,757.4 336.8,693.1 345.8,742.4 366.6,750.7 316.2,675.0 301.8,690.8 365.9,732.1 324.9,703.3 353.0,699.2 315.7,698.3 310.8,700.3 370.0,733.7 347.9,719.4 366.1,718.8 345.6,715.3 316.7,688.0 347.0,714.3 310.0,700.6 305.7,688.4 409.3,741.2 360.4,711.6 333.4,693.1 326.5,722.1 415.5,748.0 375.9,715.0 354.1,742.0 313.7,676.4 312.3,704.5 306.8,706.4 336.0,706.3 394.4,735.8 318.2,708.2 356.9,703.3 310.8,687.2 329.9,695.7 325.5,711.2 341.8,711.6 355.5,716.8 327.0,713.7 328.6,705.0 321.4,727.5 396.7,734.2 332.1,715.9 355.6,730.4 300.1,700.4 359.6,728.6 311.7,718.3 334.7,737.4 347.8,697.5 329.8,677.0 317.7,701.5 362.5,726.9 339.4,715.6 333.9,689.2 319.8,683.0 308.7,696.6 293.3,704.6 372.0,718.7 322.5,724.5 324.4,691.0 370.5,718.8 385.0,796.2 327.9,702.4 305.7,699.1 357.1,728.5 370.6,718.5 372.9,711.1 351.0,716.1 330.3,749.4 370.8,722.2 371.1,722.1 319.4,716.0 292.9,723.0 300.2,664.0 360.5,701.8 338.4,707.5 321.0,690.7 313.8,706.5 368.2,745.4 330.8,717.7 347.4,715.2 338.3,716.6 337.6,751.2 338.9,709.6 332.7,710.4 342.5,705.4 336.3,686.5 317.1,730.2 336.0,685.3 327.1,695.9 356.9,723.1 343.0,716.0 305.9,689.5 333.8,700.7 329.6,705.6 328.8,757.4 304.9,679.2 350.1,716.0 309.3,689.7 328.7,736.4 340.8,689.1 326.0,697.5 313.1,740.8 360.0,728.2 332.0,706.9 364.0,720.1 350.8,737.9 372.2,715.9 344.7,701.8 309.5,694.4 329.3,714.1 342.4,706.7 300.1,719.6 370.9,714.0 321.9,725.4 296.3,666.5 332.9,753.1 355.5,762.1 331.6,682.8 370.8,730.5 312.3,692.4 329.0,686.4 316.1,685.5 318.6,700.1 332.1,683.1 375.4,772.2 346.8,707.5 375.2,734.9 313.3,690.3 332.1,716.1 339.8,695.5 327.9,685.3 347.9,709.7 303.7,692.6 409.1,741.8 324.3,704.2 339.3,682.2 339.2,713.6 436.6,750.7 316.0,713.4 286.2,686.6 386.3,758.8 329.5,680.2 334.4,721.9 385.9,732.0 319.0,688.8 331.3,696.8 391.1,725.0 432.0,671.0 464.5,750.6 455.8,775.5 496.7,778.0 467.4,797.7 491.8,832.5 415.0,794.6 446.0,734.0 436.0,733.0 443.5,761.6 434.7,754.3 448.0,719.0 416.0,704.0"/>
<rect x="83.5" y="502.5" width="450.6" height="360.1" fill="none" stroke="#848484" stroke-width="1.4"/>
<path d="M120.50 862.6v3M170.03 862.6v3M219.55 862.6v3M269.08 862.6v3M318.60 862.6v3M368.12 862.6v3M417.65 862.6v3M467.18 862.6v3M516.70 862.6v3M80.5 831.38h3M80.5 776.24h3M80.5 721.10h3M80.5 665.96h3M80.5 610.82h3M80.5 555.68h3" stroke="#555" stroke-width="1.1" fill="none"/>
<text x="120.5" y="876.3" font-size="10.3" text-anchor="middle" fill="#404040" color="#404040" textLength="5.42" lengthAdjust="spacingAndGlyphs">0</text>
<text x="170.0" y="876.3" font-size="10.3" text-anchor="middle" fill="#404040" color="#404040" textLength="10.85" lengthAdjust="spacingAndGlyphs">50</text>
<text x="219.6" y="876.3" font-size="10.3" text-anchor="middle" fill="#404040" color="#404040" textLength="16.27" lengthAdjust="spacingAndGlyphs">100</text>
<text x="269.1" y="876.3" font-size="10.3" text-anchor="middle" fill="#404040" color="#404040" textLength="16.27" lengthAdjust="spacingAndGlyphs">150</text>
<text x="318.6" y="876.3" font-size="10.3" text-anchor="middle" fill="#404040" color="#404040" textLength="16.27" lengthAdjust="spacingAndGlyphs">200</text>
<text x="368.1" y="876.3" font-size="10.3" text-anchor="middle" fill="#404040" color="#404040" textLength="16.27" lengthAdjust="spacingAndGlyphs">250</text>
<text x="417.7" y="876.3" font-size="10.3" text-anchor="middle" fill="#404040" color="#404040" textLength="16.27" lengthAdjust="spacingAndGlyphs">300</text>
<text x="467.2" y="876.3" font-size="10.3" text-anchor="middle" fill="#404040" color="#404040" textLength="16.27" lengthAdjust="spacingAndGlyphs">350</text>
<text x="516.7" y="876.3" font-size="10.3" text-anchor="middle" fill="#404040" color="#404040" textLength="16.27" lengthAdjust="spacingAndGlyphs">400</text>
<text x="77.7" y="835.4" font-size="10.3" text-anchor="end" fill="#404040" color="#404040" textLength="49.07" lengthAdjust="spacingAndGlyphs">−4,000,000</text>
<text x="77.7" y="780.2" font-size="10.3" text-anchor="end" fill="#404040" color="#404040" textLength="49.07" lengthAdjust="spacingAndGlyphs">−2,000,000</text>
<text x="77.7" y="725.1" font-size="10.3" text-anchor="end" fill="#404040" color="#404040" textLength="5.42" lengthAdjust="spacingAndGlyphs">0</text>
<text x="77.7" y="670.0" font-size="10.3" text-anchor="end" fill="#404040" color="#404040" textLength="43.38" lengthAdjust="spacingAndGlyphs">2,000,000</text>
<text x="77.7" y="614.8" font-size="10.3" text-anchor="end" fill="#404040" color="#404040" textLength="43.38" lengthAdjust="spacingAndGlyphs">4,000,000</text>
<text x="77.7" y="559.7" font-size="10.3" text-anchor="end" fill="#404040" color="#404040" textLength="43.38" lengthAdjust="spacingAndGlyphs">6,000,000</text>
<text x="307.6" y="888.7" font-size="10.75" text-anchor="middle" font-weight="bold">Discounted Effects (QALYs)</text>
<text x="0" y="0" font-size="10.75" font-weight="bold" text-anchor="middle" transform="translate(23.4 682.5) rotate(-90)">Discounted Costs (EUR)</text>
<polyline points="120.5,721.0 218.6,720.3 334.7,715.2" fill="none" stroke="#000" stroke-width="1.1"/>
<path d="M120.50 717.65L123.40 722.67L117.60 722.67Z"/>
<path d="M218.60 716.95L221.50 721.97L215.70 721.97Z"/>
<path d="M334.70 711.85L337.60 716.87L331.80 716.87Z"/>
<circle cx="181.4" cy="622.2" r="2.45"/>
<circle cx="167.1" cy="696.7" r="2.45"/>
<circle cx="302.7" cy="644.8" r="2.45"/>
<path d="M181.4 622.2L176.8 630" stroke="#000" stroke-width="0.8"/>
<rect x="156.8" y="627.3" width="21.0" height="12.8" rx="2" fill="#fff" stroke="#333" stroke-width="0.8"/>
<text x="167.2" y="637.5" font-size="8.85" text-anchor="middle">MV</text>
<rect x="150.5" y="679.1" width="61.7" height="13.2" rx="2" fill="#fff" stroke="#333" stroke-width="0.8"/>
<text x="181.3" y="689.7" font-size="8.85" text-anchor="middle">MV: Sep−Mar</text>
<rect x="102.3" y="702.9" width="65.8" height="13.3" rx="2" fill="#fff" stroke="#333" stroke-width="0.8"/>
<text x="135.2" y="713.6" font-size="8.85" text-anchor="middle">no intervention</text>
<rect x="169.3" y="726.2" width="71.4" height="13.3" rx="2" fill="#fff" stroke="#333" stroke-width="0.8"/>
<text x="205.0" y="736.9" font-size="8.85" text-anchor="middle">NmAb: Oct−Mar</text>
<rect x="272.8" y="650.2" width="32.3" height="13.5" rx="2" fill="#fff" stroke="#333" stroke-width="0.8"/>
<text x="288.9" y="661.1" font-size="8.85" text-anchor="middle">NmAb</text>
<rect x="289.8" y="697.4" width="117.6" height="13.2" rx="2" fill="#fff" stroke="#333" stroke-width="0.8"/>
<text x="348.6" y="708.0" font-size="8.85" text-anchor="middle">NmAb: Oct−Mar + catch−up</text>
<circle cx="559.0" cy="140.2" r="2.4"/>
<text x="572.8" y="143.8" font-size="8.8">Dominated</text>
<path d="M559.00 154.25L561.90 159.27L556.10 159.27Z"/>
<text x="572.8" y="160.8" font-size="8.8">Weakly Dominated</text>
<path d="M552.3 174.3H565.4" stroke="#000" stroke-width="1.2"/>
<rect x="556.7" y="172.0" width="4.6" height="4.6"/>
<text x="572.8" y="177.9" font-size="8.8">Efficient Frontier</text>
<text x="550.6" y="214.1" font-size="11.8" font-weight="bold">Strategy</text>
<path d="M556.4 226.9l5.2 5.2m0 -5.2l-5.2 5.2" stroke="#F07E7A" stroke-opacity="0.75" stroke-width="1.1" fill="none"/>
<text x="572.8" y="232.9" font-size="8.8">MV</text>
<path d="M556.4 243.8l5.2 5.2m0 -5.2l-5.2 5.2" stroke="#B2BA2C" stroke-opacity="0.75" stroke-width="1.1" fill="none"/>
<text x="572.8" y="249.8" font-size="8.8">MV: Sep−Mar</text>
<path d="M556.4 261.2l5.2 5.2m0 -5.2l-5.2 5.2" stroke="#46DEA2" stroke-opacity="0.75" stroke-width="1.1" fill="none"/>
<text x="572.8" y="267.2" font-size="8.8">NmAb</text>
<path d="M556.4 278.59999999999997l5.2 5.2m0 -5.2l-5.2 5.2" stroke="#4AB5EE" stroke-opacity="0.75" stroke-width="1.1" fill="none"/>
<text x="572.8" y="284.6" font-size="8.8">NmAb: Oct−Mar</text>
<path d="M556.4 295.5l5.2 5.2m0 -5.2l-5.2 5.2" stroke="#E67CF2" stroke-opacity="0.75" stroke-width="1.1" fill="none"/>
<text x="572.8" y="301.5" font-size="8.8">NmAb: Oct−Mar + catch−up</text>
<circle cx="559.0" cy="613.0" r="2.4"/>
<text x="572.8" y="616.6" font-size="8.8">Dominated</text>
<path d="M552.3 629.5H565.4" stroke="#000" stroke-width="1.2"/>
<path d="M559.00 626.55L561.90 631.57L556.10 631.57Z"/>
<text x="572.8" y="633.1" font-size="8.8">Efficient Frontier</text>
<text x="550.6" y="670.2" font-size="11.8" font-weight="bold">Strategy</text>
<path d="M556.4 683.0l5.2 5.2m0 -5.2l-5.2 5.2" stroke="#F07E7A" stroke-opacity="0.75" stroke-width="1.1" fill="none"/>
<text x="572.8" y="689.0" font-size="8.8">MV</text>
<path d="M556.4 699.9l5.2 5.2m0 -5.2l-5.2 5.2" stroke="#B2BA2C" stroke-opacity="0.75" stroke-width="1.1" fill="none"/>
<text x="572.8" y="705.9" font-size="8.8">MV: Sep−Mar</text>
<path d="M556.4 717.3l5.2 5.2m0 -5.2l-5.2 5.2" stroke="#46DEA2" stroke-opacity="0.75" stroke-width="1.1" fill="none"/>
<text x="572.8" y="723.3" font-size="8.8">NmAb</text>
<path d="M556.4 733.8l5.2 5.2m0 -5.2l-5.2 5.2" stroke="#4AB5EE" stroke-opacity="0.75" stroke-width="1.1" fill="none"/>
<text x="572.8" y="739.8" font-size="8.8">NmAb: Oct−Mar</text>
<path d="M556.4 750.6999999999999l5.2 5.2m0 -5.2l-5.2 5.2" stroke="#E67CF2" stroke-opacity="0.75" stroke-width="1.1" fill="none"/>
<text x="572.8" y="756.7" font-size="8.8">NmAb: Oct−Mar + catch−up</text>
</svg></body></html>
